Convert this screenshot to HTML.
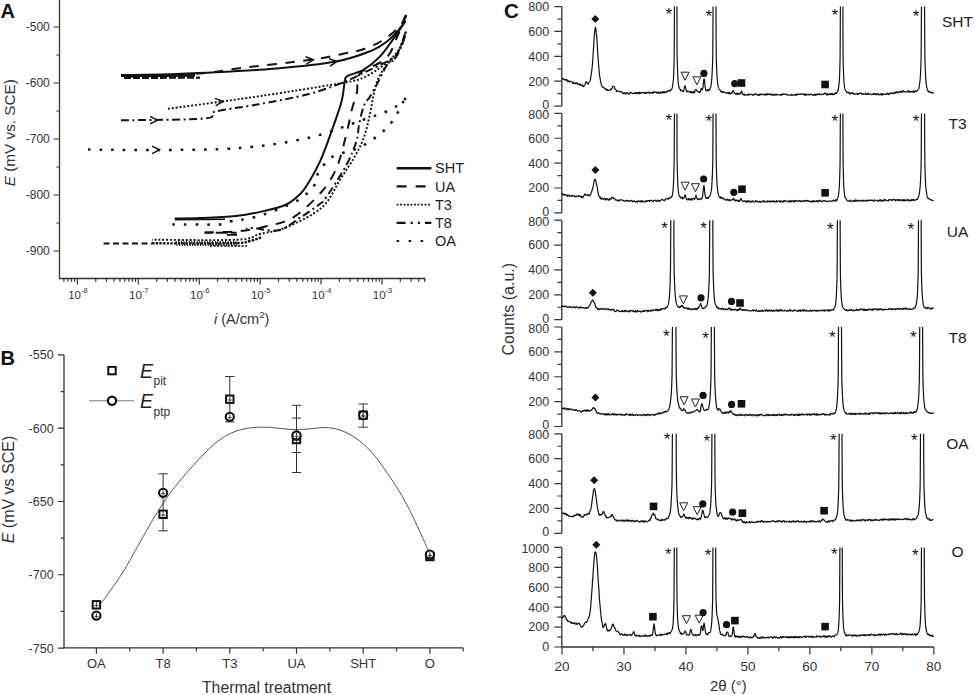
<!DOCTYPE html>
<html><head><meta charset="utf-8"><title>Figure</title>
<style>
html,body{margin:0;padding:0;background:#fff;width:975px;height:695px;overflow:hidden;}
svg{display:block;font-family:"Liberation Sans", sans-serif;}
</style></head><body>
<svg width="975" height="695" viewBox="0 0 975 695">
<rect width="975" height="695" fill="#fff"/>
<text x="0.5" y="18" font-size="20" text-anchor="start" font-weight="bold" font-style="normal" fill="#111" >A</text>
<path d="M59.5,0 V278.5 H425.5" fill="none" stroke="#333" stroke-width="1.3"/>
<text x="49.8" y="31.2" font-size="12" text-anchor="end" font-weight="normal" font-style="normal" fill="#333" >-500</text>
<text x="49.8" y="87.2" font-size="12" text-anchor="end" font-weight="normal" font-style="normal" fill="#333" >-600</text>
<text x="49.8" y="143.2" font-size="12" text-anchor="end" font-weight="normal" font-style="normal" fill="#333" >-700</text>
<text x="49.8" y="199.2" font-size="12" text-anchor="end" font-weight="normal" font-style="normal" fill="#333" >-800</text>
<text x="49.8" y="255.2" font-size="12" text-anchor="end" font-weight="normal" font-style="normal" fill="#333" >-900</text>
<text x="77.9" y="298.5" font-size="11.5" text-anchor="middle" fill="#333">10<tspan font-size="7.5" dy="-5.5">-8</tspan></text>
<text x="138.82" y="298.5" font-size="11.5" text-anchor="middle" fill="#333">10<tspan font-size="7.5" dy="-5.5">-7</tspan></text>
<text x="199.74" y="298.5" font-size="11.5" text-anchor="middle" fill="#333">10<tspan font-size="7.5" dy="-5.5">-6</tspan></text>
<text x="260.66" y="298.5" font-size="11.5" text-anchor="middle" fill="#333">10<tspan font-size="7.5" dy="-5.5">-5</tspan></text>
<text x="321.58" y="298.5" font-size="11.5" text-anchor="middle" fill="#333">10<tspan font-size="7.5" dy="-5.5">-4</tspan></text>
<text x="382.5" y="298.5" font-size="11.5" text-anchor="middle" fill="#333">10<tspan font-size="7.5" dy="-5.5">-3</tspan></text>
<path d="M53.5,27 H59.5 M56.3,55 H59.5 M53.5,83 H59.5 M56.3,111 H59.5 M53.5,139 H59.5 M56.3,167 H59.5 M53.5,195 H59.5 M56.3,223 H59.5 M53.5,251 H59.5 M63.88,278.5 V281.7 M67.96,278.5 V281.7 M71.5,278.5 V281.7 M74.61,278.5 V281.7 M77.4,278.5 V284.5 M95.74,278.5 V281.7 M106.47,278.5 V281.7 M114.08,278.5 V281.7 M119.98,278.5 V281.7 M124.8,278.5 V281.7 M128.88,278.5 V281.7 M132.42,278.5 V281.7 M135.53,278.5 V281.7 M138.32,278.5 V284.5 M156.66,278.5 V281.7 M167.39,278.5 V281.7 M175,278.5 V281.7 M180.9,278.5 V281.7 M185.72,278.5 V281.7 M189.8,278.5 V281.7 M193.34,278.5 V281.7 M196.45,278.5 V281.7 M199.24,278.5 V284.5 M217.58,278.5 V281.7 M228.31,278.5 V281.7 M235.92,278.5 V281.7 M241.82,278.5 V281.7 M246.64,278.5 V281.7 M250.72,278.5 V281.7 M254.26,278.5 V281.7 M257.37,278.5 V281.7 M260.16,278.5 V284.5 M278.5,278.5 V281.7 M289.23,278.5 V281.7 M296.84,278.5 V281.7 M302.74,278.5 V281.7 M307.56,278.5 V281.7 M311.64,278.5 V281.7 M315.18,278.5 V281.7 M318.29,278.5 V281.7 M321.08,278.5 V284.5 M339.42,278.5 V281.7 M350.15,278.5 V281.7 M357.76,278.5 V281.7 M363.66,278.5 V281.7 M368.48,278.5 V281.7 M372.56,278.5 V281.7 M376.1,278.5 V281.7 M379.21,278.5 V281.7 M382,278.5 V284.5 M400.34,278.5 V281.7 M411.07,278.5 V281.7 M418.68,278.5 V281.7 M424.58,278.5 V281.7" stroke="#333" stroke-width="1.2" fill="none"/>
<text x="214" y="323.5" font-size="14.5" fill="#333"><tspan font-style="italic">i</tspan> (A/cm<tspan font-size="9.5" dy="-5.5">2</tspan><tspan dy="5.5">)</tspan></text>
<text transform="translate(14.5,132.7) rotate(-90)" x="0" y="0" font-size="15.3" text-anchor="middle" fill="#333"><tspan font-style="italic">E</tspan> (mV vs. SCE)</text>
<path d="M396.6,168.2 H431.4" stroke="#111" stroke-width="2.6" fill="none" />
<text x="435" y="173.4" font-size="14.5" text-anchor="start" font-weight="normal" font-style="normal" fill="#222" >SHT</text>
<path d="M396.6,186.4 H431.4" stroke="#111" stroke-width="2.2" fill="none" stroke-dasharray="10 9"/>
<text x="435" y="191.6" font-size="14.5" text-anchor="start" font-weight="normal" font-style="normal" fill="#222" >UA</text>
<path d="M396.6,204.6 H431.4" stroke="#111" stroke-width="1.8" fill="none" stroke-dasharray="1.8 1.7"/>
<text x="435" y="209.8" font-size="14.5" text-anchor="start" font-weight="normal" font-style="normal" fill="#222" >T3</text>
<path d="M396.6,222.8 H431.4" stroke="#111" stroke-width="2.2" fill="none" stroke-dasharray="9 5 2.2 5 2.2 5"/>
<text x="435" y="228" font-size="14.5" text-anchor="start" font-weight="normal" font-style="normal" fill="#222" >T8</text>
<path d="M396.6,241 H431.4" stroke="#111" stroke-width="2.2" fill="none" stroke-dasharray="2.5 9.5"/>
<text x="435" y="246.2" font-size="14.5" text-anchor="start" font-weight="normal" font-style="normal" fill="#222" >OA</text>
<path d="M121,75.6 L160,75.8 L195,75.4" stroke="#111" stroke-width="2.6" fill="none"/>
<path d="M124,78 L200,77.6" stroke="#111" stroke-width="2.2" fill="none" stroke-dasharray="7 2"/>
<path d="M121,75 C127.5,74.93 146,74.97 160,74.6 C174,74.23 186,73.78 205,72.8 C224,71.82 252.17,70.58 274,68.7 C295.83,66.82 319.72,64.52 336,61.5 C352.28,58.48 363.12,54.02 371.7,50.6 C380.28,47.18 383.02,44.43 387.5,41 C391.98,37.57 395.6,33.33 398.6,30 C401.6,26.67 404.35,22.5 405.5,21" stroke="#111" stroke-width="2.0" fill="none" stroke-linecap="butt" />
<path d="M405.5,21 C403.42,24.07 397.32,33.42 393,39.4 C388.68,45.38 384.47,51.87 379.6,56.9 C374.73,61.93 369.08,66.43 363.8,69.6 C358.52,72.77 351.07,74.05 347.9,75.9 C344.73,77.75 345.85,76.47 344.8,80.7 C343.75,84.93 344,92.32 341.6,101.3 C339.2,110.28 333.95,124.68 330.4,134.6 C326.85,144.52 323.87,152.9 320.3,160.8 C316.73,168.7 312.3,176.52 309,182 C305.7,187.48 304.3,189.95 300.5,193.7 C296.7,197.45 292.18,201.63 286.2,204.5 C280.22,207.37 272.98,208.98 264.6,210.9 C256.22,212.82 246.67,214.8 235.9,216 C225.13,217.2 210.2,217.7 200,218.1 C189.8,218.5 178.92,218.35 174.7,218.4" stroke="#111" stroke-width="2.0" fill="none" stroke-linecap="butt" />
<path d="M175,219.6 L225,219.2" stroke="#111" stroke-width="1.6" fill="none"/>
<path d="M124,77 C136.67,76.42 180.75,74.97 200,73.5 C219.25,72.03 221.33,70.45 239.5,68.2 C257.67,65.95 291.72,62.4 309,60 C326.28,57.6 334.07,55.63 343.2,53.8 C352.33,51.97 357.2,51.25 363.8,49 C370.4,46.75 376.77,44.13 382.8,40.3 C388.83,36.47 396.07,30.53 400,26 C403.93,21.47 405.33,15.25 406.4,13.1" stroke="#111" stroke-width="2.0" fill="none" stroke-linecap="butt" stroke-dasharray="9.5 8.5"/>
<path d="M406.4,15 C405,18.33 401.4,27.75 398,35 C394.6,42.25 392.33,52.08 386,58.5 C379.67,64.92 364.83,67.92 360,73.5 C355.17,79.08 358.33,86.08 357,92 C355.67,97.92 353.5,103.17 352,109 C350.5,114.83 349.92,119.03 348,127 C346.08,134.97 342.92,148.92 340.5,156.8 C338.08,164.68 336.82,168.27 333.5,174.3 C330.18,180.33 327.3,185.82 320.6,193 C313.9,200.18 302.63,211.78 293.3,217.4 C283.97,223.02 274.03,224.38 264.6,226.7 C255.17,229.02 246.75,230.33 236.7,231.3 C226.65,232.27 209.7,232.3 204.3,232.5" stroke="#111" stroke-width="2.0" fill="none" stroke-linecap="butt" stroke-dasharray="9.5 8.5"/>
<path d="M227,234.9 H237" stroke="#111" stroke-width="1.8"/>
<path d="M103.5,243.4 L152,243.4" stroke="#111" stroke-width="2.0" fill="none" stroke-linecap="butt" stroke-dasharray="6 3.5"/>
<path d="M168,108.8 C177,107.58 204.33,103.97 222,101.5 C239.67,99.03 253.33,97.2 274,94 C294.67,90.8 331.03,85.05 346,82.3 C360.97,79.55 358.2,79.88 363.8,77.5 C369.4,75.12 374.85,71.3 379.6,68 C384.35,64.7 388.57,61.53 392.3,57.7 C396.03,53.87 399.72,49.62 402,45 C404.28,40.38 405.33,32.5 406,30" stroke="#111" stroke-width="1.9" fill="none" stroke-linecap="butt" stroke-dasharray="2 1.9"/>
<path d="M406,32 C404.23,36.28 398.48,52.37 395.4,57.7 C392.32,63.03 390.4,60.45 387.5,64 C384.6,67.55 380.37,73.58 378,79 C375.63,84.42 374.75,90.15 373.3,96.5 C371.85,102.85 370.88,110.23 369.3,117.1 C367.72,123.97 366.25,131.08 363.8,137.7 C361.35,144.32 358.48,149.92 354.6,156.8 C350.72,163.68 345.93,170.58 340.5,179 C335.07,187.42 331.05,199.23 322,207.3 C312.95,215.37 296.53,222.95 286.2,227.4 C275.87,231.85 268.2,231.95 260,234 C251.8,236.05 255,238.75 237,239.7 C219,240.65 166.17,239.7 152,239.7" stroke="#111" stroke-width="1.9" fill="none" stroke-linecap="butt" stroke-dasharray="2 1.9"/>
<path d="M121,120.3 C134.93,120 188.93,119.95 204.6,118.5 C220.27,117.05 206.27,113.92 215,111.6 C223.73,109.28 241.33,107.53 257,104.6 C272.67,101.67 294.5,97.77 309,94 C323.5,90.23 334.67,85.67 344,82 C353.33,78.33 359.33,74.67 365,72 C370.67,69.33 372.83,68.83 378,66 C383.17,63.17 391.5,60.33 396,55 C400.5,49.67 403.5,37.5 405,34" stroke="#111" stroke-width="2.0" fill="none" stroke-linecap="butt" stroke-dasharray="8 3.5 2 3.5"/>
<path d="M405,36.3 C404.2,38.42 401.8,45.43 400.2,49 C398.6,52.57 397.52,55.2 395.4,57.7 C393.28,60.2 390.4,59.9 387.5,64 C384.6,68.1 380.9,76.88 378,82.3 C375.1,87.72 372.47,92.55 370.1,96.5 C367.73,100.45 365.65,101.25 363.8,106 C361.95,110.75 360.2,119.23 359,125 C357.8,130.77 358.68,133.97 356.6,140.6 C354.52,147.23 351.53,155.4 346.5,164.8 C341.47,174.2 330.95,190.38 326.4,197 C321.85,203.62 323.52,201.1 319.2,204.5 C314.88,207.9 307.2,213.1 300.5,217.4 C293.8,221.7 286.97,228.53 279,230.3 C271.03,232.07 258.2,228.22 252.7,228 C247.2,227.78 247.12,228.83 246,229" stroke="#111" stroke-width="2.0" fill="none" stroke-linecap="butt" stroke-dasharray="8 3.5 2 3.5"/>
<path d="M204.7,232.8 H236.7" stroke="#111" stroke-width="2" stroke-dasharray="8 3 12 3"/>
<path d="M88,149.5 C99,149.58 128.75,150.25 154,150 C179.25,149.75 213.67,150.05 239.5,148 C265.33,145.95 288.67,142.32 309,137.7 C329.33,133.08 348.2,124.85 361.5,120.3 C374.8,115.75 381.83,113.62 388.8,110.4 C395.77,107.18 400.43,103.57 403.3,101 C406.17,98.43 405.55,96 406,95" stroke="#111" stroke-width="2.5" fill="none" stroke-linecap="butt" stroke-dasharray="2.6 9"/>
<path d="M172.4,224.4 C180.12,224.4 208.98,224.92 218.7,224.4 C228.42,223.88 227.15,222.03 230.7,221.3 C234.25,220.57 235.57,220.8 240,220 C244.43,219.2 250.8,218.37 257.3,216.5 C263.8,214.63 271.8,211.77 279,208.8 C286.2,205.83 294.52,202.77 300.5,198.7 C306.48,194.63 311.93,188.68 314.9,184.4 C317.87,180.12 315.38,177.6 318.3,173 C321.22,168.4 326.02,160.85 332.4,156.8 C338.78,152.75 349.2,152.07 356.6,148.7 C364,145.33 370.73,141.3 376.8,136.6 C382.87,131.9 388.13,127.27 393,120.5 C397.87,113.73 403.83,100.08 406,96" stroke="#111" stroke-width="2.5" fill="none" stroke-linecap="butt" stroke-dasharray="2.6 9"/>
<path d="M152,243.3 C165.17,243.3 214.67,243.68 231,243.3 C247.33,242.92 244.83,242.05 250,241 C255.17,239.95 260,237.67 262,237" stroke="#111" stroke-width="2.4" fill="none" stroke-linecap="butt" stroke-dasharray="2.5 1.2"/>
<path d="M176,240.8 L177.2,246 M178.6,240.8 L179.8,246 M181.2,240.8 L182.4,246 M183.8,240.8 L185,246 M186.4,240.8 L187.6,246 M189,240.8 L190.2,246 M191.6,240.8 L192.8,246 M194.2,240.8 L195.4,246 M196.8,240.8 L198,246 M199.4,240.8 L200.6,246 M202,240.8 L203.2,246 M204.6,240.8 L205.8,246 M207.2,240.8 L208.4,246 M209.8,240.8 L211,246 M212.4,240.8 L213.6,246 M215,240.8 L216.2,246 M217.6,240.8 L218.8,246 M220.2,240.8 L221.4,246 M222.8,240.8 L224,246 M225.4,240.8 L226.6,246 M228,240.8 L229.2,246 M230.6,240.8 L231.8,246 M233.2,240.8 L234.4,246 M235.8,240.8 L237,246" stroke="#111" stroke-width="1" fill="none"/>
<path d="M210,246 L247.3,246" stroke="#111" stroke-width="1.5" fill="none" stroke-linecap="butt" stroke-dasharray="2.2 1.3"/>
<path d="M329.05,58.73 L337,61.4 L330.09,66.16" stroke="#111" stroke-width="1.5" fill="none"/>
<path d="M305.7,56.72 L313.5,59.8 L306.36,64.19" stroke="#111" stroke-width="1.5" fill="none"/>
<path d="M214.95,98.35 L222.8,101.3 L215.73,105.81" stroke="#111" stroke-width="1.5" fill="none"/>
<path d="M150,116.45 L157.5,120.2 L150,123.95" stroke="#111" stroke-width="1.5" fill="none"/>
<path d="M152,146.05 L159.5,149.8 L152,153.55" stroke="#111" stroke-width="1.5" fill="none"/>
<text x="0.5" y="365" font-size="20" text-anchor="start" font-weight="bold" font-style="normal" fill="#111" >B</text>
<path d="M64,354.9 V647.8 H463" fill="none" stroke="#333" stroke-width="1.3"/>
<text x="53.6" y="359.4" font-size="12.5" text-anchor="end" font-weight="normal" font-style="normal" fill="#333" >-550</text>
<text x="53.6" y="432.69" font-size="12.5" text-anchor="end" font-weight="normal" font-style="normal" fill="#333" >-600</text>
<text x="53.6" y="505.98" font-size="12.5" text-anchor="end" font-weight="normal" font-style="normal" fill="#333" >-650</text>
<text x="53.6" y="579.27" font-size="12.5" text-anchor="end" font-weight="normal" font-style="normal" fill="#333" >-700</text>
<text x="53.6" y="652.56" font-size="12.5" text-anchor="end" font-weight="normal" font-style="normal" fill="#333" >-750</text>
<path d="M57.8,354.9 H64 M60.6,391.54 H64 M57.8,428.19 H64 M60.6,464.83 H64 M57.8,501.48 H64 M60.6,538.12 H64 M57.8,574.77 H64 M60.6,611.41 H64 M57.8,648.06 H64 M96.4,647.8 V653.8 M129.75,647.8 V651.2 M163.1,647.8 V653.8 M196.45,647.8 V651.2 M229.8,647.8 V653.8 M263.15,647.8 V651.2 M296.5,647.8 V653.8 M329.85,647.8 V651.2 M363.2,647.8 V653.8 M396.55,647.8 V651.2 M429.9,647.8 V653.8 M463.25,647.8 V651.2" stroke="#333" stroke-width="1.2" fill="none"/>
<text x="96.4" y="668" font-size="13" text-anchor="middle" font-weight="normal" font-style="normal" fill="#333" >OA</text>
<text x="163.1" y="668" font-size="13" text-anchor="middle" font-weight="normal" font-style="normal" fill="#333" >T8</text>
<text x="229.8" y="668" font-size="13" text-anchor="middle" font-weight="normal" font-style="normal" fill="#333" >T3</text>
<text x="296.5" y="668" font-size="13" text-anchor="middle" font-weight="normal" font-style="normal" fill="#333" >UA</text>
<text x="363.2" y="668" font-size="13" text-anchor="middle" font-weight="normal" font-style="normal" fill="#333" >SHT</text>
<text x="429.9" y="668" font-size="13" text-anchor="middle" font-weight="normal" font-style="normal" fill="#333" >O</text>
<text x="266.5" y="693.2" font-size="15.8" text-anchor="middle" font-weight="normal" font-style="normal" fill="#333" >Thermal treatment</text>
<text transform="translate(14.2,489.5) rotate(-90)" font-size="16" text-anchor="middle" fill="#333"><tspan font-style="italic">E</tspan> (mV vs SCE)</text>
<path d="M89.2,400.8 H134.2" stroke="#777" stroke-width="1"/>
<rect x="108.3" y="366.9" width="7.4" height="7.4" fill="#fff" stroke="#111" stroke-width="2"/>
<circle cx="112" cy="400.8" r="4.1" fill="#fff" stroke="#111" stroke-width="2.2"/>
<text x="140" y="377.5" font-size="19.5" font-style="italic" fill="#222">E</text>
<text x="153.5" y="384.5" font-size="12" fill="#333">pit</text>
<text x="140" y="408" font-size="19.5" font-style="italic" fill="#222">E</text>
<text x="153.5" y="415.5" font-size="12" fill="#333">ptp</text>
<path d="M97,609 C99.17,606 105.67,597.17 110,591 C114.33,584.83 118.17,579.83 123,572 C127.83,564.17 133.67,553.33 139,544 C144.33,534.67 149.67,524.67 155,516 C160.33,507.33 165.67,499.25 171,492 C176.33,484.75 181.83,478.5 187,472.5 C192.17,466.5 196.83,461.25 202,456 C207.17,450.75 212.5,445.08 218,441 C223.5,436.92 229.17,433.75 235,431.5 C240.83,429.25 246.83,428.17 253,427.5 C259.17,426.83 265.67,427.17 272,427.5 C278.33,427.83 285,429.25 291,429.5 C297,429.75 302.33,429.33 308,429 C313.67,428.67 320,427.42 325,427.5 C330,427.58 333.83,428.33 338,429.5 C342.17,430.67 346,432.25 350,434.5 C354,436.75 358,439.58 362,443 C366,446.42 369.17,449.08 374,455 C378.83,460.92 385.67,470.5 391,478.5 C396.33,486.5 401.17,494.08 406,503 C410.83,511.92 416.17,523.83 420,532 C423.83,540.17 427.5,548.67 429,552" stroke="#555" stroke-width="1" fill="none"/>
<path d="M163.1,473.8 V530.8 M158.4,473.8 H167.8 M158.4,530.8 H167.8" stroke="#333" stroke-width="1" fill="none"/>
<path d="M229.8,376.5 V421.9 M225.1,376.5 H234.5 M225.1,421.9 H234.5" stroke="#333" stroke-width="1" fill="none"/>
<path d="M296.5,405.3 V472.5 M291.8,405.3 H301.2 M291.8,472.5 H301.2" stroke="#333" stroke-width="1" fill="none"/>
<path d="M291.8,418.1 H301.2 M291.8,452.5 H301.2" stroke="#333" stroke-width="1"/>
<path d="M363.2,404 V427.2 M358.5,404 H367.9 M358.5,427.2 H367.9" stroke="#333" stroke-width="1" fill="none"/>
<rect x="92.7" y="601.1" width="7.4" height="7.4" fill="#fff" stroke="#111" stroke-width="2"/>
<rect x="159.4" y="510.6" width="7.4" height="7.4" fill="#fff" stroke="#111" stroke-width="2"/>
<rect x="226.1" y="395.5" width="7.4" height="7.4" fill="#fff" stroke="#111" stroke-width="2"/>
<rect x="292.8" y="435.8" width="7.4" height="7.4" fill="#fff" stroke="#111" stroke-width="2"/>
<rect x="359.5" y="411.5" width="7.4" height="7.4" fill="#fff" stroke="#111" stroke-width="2"/>
<rect x="426.2" y="552.8" width="7.4" height="7.4" fill="#fff" stroke="#111" stroke-width="2"/>
<circle cx="96.4" cy="615.6" r="4.1" fill="#fff" stroke="#111" stroke-width="2.1"/>
<circle cx="163.1" cy="492.8" r="4.1" fill="#fff" stroke="#111" stroke-width="2.1"/>
<circle cx="229.8" cy="416.8" r="4.1" fill="#fff" stroke="#111" stroke-width="2.1"/>
<circle cx="296.5" cy="435.5" r="4.1" fill="#fff" stroke="#111" stroke-width="2.1"/>
<circle cx="363.2" cy="415.2" r="4.1" fill="#fff" stroke="#111" stroke-width="2.1"/>
<circle cx="429.9" cy="554.6" r="4.1" fill="#fff" stroke="#111" stroke-width="2.1"/>
<path d="M96.4,602.2 V607.4 M94.4,605.6 H98.4 M163.1,511.7 V516.9 M161.1,515.1 H165.1 M229.8,396.6 V401.8 M227.8,400 H231.8 M296.5,436.9 V442.1 M294.5,440.3 H298.5 M363.2,412.6 V417.8 M361.2,416 H365.2 M429.9,553.9 V559.1 M427.9,557.3 H431.9 M96.4,613 V618.2 M94.4,616.4 H98.4 M163.1,490.2 V495.4 M161.1,493.6 H165.1 M229.8,414.2 V419.4 M227.8,417.6 H231.8 M296.5,432.9 V438.1 M294.5,436.3 H298.5 M363.2,412.6 V417.8 M361.2,416 H365.2 M429.9,552 V557.2 M427.9,555.4 H431.9" stroke="#333" stroke-width="0.9" fill="none"/>
<text x="504" y="17.5" font-size="20.5" text-anchor="start" font-weight="bold" font-style="normal" fill="#111" >C</text>
<path d="M561.8,6.6 V106.1" stroke="#333" stroke-width="1.3" fill="none"/>
<text x="549.2" y="108.9" font-size="12.5" text-anchor="end" font-weight="normal" font-style="normal" fill="#333" >0</text>
<text x="549.2" y="85.62" font-size="12.5" text-anchor="end" font-weight="normal" font-style="normal" fill="#333" >200</text>
<text x="549.2" y="60.75" font-size="12.5" text-anchor="end" font-weight="normal" font-style="normal" fill="#333" >400</text>
<text x="549.2" y="35.87" font-size="12.5" text-anchor="end" font-weight="normal" font-style="normal" fill="#333" >600</text>
<text x="549.2" y="11" font-size="12.5" text-anchor="end" font-weight="normal" font-style="normal" fill="#333" >800</text>
<path d="M561.8,113.4 V212.9" stroke="#333" stroke-width="1.3" fill="none"/>
<text x="549.2" y="215.7" font-size="12.5" text-anchor="end" font-weight="normal" font-style="normal" fill="#333" >0</text>
<text x="549.2" y="192.42" font-size="12.5" text-anchor="end" font-weight="normal" font-style="normal" fill="#333" >200</text>
<text x="549.2" y="167.55" font-size="12.5" text-anchor="end" font-weight="normal" font-style="normal" fill="#333" >400</text>
<text x="549.2" y="142.67" font-size="12.5" text-anchor="end" font-weight="normal" font-style="normal" fill="#333" >600</text>
<text x="549.2" y="119" font-size="12.5" text-anchor="end" font-weight="normal" font-style="normal" fill="#333" >800</text>
<path d="M561.8,220.2 V319.7" stroke="#333" stroke-width="1.3" fill="none"/>
<text x="549.2" y="322.5" font-size="12.5" text-anchor="end" font-weight="normal" font-style="normal" fill="#333" >0</text>
<text x="549.2" y="299.22" font-size="12.5" text-anchor="end" font-weight="normal" font-style="normal" fill="#333" >200</text>
<text x="549.2" y="274.35" font-size="12.5" text-anchor="end" font-weight="normal" font-style="normal" fill="#333" >400</text>
<text x="549.2" y="249.47" font-size="12.5" text-anchor="end" font-weight="normal" font-style="normal" fill="#333" >600</text>
<text x="549.2" y="225.8" font-size="12.5" text-anchor="end" font-weight="normal" font-style="normal" fill="#333" >800</text>
<path d="M561.8,327 V426.5" stroke="#333" stroke-width="1.3" fill="none"/>
<text x="549.2" y="429.3" font-size="12.5" text-anchor="end" font-weight="normal" font-style="normal" fill="#333" >0</text>
<text x="549.2" y="406.02" font-size="12.5" text-anchor="end" font-weight="normal" font-style="normal" fill="#333" >200</text>
<text x="549.2" y="381.15" font-size="12.5" text-anchor="end" font-weight="normal" font-style="normal" fill="#333" >400</text>
<text x="549.2" y="356.27" font-size="12.5" text-anchor="end" font-weight="normal" font-style="normal" fill="#333" >600</text>
<text x="549.2" y="332.6" font-size="12.5" text-anchor="end" font-weight="normal" font-style="normal" fill="#333" >800</text>
<path d="M561.8,433.8 V533.3" stroke="#333" stroke-width="1.3" fill="none"/>
<text x="549.2" y="536.1" font-size="12.5" text-anchor="end" font-weight="normal" font-style="normal" fill="#333" >0</text>
<text x="549.2" y="512.82" font-size="12.5" text-anchor="end" font-weight="normal" font-style="normal" fill="#333" >200</text>
<text x="549.2" y="487.95" font-size="12.5" text-anchor="end" font-weight="normal" font-style="normal" fill="#333" >400</text>
<text x="549.2" y="463.07" font-size="12.5" text-anchor="end" font-weight="normal" font-style="normal" fill="#333" >600</text>
<text x="549.2" y="439.4" font-size="12.5" text-anchor="end" font-weight="normal" font-style="normal" fill="#333" >800</text>
<path d="M561.8,547.4 V647" stroke="#333" stroke-width="1.3" fill="none"/>
<text x="549.2" y="651.4" font-size="12.5" text-anchor="end" font-weight="normal" font-style="normal" fill="#333" >0</text>
<text x="549.2" y="631.48" font-size="12.5" text-anchor="end" font-weight="normal" font-style="normal" fill="#333" >200</text>
<text x="549.2" y="611.56" font-size="12.5" text-anchor="end" font-weight="normal" font-style="normal" fill="#333" >400</text>
<text x="549.2" y="591.64" font-size="12.5" text-anchor="end" font-weight="normal" font-style="normal" fill="#333" >600</text>
<text x="549.2" y="571.72" font-size="12.5" text-anchor="end" font-weight="normal" font-style="normal" fill="#333" >800</text>
<text x="549.2" y="553" font-size="12.5" text-anchor="end" font-weight="normal" font-style="normal" fill="#333" >1000</text>
<path d="M561.8,647 H934" stroke="#333" stroke-width="1.3" fill="none"/>
<text x="562" y="670.8" font-size="13.5" text-anchor="middle" font-weight="normal" font-style="normal" fill="#333" >20</text>
<text x="623.97" y="670.8" font-size="13.5" text-anchor="middle" font-weight="normal" font-style="normal" fill="#333" >30</text>
<text x="685.94" y="670.8" font-size="13.5" text-anchor="middle" font-weight="normal" font-style="normal" fill="#333" >40</text>
<text x="747.91" y="670.8" font-size="13.5" text-anchor="middle" font-weight="normal" font-style="normal" fill="#333" >50</text>
<text x="809.88" y="670.8" font-size="13.5" text-anchor="middle" font-weight="normal" font-style="normal" fill="#333" >60</text>
<text x="871.85" y="670.8" font-size="13.5" text-anchor="middle" font-weight="normal" font-style="normal" fill="#333" >70</text>
<text x="933.82" y="670.8" font-size="13.5" text-anchor="middle" font-weight="normal" font-style="normal" fill="#333" >80</text>
<path d="M554.3,106.1 H561.8 M557.5,93.66 H561.8 M554.3,81.22 H561.8 M557.5,68.79 H561.8 M554.3,56.35 H561.8 M557.5,43.91 H561.8 M554.3,31.47 H561.8 M557.5,19.04 H561.8 M554.3,6.6 H561.8 M554.3,212.9 H561.8 M557.5,200.46 H561.8 M554.3,188.02 H561.8 M557.5,175.59 H561.8 M554.3,163.15 H561.8 M557.5,150.71 H561.8 M554.3,138.27 H561.8 M557.5,125.84 H561.8 M554.3,113.4 H561.8 M554.3,319.7 H561.8 M557.5,307.26 H561.8 M554.3,294.82 H561.8 M557.5,282.39 H561.8 M554.3,269.95 H561.8 M557.5,257.51 H561.8 M554.3,245.07 H561.8 M557.5,232.64 H561.8 M554.3,220.2 H561.8 M554.3,426.5 H561.8 M557.5,414.06 H561.8 M554.3,401.62 H561.8 M557.5,389.19 H561.8 M554.3,376.75 H561.8 M557.5,364.31 H561.8 M554.3,351.88 H561.8 M557.5,339.44 H561.8 M554.3,327 H561.8 M554.3,533.3 H561.8 M557.5,520.86 H561.8 M554.3,508.42 H561.8 M557.5,495.99 H561.8 M554.3,483.55 H561.8 M557.5,471.11 H561.8 M554.3,458.68 H561.8 M557.5,446.24 H561.8 M554.3,433.8 H561.8 M554.3,647 H561.8 M557.5,637.04 H561.8 M554.3,627.08 H561.8 M557.5,617.12 H561.8 M554.3,607.16 H561.8 M557.5,597.2 H561.8 M554.3,587.24 H561.8 M557.5,577.28 H561.8 M554.3,567.32 H561.8 M557.5,557.36 H561.8 M554.3,547.4 H561.8 M562,647 V654.5 M592.99,647 V651.3 M623.97,647 V654.5 M654.96,647 V651.3 M685.94,647 V654.5 M716.92,647 V651.3 M747.91,647 V654.5 M778.89,647 V651.3 M809.88,647 V654.5 M840.87,647 V651.3 M871.85,647 V654.5 M902.84,647 V651.3 M933.82,647 V654.5" stroke="#333" stroke-width="1.2" fill="none"/>
<text x="710" y="690.5" font-size="15" fill="#333">2θ (°)</text>
<text transform="translate(513.5,309.2) rotate(-90)" font-size="16" text-anchor="middle" fill="#333">Counts (a.u.)</text>
<text x="957.5" y="27.1" font-size="15.5" text-anchor="middle" font-weight="normal" font-style="normal" fill="#222" >SHT</text>
<text x="957.5" y="128.7" font-size="15.5" text-anchor="middle" font-weight="normal" font-style="normal" fill="#222" >T3</text>
<text x="957.5" y="236.7" font-size="15.5" text-anchor="middle" font-weight="normal" font-style="normal" fill="#222" >UA</text>
<text x="957.5" y="343" font-size="15.5" text-anchor="middle" font-weight="normal" font-style="normal" fill="#222" >T8</text>
<text x="957.5" y="449" font-size="15.5" text-anchor="middle" font-weight="normal" font-style="normal" fill="#222" >OA</text>
<text x="957.5" y="557.4" font-size="15.5" text-anchor="middle" font-weight="normal" font-style="normal" fill="#222" >O</text>
<path d="M562,77.7 L562.5,78.44 L563,79.19 L563.5,79.29 L564,79.54 L564.5,79.25 L565,80.09 L565.5,79.84 L566,79.29 L566.5,80.14 L567,79.66 L567.5,81.37 L568,81.61 L568.5,80.78 L569,80.95 L569.5,81.94 L570,81.2 L570.5,81.29 L571,81.45 L571.5,81.86 L572,82.47 L572.5,83.19 L573,82.05 L573.5,83.46 L574,82.91 L574.5,83.64 L575,83.64 L575.5,82.66 L576,83.63 L576.5,82.88 L577,82.82 L577.5,83.62 L578,84.4 L578.5,84.19 L579,83.7 L579.5,84.94 L580,85.2 L580.5,84.24 L581,84.79 L581.5,85.3 L582,85.93 L582.5,84.8 L583,85.72 L583.5,86.61 L584,86.19 L584.5,85.37 L585,84.47 L585.5,83.01 L586,81.64 L586.5,82.6 L587,82.94 L587.5,83.06 L588,84.34 L588.5,82.87 L589,82.33 L589.5,81.88 L590,80.71 L590.5,79.04 L591,76.02 L591.5,72.32 L592,68.97 L592.5,63.3 L593,55.94 L593.5,48.25 L594,40.15 L594.5,33.57 L595,29.35 L595.5,27.15 L596,29.79 L596.5,34.76 L597,40.39 L597.5,49.34 L598,57.31 L598.5,63.62 L599,69.56 L599.5,75.12 L600,77.78 L600.5,80.81 L601,83.41 L601.5,84.99 L602,86.35 L602.5,87.05 L603,87.55 L603.5,87.3 L604,87.73 L604.5,88.12 L605,88.94 L605.5,89.52 L606,88.91 L606.5,89.46 L607,90.64 L607.5,89.79 L608,90.39 L608.5,90.28 L609,90.39 L609.5,90.08 L610,90.11 L610.5,90.15 L611,88.8 L611.5,89.23 L612,88.57 L612.5,86.43 L613,86.24 L613.5,86.34 L614,86.57 L614.5,87.47 L615,89.24 L615.5,89.18 L616,89.69 L616.5,91.57 L617,90.88 L617.5,91.26 L618,91.24 L618.5,91.17 L619,91.51 L619.5,91.21 L620,92.01 L620.5,91.59 L621,91.55 L621.5,91.8 L622,92.29 L622.5,93.32 L623,92.89 L623.5,93.69 L624,92.85 L624.5,92.75 L625,93.66 L625.5,92.76 L626,94.13 L626.5,93.08 L627,92.87 L627.5,92.86 L628,92.91 L628.5,93.97 L629,94.06 L629.5,93.31 L630,92.74 L630.5,92.36 L631,92.47 L631.5,92.83 L632,93.4 L632.5,93.36 L633,93.74 L633.5,93.68 L634,92.87 L634.5,93.41 L635,93.01 L635.5,93.48 L636,92.54 L636.5,93.88 L637,92.25 L637.5,93.25 L638,92.79 L638.5,93.54 L639,92.41 L639.5,93.67 L640,92.16 L640.5,93.39 L641,93.33 L641.5,92.98 L642,92.41 L642.5,92.75 L643,92.85 L643.5,92.44 L644,92.34 L644.5,93.49 L645,92.98 L645.5,92.5 L646,93.09 L646.5,93.1 L647,92.24 L647.5,92.99 L648,92.98 L648.5,92.17 L649,92.48 L649.5,93.43 L650,92.93 L650.5,92.32 L651,92.6 L651.5,92.7 L652,93.11 L652.5,93.36 L653,92.04 L653.5,91.96 L654,92.62 L654.5,91.89 L655,92.11 L655.5,92.02 L656,91.98 L656.5,92.88 L657,91.97 L657.5,92.76 L658,93.43 L658.5,92.02 L659,93.06 L659.5,92.75 L660,92.04 L660.5,93.3 L661,92.86 L661.5,92.19 L662,92.99 L662.5,91.58 L663,92.75 L663.5,92.7 L664,91.4 L664.5,92.67 L665,92.38 L665.5,92.52 L665.65,92.17 L665.75,91.94 L665.85,91.71 L665.95,91.48 L666,91.36 L666.05,91.43 L666.15,91.57 L666.25,91.71 L666.35,91.85 L666.45,91.98 L666.5,92.05 L666.55,92.05 L666.65,92.05 L666.75,92.04 L666.85,92.04 L666.95,92.03 L667,92.03 L667.05,91.94 L667.15,91.78 L667.25,91.61 L667.35,91.44 L667.45,91.27 L667.5,91.19 L667.55,91.12 L667.65,90.99 L667.75,90.86 L667.85,90.73 L667.95,90.6 L668,90.53 L668.05,90.52 L668.15,90.5 L668.25,90.47 L668.35,90.45 L668.45,90.42 L668.5,90.41 L668.55,90.48 L668.65,90.63 L668.75,90.78 L668.85,90.92 L668.95,91.07 L669,91.14 L669.05,91.13 L669.15,91.12 L669.25,91.11 L669.35,91.09 L669.45,91.08 L669.5,91.07 L669.55,90.98 L669.65,90.8 L669.75,90.62 L669.85,90.44 L669.95,90.26 L670,90.16 L670.05,90.23 L670.15,90.36 L670.25,90.48 L670.35,90.6 L670.45,90.72 L670.5,90.78 L670.55,90.66 L670.65,90.4 L670.75,90.14 L670.85,89.88 L670.95,89.61 L671,89.47 L671.05,89.51 L671.15,89.55 L671.25,89.57 L671.35,89.58 L671.45,89.58 L671.5,89.57 L671.55,89.49 L671.65,89.32 L671.75,89.14 L671.85,88.94 L671.95,88.72 L672,88.6 L672.05,88.42 L672.15,88.04 L672.25,87.63 L672.35,87.19 L672.45,86.69 L672.5,86.39 L672.55,86.1 L672.65,85.47 L672.75,84.77 L672.85,83.99 L672.95,83.13 L673,82.66 L673.05,82.33 L673.15,81.6 L673.25,80.75 L673.35,79.75 L673.45,78.51 L673.5,77.73 L673.55,76.74 L673.65,74.56 L673.75,72.06 L673.85,69.22 L673.95,65.97 L674,64.17 L674.05,62.22 L674.15,57.91 L674.25,48.15 L674.35,29.28 L674.45,6.6 M676.95,6.6 L676.95,29.22 L677,39.43 L677.05,47.87 L677.15,57.31 L677.25,61.3 L677.35,64.77 L677.45,67.77 L677.5,69.12 L677.55,70.57 L677.65,73.22 L677.75,75.57 L677.85,77.64 L677.95,79.35 L678,80.1 L678.05,80.66 L678.15,81.68 L678.25,82.58 L678.35,83.37 L678.45,84.05 L678.5,84.36 L678.55,84.84 L678.65,85.73 L678.75,86.55 L678.85,87.32 L678.95,87.96 L679,88.26 L679.05,88.25 L679.15,88.21 L679.25,88.15 L679.35,88.06 L679.45,87.96 L679.5,87.89 L679.55,88.03 L679.65,88.29 L679.75,88.53 L679.85,88.76 L679.95,88.97 L680,89.07 L680.05,89.25 L680.15,89.61 L680.25,89.94 L680.35,90.24 L680.45,90.54 L680.5,90.69 L680.55,90.6 L680.65,90.41 L680.75,90.21 L680.85,90.02 L680.95,89.82 L681,89.71 L681.05,89.77 L681.15,89.89 L681.25,90 L681.35,90.11 L681.45,90.21 L681.5,90.27 L681.55,90.29 L681.65,90.33 L681.75,90.37 L681.85,90.41 L681.95,90.45 L682,90.47 L682.05,90.59 L682.15,90.81 L682.25,91.04 L682.35,91.27 L682.45,91.49 L682.5,91.6 L682.55,91.58 L682.65,91.54 L682.75,91.5 L682.85,91.45 L682.95,91.39 L683,91.36 L683.05,91.39 L683.15,91.46 L683.25,91.51 L683.35,91.54 L683.45,91.54 L683.5,91.53 L683.55,91.35 L683.65,90.94 L683.75,90.5 L683.85,90.01 L683.95,89.46 L684,89.17 L684.05,88.98 L684.15,88.55 L684.25,88.09 L684.35,87.61 L684.45,87.11 L684.5,86.87 L684.55,86.69 L684.65,86.36 L684.75,86.08 L684.85,85.87 L684.95,85.76 L685,85.74 L685.05,85.77 L685.15,85.93 L685.25,86.2 L685.35,86.57 L685.45,87.03 L685.5,87.3 L685.55,87.47 L685.65,87.87 L686,89.37 L686.5,91.63 L687,91.91 L687.5,91.02 L688,91.48 L688.5,91.35 L689,91.51 L689.5,92.23 L690,91.9 L690.5,92.5 L691,91.3 L691.5,92.87 L692,91.67 L692.5,92.71 L693,92.94 L693.5,91.63 L694,92.48 L694.5,92.94 L695,90.45 L695.5,89.99 L696,89.38 L696.5,90.14 L697,90.97 L697.5,91.54 L698,91.81 L698.5,91.7 L699,91.77 L699.5,92.73 L700,92.63 L700.5,90.78 L701,88.93 L701.5,88.36 L702,89.95 L702.5,89.06 L703,87.45 L703.5,81.7 L704,78.76 L704.5,79.9 L704.6,80.87 L704.7,81.93 L704.8,83.05 L704.9,84.19 L705,85.32 L705.1,86.16 L705.2,86.92 L705.3,87.61 L705.4,88.19 L705.5,88.68 L705.6,89.29 L705.7,89.81 L705.8,90.25 L705.9,90.61 L706,90.92 L706.1,90.96 L706.2,90.95 L706.3,90.92 L706.4,90.86 L706.5,90.78 L706.6,90.74 L706.7,90.68 L706.8,90.62 L706.9,90.56 L707,90.49 L707.1,90.33 L707.2,90.16 L707.3,89.99 L707.4,89.83 L707.5,89.66 L707.6,89.89 L707.7,90.13 L707.8,90.38 L707.9,90.63 L708,90.88 L708.1,90.57 L708.2,90.27 L708.3,89.96 L708.4,89.65 L708.5,89.34 L708.6,89.46 L708.7,89.57 L708.8,89.68 L708.9,89.79 L709,89.89 L709.1,89.97 L709.2,90.04 L709.3,90.1 L709.4,90.16 L709.5,90.21 L709.6,90.01 L709.7,89.8 L709.8,89.58 L709.9,89.35 L710,89.11 L710.1,88.77 L710.2,88.41 L710.3,88.04 L710.4,87.65 L710.5,87.24 L710.6,87.15 L710.7,86.95 L710.8,86.71 L710.9,86.43 L711,86.1 L711.1,85.29 L711.2,84.42 L711.3,83.49 L711.4,82.48 L711.5,81.4 L711.6,80.56 L711.7,79.64 L711.8,78.61 L711.9,77.25 L712,75.72 L712.1,73.89 L712.2,71.85 L712.3,69.56 L712.4,67.01 L712.5,64.15 L712.6,61.02 L712.7,57.51 L712.8,49.85 L712.9,35.4 L713,15.93 L713.1,6.6 M716,6.6 L716,15.49 L716.1,35.18 L716.2,49.83 L716.3,57.71 L716.4,61.43 L716.5,64.77 L716.6,67.58 L716.7,70.09 L716.8,72.34 L716.9,74.34 L717,76.13 L717.1,77.66 L717.2,79.01 L717.3,80.04 L717.4,80.97 L717.5,81.8 L717.6,82.75 L717.7,83.63 L717.8,84.43 L717.9,85.17 L718,85.86 L718.1,86.26 L718.2,86.62 L718.3,86.93 L718.4,87.2 L718.5,87.36 L718.6,87.68 L718.7,87.97 L718.8,88.25 L718.9,88.51 L719,88.75 L719.1,88.9 L719.2,89.03 L719.3,89.15 L719.4,89.26 L719.5,89.36 L719.6,89.49 L719.7,89.62 L719.8,89.74 L719.9,89.85 L720,89.95 L720.1,90.2 L720.2,90.44 L720.3,90.68 L720.4,90.92 L720.5,91.16 L720.6,91.29 L720.7,91.41 L720.8,91.53 L720.9,91.65 L721,91.77 L721.1,91.82 L721.2,91.86 L721.3,91.9 L721.4,91.94 L721.5,91.98 L721.6,91.8 L721.7,91.63 L721.8,91.45 L721.9,91.27 L722,91.09 L722.1,91.37 L722.2,91.65 L722.3,91.93 L722.4,92.21 L722.5,92.49 L722.6,92.31 L722.7,92.13 L722.8,91.95 L722.9,91.77 L723,91.59 L723.1,91.73 L723.2,91.88 L723.3,92.02 L723.4,92.17 L723.5,92.31 L723.6,92.3 L723.7,92.3 L723.8,92.29 L723.9,92.28 L724,92.26 L724.1,92.24 L724.2,92.22 L724.3,92.2 L724.4,92.18 L724.5,92.16 L725,92.62 L725.5,93.04 L726,92.79 L726.5,92.54 L727,93.21 L727.5,93.09 L728,92.52 L728.5,93.63 L729,92.71 L729.5,92.15 L730,93.79 L730.5,93.81 L731,93.16 L731.5,93.55 L732,93.26 L732.5,91.35 L733,91.18 L733.5,90.75 L734,92.7 L734.5,93.04 L735,93.1 L735.5,94.04 L736,93.73 L736.5,94.33 L737,92.97 L737.5,94.11 L738,94.55 L738.5,93.37 L739,93.26 L739.5,93.99 L740,94.2 L740.5,93.6 L741,92.1 L741.5,90.95 L742,92.52 L742.5,94.42 L743,94.27 L743.5,94.25 L744,95.29 L744.5,94 L745,94.71 L745.5,95.18 L746,95.09 L746.5,95.02 L747,94.91 L747.5,94.51 L748,95.39 L748.5,93.75 L749,94.47 L749.5,94.52 L750,94.97 L750.5,94.24 L751,94.09 L751.5,94.51 L752,94.83 L752.5,94.65 L753,95.24 L753.5,94.55 L754,94.1 L754.5,94.84 L755,94.41 L755.5,93.79 L756,94.43 L756.5,93.94 L757,94.84 L757.5,95.29 L758,95 L758.5,95.38 L759,93.99 L759.5,95.17 L760,95.05 L760.5,94.16 L761,94.55 L761.5,94.04 L762,94.27 L762.5,94.63 L763,94.4 L763.5,94.4 L764,94.95 L764.5,94.89 L765,93.93 L765.5,94.7 L766,95.05 L766.5,93.79 L767,95 L767.5,93.76 L768,94.45 L768.5,94.38 L769,93.76 L769.5,93.85 L770,94.86 L770.5,94.17 L771,94.6 L771.5,93.99 L772,94.76 L772.5,95.3 L773,94.99 L773.5,94.33 L774,95.34 L774.5,94.3 L775,94.18 L775.5,94.42 L776,95.38 L776.5,94.36 L777,94.2 L777.5,94.62 L778,94.78 L778.5,94.99 L779,94.9 L779.5,94.84 L780,94.39 L780.5,94.44 L781,95.36 L781.5,94.53 L782,94.98 L782.5,94.3 L783,93.7 L783.5,94.35 L784,94.57 L784.5,94.36 L785,94.04 L785.5,93.95 L786,93.76 L786.5,94.87 L787,94.57 L787.5,95.06 L788,95.14 L788.5,94.95 L789,95.02 L789.5,95.2 L790,95.22 L790.5,95.06 L791,95.18 L791.5,94.25 L792,95.35 L792.5,95.18 L793,95.04 L793.5,95.1 L794,94.92 L794.5,94.63 L795,94.53 L795.5,95.23 L796,94.13 L796.5,94.74 L797,95.23 L797.5,94.09 L798,93.91 L798.5,94.17 L799,94.39 L799.5,94.5 L800,94.03 L800.5,94.05 L801,93.88 L801.5,94.43 L802,93.87 L802.5,94.23 L803,93.92 L803.5,94.7 L804,94.68 L804.5,94.01 L805,95.32 L805.5,94.1 L806,95.16 L806.5,94.13 L807,94.57 L807.5,94.62 L808,94.6 L808.5,94.19 L809,94.95 L809.5,94.67 L810,94.56 L810.5,94.43 L811,94.09 L811.5,94.3 L812,94.85 L812.5,94.81 L813,95.29 L813.5,94.83 L814,95.28 L814.5,94.15 L815,94.06 L815.5,95.29 L816,94.31 L816.5,94.57 L817,95.06 L817.5,93.8 L818,93.79 L818.5,94.38 L819,93.92 L819.5,93.68 L820,94.79 L820.5,94.51 L821,94.35 L821.5,94.66 L822,94.09 L822.5,94.24 L823,94.13 L823.5,94.6 L824,93.97 L824.5,93.49 L825,93 L825.5,93.47 L826,93.26 L826.5,94.82 L827,95.1 L827.5,93.68 L828,94.82 L828.5,94.53 L829,94.81 L829.5,93.58 L830,93.6 L830.5,94.42 L831,94.39 L831.5,93.58 L831.6,93.8 L831.7,94.02 L831.8,94.23 L831.9,94.45 L832,94.67 L832.1,94.43 L832.2,94.18 L832.3,93.94 L832.4,93.7 L832.5,93.46 L832.6,93.71 L832.7,93.97 L832.8,94.23 L832.9,94.48 L833,94.74 L833.1,94.69 L833.2,94.64 L833.3,94.59 L833.4,94.54 L833.5,94.49 L833.6,94.45 L833.7,94.4 L833.8,94.36 L833.9,94.31 L834,94.27 L834.1,94.29 L834.2,94.32 L834.3,94.34 L834.4,94.36 L834.5,94.38 L834.6,94.17 L834.7,93.95 L834.8,93.73 L834.9,93.51 L835,93.29 L835.1,93.36 L835.2,93.44 L835.3,93.51 L835.4,93.58 L835.5,93.66 L835.6,93.42 L835.7,93.17 L835.8,92.93 L835.9,92.68 L836,92.43 L836.1,92.63 L836.2,92.82 L836.3,93.01 L836.4,93.2 L836.5,93.39 L836.6,93.13 L836.7,92.86 L836.8,92.6 L836.9,92.31 L837,92 L837.1,91.83 L837.2,91.64 L837.3,91.44 L837.4,91.23 L837.5,91 L837.6,91.05 L837.7,91.07 L837.8,91.08 L837.9,91.07 L838,91.03 L838.1,90.49 L838.2,89.92 L838.3,89.27 L838.4,88.53 L838.5,87.73 L838.6,87.29 L838.7,86.79 L838.8,86.2 L838.9,85.52 L839,84.73 L839.1,83.75 L839.2,82.63 L839.3,81.32 L839.4,79.65 L839.5,77.73 L839.6,75.28 L839.7,72.51 L839.8,69.39 L839.9,65.86 L840,61.87 L840.1,57.1 L840.2,41.93 L840.3,20.48 L840.4,6.6 M842.9,6.6 L842.9,20.72 L843,42.48 L843.1,57.55 L843.2,62.22 L843.3,65.97 L843.4,69.25 L843.5,72.13 L843.6,74.65 L843.7,76.85 L843.8,78.78 L843.9,80.47 L844,81.78 L844.1,83.06 L844.2,84.2 L844.3,85.23 L844.4,86.16 L844.5,87 L844.6,87.54 L844.7,88.02 L844.8,88.43 L844.9,88.78 L845,89.03 L845.1,89.35 L845.2,89.64 L845.3,89.91 L845.4,90.16 L845.5,90.38 L845.6,90.52 L845.7,90.65 L845.8,90.76 L845.9,90.86 L846,90.94 L846.1,91.2 L846.2,91.45 L846.3,91.69 L846.4,91.89 L846.5,92.08 L846.6,92.21 L846.7,92.32 L846.8,92.44 L846.9,92.55 L847,92.66 L847.1,92.55 L847.2,92.44 L847.3,92.33 L847.4,92.21 L847.5,92.1 L847.6,92.16 L847.7,92.22 L847.8,92.29 L847.9,92.35 L848,92.41 L848.1,92.5 L848.2,92.6 L848.3,92.69 L848.4,92.79 L848.5,92.88 L848.6,92.77 L848.7,92.66 L848.8,92.55 L848.9,92.43 L849,92.32 L849.1,92.61 L849.2,92.9 L849.3,93.19 L849.4,93.48 L849.5,93.77 L849.6,93.57 L849.7,93.36 L849.8,93.16 L849.9,92.95 L850,92.74 L850.1,93 L850.2,93.27 L850.3,93.53 L850.4,93.79 L850.5,94.06 L850.6,93.95 L850.7,93.85 L850.8,93.74 L850.9,93.63 L851,93.53 L851.1,93.44 L851.2,93.36 L851.3,93.28 L851.4,93.2 L851.5,93.12 L851.6,93.04 L852,92.74 L852.5,93.71 L853,92.76 L853.5,93.25 L854,94.4 L854.5,94.13 L855,93.94 L855.5,93.74 L856,93.81 L856.5,94.04 L857,94.28 L857.5,92.97 L858,94.34 L858.5,94.49 L859,93.84 L859.5,93.42 L860,92.96 L860.5,93.47 L861,92.96 L861.5,94.07 L862,93.94 L862.5,94.19 L863,94.44 L863.5,93.51 L864,94.26 L864.5,94.26 L865,93.96 L865.5,93.13 L866,94.51 L866.5,93.99 L867,93.86 L867.5,94.53 L868,93.3 L868.5,93.17 L869,94.26 L869.5,94.36 L870,94.06 L870.5,94.12 L871,94.5 L871.5,94.6 L872,94.31 L872.5,94.47 L873,94.1 L873.5,93.53 L874,94.63 L874.5,93.36 L875,93.58 L875.5,94.28 L876,93.95 L876.5,94.85 L877,93.86 L877.5,94.2 L878,93.7 L878.5,94.83 L879,94.02 L879.5,94.64 L880,94.69 L880.5,94.22 L881,93.66 L881.5,95.12 L882,93.56 L882.5,94.91 L883,93.79 L883.5,94.27 L884,94.3 L884.5,94.19 L885,94.4 L885.5,94.47 L886,94.39 L886.5,93.27 L887,93.72 L887.5,93.33 L888,94.58 L888.5,93.77 L889,94.46 L889.5,93.06 L890,93.78 L890.5,93.43 L891,93.03 L891.5,92.71 L892,93.34 L892.5,93.74 L893,92.99 L893.5,92.96 L894,93.61 L894.5,92.36 L895,92.44 L895.5,93.27 L896,91.83 L896.5,91.68 L897,92.66 L897.5,92.28 L898,92.92 L898.5,92.27 L899,91.7 L899.5,92.27 L900,91.83 L900.5,92.06 L901,91.25 L901.5,90.95 L902,92.31 L902.5,92.12 L903,90.86 L903.5,90.71 L904,91.86 L904.5,91.68 L905,91.27 L905.5,91.97 L906,91.95 L906.5,91.98 L907,92.17 L907.5,92.01 L908,90.67 L908.5,91.77 L909,90.86 L909.5,92.24 L910,92.14 L910.5,91.79 L911,91.52 L911.5,91.95 L912,91.29 L912.5,91.96 L913,92.41 L913.1,92.09 L913.2,91.77 L913.3,91.45 L913.4,91.13 L913.5,90.81 L913.6,90.93 L913.7,91.04 L913.8,91.16 L913.9,91.27 L914,91.38 L914.1,91.52 L914.2,91.65 L914.3,91.78 L914.4,91.91 L914.5,92.04 L914.6,91.82 L914.7,91.59 L914.8,91.37 L914.9,91.14 L915,90.91 L915.1,90.95 L915.2,91 L915.3,91.04 L915.4,91.07 L915.5,91.11 L915.6,91.25 L915.7,91.38 L915.8,91.52 L915.9,91.65 L916,91.78 L916.1,91.67 L916.2,91.55 L916.3,91.44 L916.4,91.32 L916.5,91.2 L916.6,91.06 L916.7,90.91 L916.8,90.76 L916.9,90.61 L917,90.46 L917.1,90.46 L917.2,90.43 L917.3,90.39 L917.4,90.35 L917.5,90.3 L917.6,90.18 L917.7,90.05 L917.8,89.91 L917.9,89.77 L918,89.61 L918.1,89.51 L918.2,89.39 L918.3,89.26 L918.4,89.11 L918.5,88.95 L918.6,88.89 L918.7,88.82 L918.8,88.72 L918.9,88.55 L919,88.32 L919.1,87.64 L919.2,86.92 L919.3,86.15 L919.4,85.34 L919.5,84.47 L919.6,83.82 L919.7,83.1 L919.8,82.32 L919.9,81.46 L920,80.52 L920.1,79.65 L920.2,78.52 L920.3,77.22 L920.4,75.75 L920.5,74.1 L920.6,71.93 L920.7,69.53 L920.8,66.88 L920.9,63.96 L921,60.73 L921.1,57.36 L921.2,48.36 L921.3,34.28 L921.4,15.65 L921.5,6.6 M924.6,6.6 L924.6,15.02 L924.7,33.77 L924.8,47.98 L924.9,57.11 L925,60.61 L925.1,63.95 L925.2,66.98 L925.3,69.74 L925.4,72.25 L925.5,74.54 L925.6,76.39 L925.7,78.05 L925.8,79.56 L925.9,80.9 L926,81.97 L926.1,82.88 L926.2,83.7 L926.3,84.45 L926.4,85.14 L926.5,85.75 L926.6,86.33 L926.7,86.85 L926.8,87.32 L926.9,87.75 L927,88.13 L927.1,88.62 L927.2,89.05 L927.3,89.4 L927.4,89.74 L927.5,90.05 L927.6,90.35 L927.7,90.63 L927.8,90.89 L927.9,91.15 L928,91.39 L928.1,91.32 L928.2,91.24 L928.3,91.15 L928.4,91.05 L928.5,90.95 L928.6,91.21 L928.7,91.47 L928.8,91.73 L928.9,91.97 L929,92.18 L929.1,92.04 L929.2,91.89 L929.3,91.74 L929.4,91.59 L929.5,91.44 L929.6,91.58 L929.7,91.71 L929.8,91.84 L929.9,91.97 L930,92.1 L930.1,92.19 L930.2,92.28 L930.3,92.37 L930.4,92.45 L930.5,92.53 L930.6,92.6 L930.7,92.67 L930.8,92.74 L930.9,92.8 L931,92.86 L931.1,92.75 L931.2,92.63 L931.3,92.52 L931.4,92.4 L931.5,92.28 L931.6,92.37 L931.7,92.47 L931.8,92.56 L931.9,92.65 L932,92.74 L932.1,92.68 L932.2,92.61 L932.3,92.55 L932.4,92.49 L932.5,92.42 L932.6,92.5 L932.7,92.59 L932.8,92.67 L932.9,92.76 L933,92.84 L933.5,93.67" stroke="#111" stroke-width="1.2" fill="none" stroke-linejoin="round"/>
<path d="M595.3,15 l4,4 l-4,4 l-4,-4z" fill="#111"/>
<text x="668.7" y="20.4" font-size="17" text-anchor="middle" fill="#111">*</text>
<text x="708.7" y="21.8" font-size="17" text-anchor="middle" fill="#111">*</text>
<text x="834.8" y="21.2" font-size="17" text-anchor="middle" fill="#111">*</text>
<text x="916" y="21.8" font-size="17" text-anchor="middle" fill="#111">*</text>
<path d="M681.1,72.2 h8 l-4,8z" fill="#fff" stroke="#222" stroke-width="1"/>
<path d="M692.9,76.8 h8 l-4,8z" fill="#fff" stroke="#222" stroke-width="1"/>
<circle cx="703.9" cy="73.4" r="3.6" fill="#111"/>
<circle cx="734.7" cy="83.6" r="3.6" fill="#111"/>
<rect x="737.7" y="79.2" width="7.6" height="7.6" fill="#111"/>
<rect x="821.3" y="80.7" width="7.6" height="7.6" fill="#111"/>
<path d="M562,193.94 L562.5,193.46 L563,194.94 L563.5,195.05 L564,194.44 L564.5,194.95 L565,194.36 L565.5,194.55 L566,194.84 L566.5,195.7 L567,195.06 L567.5,196.53 L568,195.17 L568.5,195.4 L569,195.24 L569.5,196.42 L570,195.76 L570.5,195.96 L571,195.73 L571.5,196.28 L572,195.9 L572.5,195.59 L573,195.99 L573.5,195.8 L574,195.49 L574.5,196.72 L575,196.5 L575.5,196.49 L576,196.88 L576.5,196.08 L577,196.07 L577.5,196.16 L578,196.15 L578.5,196.62 L579,195.52 L579.5,196.32 L580,196.46 L580.5,196.4 L581,196.12 L581.5,197.55 L582,196.63 L582.5,197.84 L583,197.41 L583.5,196.33 L584,195.71 L584.5,194.64 L585,193.91 L585.5,194.9 L586,195.07 L586.5,194.54 L587,195.12 L587.5,194.9 L588,195.02 L588.5,195.73 L589,194.8 L589.5,195.71 L590,195.25 L590.5,194.91 L591,193.11 L591.5,192.18 L592,190.5 L592.5,188.93 L593,187.44 L593.5,184.67 L594,182.22 L594.5,179.27 L595,179.57 L595.5,180.18 L596,181.84 L596.5,184.25 L597,185.99 L597.5,188.92 L598,192.52 L598.5,194.49 L599,196.28 L599.5,196.58 L600,198.03 L600.5,197.25 L601,198.97 L601.5,199.09 L602,198.37 L602.5,198.09 L603,199.08 L603.5,199.36 L604,198.83 L604.5,198.38 L605,198.8 L605.5,199.77 L606,198.57 L606.5,200.05 L607,198.93 L607.5,198.89 L608,198.77 L608.5,200.28 L609,200.15 L609.5,199.11 L610,198.59 L610.5,199.27 L611,199.27 L611.5,197.3 L612,197.9 L612.5,198 L613,197.34 L613.5,197.84 L614,198.76 L614.5,198.37 L615,198.95 L615.5,199.99 L616,200.05 L616.5,200.18 L617,199.93 L617.5,201.01 L618,199.96 L618.5,200.67 L619,201.08 L619.5,200.29 L620,199.74 L620.5,200.05 L621,199.81 L621.5,199.98 L622,199.95 L622.5,200.36 L623,200.43 L623.5,200.59 L624,200.98 L624.5,201.03 L625,201.07 L625.5,200.54 L626,201.08 L626.5,200.91 L627,200.22 L627.5,200.95 L628,200.59 L628.5,201.22 L629,201.35 L629.5,200.53 L630,200.89 L630.5,200.95 L631,200.7 L631.5,200.29 L632,200.33 L632.5,201.96 L633,201.56 L633.5,201.07 L634,201.48 L634.5,200.83 L635,201.61 L635.5,202.04 L636,201.76 L636.5,201.27 L637,202.17 L637.5,202.09 L638,200.65 L638.5,201.28 L639,201.37 L639.5,201.09 L640,201.7 L640.5,200.87 L641,201.87 L641.5,202.03 L642,200.65 L642.5,201.7 L643,200.95 L643.5,201.56 L644,201.63 L644.5,202.09 L645,201.76 L645.5,200.95 L646,201.59 L646.5,200.57 L647,201.51 L647.5,200.98 L648,200.7 L648.5,200.63 L649,200.57 L649.5,201.53 L650,200.31 L650.5,200.52 L651,200.43 L651.5,200.34 L652,201.29 L652.5,201.02 L653,201.13 L653.5,201.51 L654,200.71 L654.5,199.99 L655,200.22 L655.5,200.75 L656,201.07 L656.5,201.39 L657,200.67 L657.5,200.16 L658,200.76 L658.5,201.31 L659,200.27 L659.5,201.26 L660,201.19 L660.5,200.53 L661,200.27 L661.5,199.57 L662,199.44 L662.5,199.22 L663,200.09 L663.5,200.16 L664,200.53 L664.5,199.76 L665,200.32 L665.5,199.2 L665.65,199.03 L665.75,198.92 L665.85,198.8 L665.95,198.69 L666,198.63 L666.05,198.6 L666.15,198.56 L666.25,198.51 L666.35,198.46 L666.45,198.41 L666.5,198.38 L666.55,198.41 L666.65,198.46 L666.75,198.51 L666.85,198.56 L666.95,198.62 L667,198.64 L667.05,198.67 L667.15,198.72 L667.25,198.78 L667.35,198.83 L667.45,198.89 L667.5,198.91 L667.55,198.97 L667.65,199.1 L667.75,199.22 L667.85,199.34 L667.95,199.47 L668,199.53 L668.05,199.39 L668.15,199.13 L668.25,198.86 L668.35,198.59 L668.45,198.32 L668.5,198.19 L668.55,198.16 L668.65,198.1 L668.75,198.04 L668.85,197.98 L668.95,197.92 L669,197.88 L669.05,197.95 L669.15,198.07 L669.25,198.19 L669.35,198.31 L669.45,198.43 L669.5,198.49 L669.55,198.4 L669.65,198.24 L669.75,198.07 L669.85,197.9 L669.95,197.73 L670,197.64 L670.05,197.65 L670.15,197.67 L670.25,197.68 L670.35,197.69 L670.45,197.7 L670.5,197.7 L670.55,197.6 L670.65,197.41 L670.75,197.21 L670.85,197 L670.95,196.79 L671,196.68 L671.05,196.74 L671.15,196.86 L671.25,196.97 L671.35,197.07 L671.45,197.15 L671.5,197.19 L671.55,197.12 L671.65,196.95 L671.75,196.77 L671.85,196.58 L671.95,196.36 L672,196.24 L672.05,196.08 L672.15,195.73 L672.25,195.36 L672.35,194.95 L672.45,194.41 L672.5,194.12 L672.55,193.87 L672.65,193.32 L672.75,192.71 L672.85,192.01 L672.95,191.22 L673,190.79 L673.05,190.2 L673.15,188.93 L673.25,187.53 L673.35,185.99 L673.45,184.06 L673.5,183 L673.55,181.93 L673.65,179.57 L673.75,176.9 L673.85,173.88 L673.95,170.45 L674,168.56 L674.05,166.65 L674.15,162.42 L674.25,149.02 L674.35,128.57 L674.45,113.4 M676.95,113.4 L676.95,128.47 L677,139.64 L677.05,149.05 L677.15,162.65 L677.25,167.06 L677.35,170.95 L677.45,174.37 L677.5,175.93 L677.55,177.42 L677.65,180.15 L677.75,182.57 L677.85,184.72 L677.95,186.61 L678,187.38 L678.05,188.02 L678.15,189.2 L678.25,190.25 L678.35,191.18 L678.45,192.02 L678.5,192.4 L678.55,192.75 L678.65,193.39 L678.75,193.95 L678.85,194.45 L678.95,194.89 L679,195.06 L679.05,195.23 L679.15,195.54 L679.25,195.83 L679.35,196.09 L679.45,196.33 L679.5,196.44 L679.55,196.46 L679.65,196.47 L679.75,196.46 L679.85,196.44 L679.95,196.4 L680,196.37 L680.05,196.54 L680.15,196.87 L680.25,197.19 L680.35,197.49 L680.45,197.76 L680.5,197.89 L680.55,197.83 L680.65,197.7 L680.75,197.57 L680.85,197.44 L680.95,197.3 L681,197.23 L681.05,197.31 L681.15,197.45 L681.25,197.6 L681.35,197.74 L681.45,197.88 L681.5,197.95 L681.55,197.89 L681.65,197.75 L681.75,197.62 L681.85,197.48 L681.95,197.34 L682,197.27 L682.05,197.43 L682.15,197.76 L682.25,198.09 L682.35,198.42 L682.45,198.74 L682.5,198.9 L682.55,198.79 L682.65,198.55 L682.75,198.32 L682.85,198.08 L682.95,197.83 L683,197.71 L683.05,197.79 L683.15,197.95 L683.25,198.09 L683.35,198.22 L683.45,198.33 L683.5,198.38 L683.55,198.35 L683.65,198.27 L683.75,198.17 L683.85,198.02 L683.95,197.84 L684,197.74 L684.05,197.61 L684.15,197.33 L684.25,197.03 L684.35,196.7 L684.45,196.37 L684.5,196.2 L684.55,196.05 L684.65,195.77 L684.75,195.52 L684.85,195.33 L684.95,195.2 L685,195.17 L685.05,195.09 L685.15,195 L685.25,194.99 L685.35,195.06 L685.45,195.19 L685.5,195.28 L685.55,195.5 L685.65,195.97 L686,197.72 L686.5,199.25 L687,199.21 L687.5,199.98 L688,199.84 L688.5,198.56 L689,199.67 L689.5,198.74 L690,199.77 L690.5,199.25 L691,200.04 L691.5,198.63 L692,200.13 L692.5,198.57 L693,198.56 L693.5,198.43 L694,198.53 L694.5,199.57 L695,198.23 L695.5,196.89 L696,195.13 L696.5,196.99 L697,198.55 L697.5,199.16 L698,198.57 L698.5,199.77 L699,199.34 L699.5,199.24 L700,198.53 L700.5,198.7 L701,199.26 L701.5,198.75 L702,198.24 L702.5,197.26 L703,192.48 L703.5,188.42 L704,185.45 L704.5,189.53 L704.6,190.57 L704.7,191.63 L704.8,192.67 L704.9,193.67 L705,194.59 L705.1,195.12 L705.2,195.56 L705.3,195.9 L705.4,196.15 L705.5,196.3 L705.6,196.84 L705.7,197.31 L705.8,197.73 L705.9,198.09 L706,198.42 L706.1,198.34 L706.2,198.23 L706.3,198.11 L706.4,197.98 L706.5,197.83 L706.6,197.94 L706.7,198.04 L706.8,198.13 L706.9,198.23 L707,198.32 L707.1,198.29 L707.2,198.26 L707.3,198.23 L707.4,198.2 L707.5,198.16 L707.6,197.96 L707.7,197.76 L707.8,197.56 L707.9,197.36 L708,197.16 L708.1,197.4 L708.2,197.63 L708.3,197.87 L708.4,198.1 L708.5,198.33 L708.6,198.04 L708.7,197.75 L708.8,197.46 L708.9,197.16 L709,196.86 L709.1,196.73 L709.2,196.6 L709.3,196.45 L709.4,196.3 L709.5,196.13 L709.6,196.1 L709.7,196.06 L709.8,196 L709.9,195.94 L710,195.86 L710.1,195.53 L710.2,195.18 L710.3,194.82 L710.4,194.45 L710.5,194.05 L710.6,193.77 L710.7,193.38 L710.8,192.95 L710.9,192.48 L711,191.96 L711.1,191.59 L711.2,191.17 L711.3,190.68 L711.4,190.12 L711.5,189.49 L711.6,188.31 L711.7,187.04 L711.8,185.67 L711.9,183.97 L712,182.1 L712.1,180.41 L712.2,178.51 L712.3,176.37 L712.4,173.97 L712.5,171.26 L712.6,168.19 L712.7,164.74 L712.8,157.14 L712.9,142.75 L713,123.33 L713.1,113.4 M716,113.4 L716,123.16 L716.1,142.73 L716.2,157.26 L716.3,165 L716.4,168.59 L716.5,171.81 L716.6,174.67 L716.7,177.22 L716.8,179.51 L716.9,181.55 L717,183.38 L717.1,184.98 L717.2,186.41 L717.3,187.51 L717.4,188.5 L717.5,189.41 L717.6,190.2 L717.7,190.91 L717.8,191.56 L717.9,192.13 L718,192.65 L718.1,193.34 L718.2,193.98 L718.3,194.57 L718.4,195.13 L718.5,195.57 L718.6,195.76 L718.7,195.94 L718.8,196.1 L718.9,196.24 L719,196.36 L719.1,196.55 L719.2,196.73 L719.3,196.9 L719.4,197.05 L719.5,197.2 L719.6,197.38 L719.7,197.54 L719.8,197.7 L719.9,197.86 L720,198 L720.1,197.77 L720.2,197.53 L720.3,197.3 L720.4,197.06 L720.5,196.81 L720.6,197.09 L720.7,197.37 L720.8,197.65 L720.9,197.92 L721,198.19 L721.1,198.17 L721.2,198.15 L721.3,198.13 L721.4,198.11 L721.5,198.09 L721.6,197.92 L721.7,197.75 L721.8,197.58 L721.9,197.41 L722,197.24 L722.1,197.37 L722.2,197.5 L722.3,197.62 L722.4,197.75 L722.5,197.88 L722.6,198.07 L722.7,198.27 L722.8,198.47 L722.9,198.66 L723,198.86 L723.1,198.83 L723.2,198.81 L723.3,198.78 L723.4,198.75 L723.5,198.72 L723.6,198.77 L723.7,198.82 L723.8,198.87 L723.9,198.91 L724,198.96 L724.1,198.9 L724.2,198.84 L724.3,198.78 L724.4,198.72 L724.5,198.65 L725,199.28 L725.5,199.96 L726,200.27 L726.5,199.68 L727,200.12 L727.5,199.16 L728,199.38 L728.5,200.23 L729,200.81 L729.5,199.73 L730,199.9 L730.5,200.52 L731,200.22 L731.5,199.94 L732,199.83 L732.5,199.67 L733,199.38 L733.5,198.22 L734,200.21 L734.5,199.73 L735,200.29 L735.5,201.06 L736,199.96 L736.5,200.52 L737,200.26 L737.5,200.42 L738,201.56 L738.5,200.35 L739,201.31 L739.5,201.56 L740,199.94 L740.5,199.87 L741,198.24 L741.5,199.77 L742,200.61 L742.5,200.76 L743,201.8 L743.5,201.51 L744,200.89 L744.5,201.35 L745,200.9 L745.5,200.91 L746,202.05 L746.5,202.13 L747,200.77 L747.5,202.08 L748,201.76 L748.5,200.59 L749,200.78 L749.5,201.37 L750,202.16 L750.5,202.14 L751,201.08 L751.5,201.41 L752,202.22 L752.5,201.01 L753,200.83 L753.5,201.36 L754,201.81 L754.5,202.13 L755,202.14 L755.5,200.67 L756,200.95 L756.5,200.87 L757,201.66 L757.5,201.34 L758,202.22 L758.5,201.7 L759,201.7 L759.5,201.82 L760,201 L760.5,202.17 L761,202.11 L761.5,202.04 L762,201.97 L762.5,200.93 L763,200.72 L763.5,201.25 L764,201.84 L764.5,200.96 L765,202.09 L765.5,202.07 L766,201.79 L766.5,201.43 L767,200.86 L767.5,201.97 L768,200.89 L768.5,201.43 L769,201.88 L769.5,201.66 L770,200.98 L770.5,202.07 L771,201.12 L771.5,201.28 L772,201.31 L772.5,201.75 L773,200.62 L773.5,201.64 L774,201.38 L774.5,201.91 L775,201.16 L775.5,201.51 L776,202.18 L776.5,200.63 L777,201.88 L777.5,201.32 L778,201.03 L778.5,200.98 L779,200.88 L779.5,201.94 L780,200.85 L780.5,202.14 L781,201.38 L781.5,200.98 L782,201.82 L782.5,201.48 L783,201.99 L783.5,200.73 L784,201.65 L784.5,200.52 L785,200.78 L785.5,201.17 L786,201 L786.5,200.94 L787,201.42 L787.5,201.72 L788,201.16 L788.5,201.31 L789,201.77 L789.5,200.82 L790,202.13 L790.5,200.47 L791,201.06 L791.5,201.83 L792,200.82 L792.5,200.98 L793,200.7 L793.5,202.07 L794,201.9 L794.5,200.54 L795,201.32 L795.5,200.66 L796,200.42 L796.5,200.77 L797,201.58 L797.5,201.28 L798,200.87 L798.5,201.36 L799,200.51 L799.5,200.95 L800,200.53 L800.5,201.76 L801,201.01 L801.5,201.57 L802,200.92 L802.5,201.05 L803,201.32 L803.5,200.78 L804,201.27 L804.5,201.65 L805,200.45 L805.5,200.66 L806,200.36 L806.5,201.15 L807,200.5 L807.5,201.2 L808,200.58 L808.5,201.2 L809,200.78 L809.5,201.57 L810,201.68 L810.5,201.92 L811,201.07 L811.5,201.79 L812,201.74 L812.5,200.85 L813,201.94 L813.5,201.9 L814,200.53 L814.5,201.54 L815,201.43 L815.5,201.3 L816,201.46 L816.5,200.72 L817,201.66 L817.5,201.47 L818,200.55 L818.5,201.87 L819,201.48 L819.5,200.32 L820,200.28 L820.5,200.51 L821,201.34 L821.5,201.44 L822,201.79 L822.5,201.71 L823,200.55 L823.5,200.53 L824,200.34 L824.5,200.85 L825,200.91 L825.5,200.83 L826,201.57 L826.5,201.22 L827,201.54 L827.5,201.63 L828,201.47 L828.5,201.03 L829,200.85 L829.5,201.05 L830,200.92 L830.5,201.26 L831,201.57 L831.5,201.25 L831.6,201.11 L831.7,200.96 L831.8,200.81 L831.9,200.67 L832,200.52 L832.1,200.62 L832.2,200.72 L832.3,200.82 L832.4,200.92 L832.5,201.02 L832.6,200.98 L832.7,200.93 L832.8,200.89 L832.9,200.84 L833,200.8 L833.1,200.68 L833.2,200.55 L833.3,200.43 L833.4,200.31 L833.5,200.18 L833.6,200.16 L833.7,200.14 L833.8,200.13 L833.9,200.11 L834,200.09 L834.1,200.19 L834.2,200.29 L834.3,200.39 L834.4,200.5 L834.5,200.59 L834.6,200.74 L834.7,200.89 L834.8,201.03 L834.9,201.18 L835,201.32 L835.1,201.21 L835.2,201.1 L835.3,200.99 L835.4,200.88 L835.5,200.77 L835.6,200.51 L835.7,200.26 L835.8,200 L835.9,199.74 L836,199.47 L836.1,199.72 L836.2,199.96 L836.3,200.2 L836.4,200.44 L836.5,200.68 L836.6,200.55 L836.7,200.42 L836.8,200.27 L836.9,200.09 L837,199.91 L837.1,199.74 L837.2,199.55 L837.3,199.35 L837.4,199.14 L837.5,198.92 L837.6,198.51 L837.7,198.09 L837.8,197.65 L837.9,197.18 L838,196.7 L838.1,196.49 L838.2,196.23 L838.3,195.85 L838.4,195.43 L838.5,194.94 L838.6,194.29 L838.7,193.56 L838.8,192.75 L838.9,191.85 L839,190.84 L839.1,189.76 L839.2,188.54 L839.3,187.01 L839.4,185.2 L839.5,183.15 L839.6,180.64 L839.7,177.82 L839.8,174.63 L839.9,171.03 L840,166.97 L840.1,159.31 L840.2,142.87 L840.3,119.74 L840.4,113.4 M842.9,113.4 L842.9,119.36 L843,142.51 L843.1,159.36 L843.2,167.44 L843.3,171.62 L843.4,175.34 L843.5,178.65 L843.6,181.37 L843.7,183.76 L843.8,185.88 L843.9,187.75 L844,189.35 L844.1,190.61 L844.2,191.74 L844.3,192.75 L844.4,193.65 L844.5,194.47 L844.6,195.17 L844.7,195.8 L844.8,196.36 L844.9,196.87 L845,197.31 L845.1,197.5 L845.2,197.63 L845.3,197.73 L845.4,197.81 L845.5,197.87 L845.6,198.11 L845.7,198.32 L845.8,198.53 L845.9,198.71 L846,198.88 L846.1,198.94 L846.2,198.99 L846.3,199.03 L846.4,199.05 L846.5,199.05 L846.6,199.36 L846.7,199.67 L846.8,199.98 L846.9,200.28 L847,200.58 L847.1,200.65 L847.2,200.72 L847.3,200.79 L847.4,200.86 L847.5,200.92 L847.6,200.98 L847.7,201.04 L847.8,201.1 L847.9,201.15 L848,201.2 L848.1,201.11 L848.2,201.02 L848.3,200.93 L848.4,200.84 L848.5,200.75 L848.6,200.83 L848.7,200.92 L848.8,201 L848.9,201.08 L849,201.16 L849.1,201.19 L849.2,201.22 L849.3,201.25 L849.4,201.28 L849.5,201.3 L849.6,201.07 L849.7,200.83 L849.8,200.6 L849.9,200.36 L850,200.12 L850.1,200.11 L850.2,200.1 L850.3,200.09 L850.4,200.08 L850.5,200.06 L850.6,200.34 L850.7,200.62 L850.8,200.9 L850.9,201.18 L851,201.46 L851.1,201.49 L851.2,201.53 L851.3,201.56 L851.4,201.6 L851.5,201.63 L851.6,201.54 L852,201.2 L852.5,201.04 L853,200.66 L853.5,201.44 L854,200.47 L854.5,200.07 L855,201.33 L855.5,200.06 L856,201.17 L856.5,201.05 L857,200.12 L857.5,200.67 L858,200.38 L858.5,201.28 L859,201.22 L859.5,200.45 L860,200.14 L860.5,200.45 L861,200.61 L861.5,200.88 L862,201.45 L862.5,200.38 L863,200.07 L863.5,200.88 L864,200.53 L864.5,201.06 L865,200.91 L865.5,200.71 L866,201.16 L866.5,200.09 L867,201.08 L867.5,200.05 L868,200.55 L868.5,200.67 L869,200.64 L869.5,199.9 L870,200.48 L870.5,200.16 L871,200.15 L871.5,200.38 L872,200.36 L872.5,200 L873,200.81 L873.5,201.21 L874,201.23 L874.5,199.92 L875,200 L875.5,200.29 L876,200.6 L876.5,200.76 L877,200.57 L877.5,200.4 L878,201.25 L878.5,201.17 L879,200.9 L879.5,199.95 L880,200.82 L880.5,199.57 L881,201.11 L881.5,200.68 L882,201.05 L882.5,200.19 L883,200.67 L883.5,199.88 L884,201.01 L884.5,199.74 L885,199.44 L885.5,199.89 L886,200.53 L886.5,200.31 L887,200.76 L887.5,200.54 L888,200.7 L888.5,200.96 L889,199.46 L889.5,199.52 L890,199.82 L890.5,199.55 L891,200.25 L891.5,200.53 L892,199.6 L892.5,200.13 L893,199.7 L893.5,199.3 L894,199.71 L894.5,199.7 L895,200.41 L895.5,200.88 L896,199.34 L896.5,200.05 L897,199.99 L897.5,200.26 L898,199.44 L898.5,200.8 L899,199.64 L899.5,200.14 L900,199.84 L900.5,200.11 L901,200.66 L901.5,200.22 L902,199.75 L902.5,200.8 L903,199.48 L903.5,200.82 L904,200.34 L904.5,199.62 L905,200.89 L905.5,200.69 L906,200.09 L906.5,200.6 L907,199.39 L907.5,199.71 L908,200.06 L908.5,200.84 L909,199.87 L909.5,200.93 L910,200.22 L910.5,200.45 L911,200.56 L911.5,199.44 L912,200.76 L912.5,200.18 L913,199.35 L913.1,199.35 L913.2,199.35 L913.3,199.35 L913.4,199.35 L913.5,199.35 L913.6,199.56 L913.7,199.78 L913.8,199.99 L913.9,200.19 L914,200.4 L914.1,200.31 L914.2,200.22 L914.3,200.12 L914.4,200.03 L914.5,199.93 L914.6,200.04 L914.7,200.15 L914.8,200.26 L914.9,200.36 L915,200.47 L915.1,200.42 L915.2,200.38 L915.3,200.34 L915.4,200.29 L915.5,200.24 L915.6,200.11 L915.7,199.98 L915.8,199.84 L915.9,199.71 L916,199.57 L916.1,199.49 L916.2,199.41 L916.3,199.33 L916.4,199.25 L916.5,199.16 L916.6,199.24 L916.7,199.31 L916.8,199.38 L916.9,199.45 L917,199.51 L917.1,199.53 L917.2,199.52 L917.3,199.5 L917.4,199.48 L917.5,199.45 L917.6,199.1 L917.7,198.75 L917.8,198.4 L917.9,198.03 L918,197.65 L918.1,197.56 L918.2,197.46 L918.3,197.34 L918.4,197.22 L918.5,197.07 L918.6,196.71 L918.7,196.32 L918.8,195.92 L918.9,195.44 L919,194.91 L919.1,194.45 L919.2,193.95 L919.3,193.4 L919.4,192.81 L919.5,192.16 L919.6,191.48 L919.7,190.74 L919.8,189.93 L919.9,189.05 L920,188.08 L920.1,187.12 L920.2,185.89 L920.3,184.5 L920.4,182.94 L920.5,181.2 L920.6,179.23 L920.7,177.05 L920.8,174.61 L920.9,171.9 L921,168.89 L921.1,165.54 L921.2,156.56 L921.3,142.51 L921.4,123.9 L921.5,113.4 M924.6,113.4 L924.6,123.25 L924.7,142 L924.8,156.2 L924.9,165.32 L925,168.81 L925.1,172.06 L925.2,175.01 L925.3,177.69 L925.4,180.11 L925.5,182.32 L925.6,183.98 L925.7,185.47 L925.8,186.79 L925.9,187.95 L926,188.84 L926.1,189.68 L926.2,190.43 L926.3,191.11 L926.4,191.72 L926.5,192.26 L926.6,192.99 L926.7,193.67 L926.8,194.3 L926.9,194.88 L927,195.42 L927.1,195.89 L927.2,196.31 L927.3,196.64 L927.4,196.96 L927.5,197.26 L927.6,197.52 L927.7,197.76 L927.8,197.99 L927.9,198.2 L928,198.41 L928.1,198.38 L928.2,198.34 L928.3,198.3 L928.4,198.24 L928.5,198.18 L928.6,198.33 L928.7,198.47 L928.8,198.61 L928.9,198.74 L929,198.84 L929.1,198.86 L929.2,198.87 L929.3,198.88 L929.4,198.88 L929.5,198.89 L929.6,199.05 L929.7,199.21 L929.8,199.36 L929.9,199.52 L930,199.67 L930.1,199.67 L930.2,199.66 L930.3,199.65 L930.4,199.64 L930.5,199.63 L930.6,199.63 L930.7,199.63 L930.8,199.63 L930.9,199.63 L931,199.62 L931.1,199.71 L931.2,199.79 L931.3,199.88 L931.4,199.96 L931.5,200.04 L931.6,200.14 L931.7,200.24 L931.8,200.34 L931.9,200.44 L932,200.54 L932.1,200.51 L932.2,200.47 L932.3,200.44 L932.4,200.4 L932.5,200.37 L932.6,200.42 L932.7,200.47 L932.8,200.52 L932.9,200.57 L933,200.63 L933.5,200.11" stroke="#111" stroke-width="1.2" fill="none" stroke-linejoin="round"/>
<path d="M595.4,166 l4,4 l-4,4 l-4,-4z" fill="#111"/>
<text x="668.7" y="126.2" font-size="17" text-anchor="middle" fill="#111">*</text>
<text x="708.7" y="126.8" font-size="17" text-anchor="middle" fill="#111">*</text>
<text x="834.8" y="126.8" font-size="17" text-anchor="middle" fill="#111">*</text>
<text x="916" y="126.8" font-size="17" text-anchor="middle" fill="#111">*</text>
<path d="M681.1,182.2 h8 l-4,8z" fill="#fff" stroke="#222" stroke-width="1"/>
<path d="M691.4,183.7 h8 l-4,8z" fill="#fff" stroke="#222" stroke-width="1"/>
<circle cx="703.6" cy="179" r="3.6" fill="#111"/>
<circle cx="733.8" cy="192.3" r="3.6" fill="#111"/>
<rect x="738.2" y="185.4" width="7.6" height="7.6" fill="#111"/>
<rect x="821.3" y="189" width="7.6" height="7.6" fill="#111"/>
<path d="M562,305.6 L562.5,306.46 L563,305.76 L563.5,306.75 L564,306.63 L564.5,306.32 L565,306.77 L565.5,306.75 L566,305.92 L566.5,306.81 L567,307.03 L567.5,306.92 L568,307.6 L568.5,307.41 L569,306.87 L569.5,306.67 L570,306.57 L570.5,307.74 L571,307.55 L571.5,307.43 L572,307.16 L572.5,307.28 L573,306.82 L573.5,307.36 L574,306.72 L574.5,307.55 L575,307.58 L575.5,307.66 L576,306.96 L576.5,306.71 L577,307.13 L577.5,307.75 L578,307.47 L578.5,307.89 L579,307.36 L579.5,307.32 L580,308.21 L580.5,306.96 L581,307.05 L581.5,307.71 L582,307.8 L582.5,307.48 L583,307.7 L583.5,307.52 L584,307.92 L584.5,308.31 L585,308.22 L585.5,307.91 L586,307.61 L586.5,308.44 L587,307.57 L587.5,307.77 L588,307.97 L588.5,307.28 L589,306.21 L589.5,305.99 L590,304.72 L590.5,304.07 L591,302.36 L591.5,301.14 L592,301.13 L592.5,300.07 L593,300.07 L593.5,301.7 L594,302.8 L594.5,302.79 L595,303.96 L595.5,306.53 L596,307.6 L596.5,307.55 L597,307.9 L597.5,309.03 L598,309.73 L598.5,308.61 L599,309.08 L599.5,309.49 L600,308.76 L600.5,309.11 L601,308.66 L601.5,309.24 L602,308.83 L602.5,308.58 L603,309.12 L603.5,308.72 L604,308.68 L604.5,308.75 L605,309.21 L605.5,309.05 L606,309.76 L606.5,309.24 L607,308.96 L607.5,308.87 L608,309.07 L608.5,309.84 L609,308.93 L609.5,309.39 L610,309.98 L610.5,310.03 L611,309.41 L611.5,310.07 L612,309.74 L612.5,309.25 L613,309.24 L613.5,309.59 L614,310.86 L614.5,310.4 L615,311.37 L615.5,311.6 L616,311.53 L616.5,310.78 L617,310 L617.5,310.47 L618,310.38 L618.5,311.12 L619,311.22 L619.5,311.61 L620,311.25 L620.5,311.69 L621,311.15 L621.5,310.89 L622,311.51 L622.5,310.57 L623,311.43 L623.5,311.36 L624,311.6 L624.5,310.24 L625,310.47 L625.5,311.77 L626,310.41 L626.5,310.95 L627,311.21 L627.5,311.02 L628,311.7 L628.5,311.84 L629,310.81 L629.5,310.47 L630,311.8 L630.5,311.03 L631,310.69 L631.5,310.52 L632,310.31 L632.5,311.29 L633,310.79 L633.5,311.27 L634,311.9 L634.5,311.16 L635,311.97 L635.5,310.47 L636,311.66 L636.5,311.66 L637,312.02 L637.5,310.45 L638,311.27 L638.5,311.37 L639,311.45 L639.5,311.24 L640,310.91 L640.5,311.96 L641,311.89 L641.5,311.57 L642,311.98 L642.5,311.27 L643,310.44 L643.5,311.45 L644,310.43 L644.5,311.5 L645,311.3 L645.5,310.53 L646,310.41 L646.5,310.24 L647,310.4 L647.5,311.74 L648,310.44 L648.5,311.53 L649,310.23 L649.5,310.55 L650,310.75 L650.5,310.49 L651,311.46 L651.5,310.16 L652,310.51 L652.5,309.97 L653,309.75 L653.5,310.67 L654,310.01 L654.5,310.19 L655,310.48 L655.5,309.39 L656,309.26 L656.5,310.27 L657,310.73 L657.5,309.01 L658,309.67 L658.5,310.52 L659,310.17 L659.5,310.37 L660,309.51 L660.5,310.17 L661,308.52 L661.5,309.13 L662,309.66 L662.3,309.12 L662.4,308.94 L662.5,308.76 L662.6,308.75 L662.7,308.74 L662.8,308.73 L662.9,308.72 L663,308.72 L663.1,308.69 L663.2,308.67 L663.3,308.64 L663.4,308.62 L663.5,308.59 L663.6,308.54 L663.7,308.49 L663.8,308.43 L663.9,308.38 L664,308.32 L664.1,308.43 L664.2,308.55 L664.3,308.66 L664.4,308.77 L664.5,308.88 L664.6,308.9 L664.7,308.91 L664.8,308.93 L664.9,308.94 L665,308.95 L665.1,308.66 L665.2,308.36 L665.3,308.06 L665.4,307.76 L665.5,307.45 L665.6,307.43 L665.7,307.41 L665.8,307.39 L665.9,307.36 L666,307.33 L666.1,307.43 L666.2,307.53 L666.3,307.63 L666.4,307.72 L666.5,307.82 L666.6,307.7 L666.7,307.57 L666.8,307.43 L666.9,307.29 L667,307.13 L667.1,307.02 L667.2,306.89 L667.3,306.75 L667.4,306.61 L667.5,306.45 L667.6,306.21 L667.7,305.96 L667.8,305.69 L667.9,305.41 L668,305.11 L668.1,304.91 L668.2,304.7 L668.3,304.39 L668.4,304.04 L668.5,303.64 L668.6,303.11 L668.7,302.52 L668.8,301.88 L668.9,301.19 L669,300.43 L669.1,299.56 L669.2,298.61 L669.3,297.58 L669.4,296.45 L669.5,295.17 L669.6,293.58 L669.7,291.84 L669.8,289.91 L669.9,287.79 L670,285.44 L670.1,282.9 L670.2,280.09 L670.3,276.98 L670.4,273.53 L670.5,267.11 L670.6,254.22 L670.7,237.02 L670.8,220.2 M673.9,220.2 L673.9,236.45 L674,253.63 L674.1,266.69 L674.2,272.95 L674.3,276.24 L674.4,279.19 L674.5,281.84 L674.6,284.33 L674.7,286.58 L674.8,288.6 L674.9,290.43 L675,292.08 L675.1,293.53 L675.2,294.73 L675.3,295.76 L675.4,296.7 L675.5,297.56 L675.6,298.49 L675.7,299.35 L675.8,300.15 L675.9,300.89 L676,301.57 L676.1,302.14 L676.2,302.65 L676.3,303.13 L676.4,303.57 L676.5,303.91 L676.6,304.18 L676.7,304.43 L676.8,304.67 L676.9,304.89 L677,305.1 L677.1,305.25 L677.2,305.39 L677.3,305.51 L677.4,305.63 L677.5,305.73 L677.6,305.97 L677.7,306.2 L677.8,306.43 L677.9,306.64 L678,306.85 L678.1,306.94 L678.2,307.01 L678.3,307.08 L678.4,307.14 L678.5,307.2 L678.6,307.08 L678.7,306.96 L678.8,306.84 L678.9,306.71 L679,306.58 L679.1,306.8 L679.2,307.01 L679.3,307.22 L679.4,307.42 L679.5,307.63 L679.6,307.59 L679.7,307.56 L679.8,307.52 L679.9,307.47 L680,307.42 L680.1,307.26 L680.2,307.1 L680.3,306.92 L680.4,306.73 L680.5,306.53 L680.6,306.59 L680.7,306.64 L680.8,306.67 L680.9,306.68 L681,306.69 L681.1,306.43 L681.2,306.17 L681.3,305.9 L681.4,305.64 L681.5,305.39 L681.6,305.38 L681.7,305.38 L681.8,305.41 L681.9,305.47 L682,305.56 L682.1,305.74 L682.2,305.95 L682.3,306.19 L682.5,306.73 L683,306.2 L683.5,307.77 L684,307.95 L684.5,307.85 L685,307.58 L685.5,308.44 L686,308.2 L686.5,307.88 L687,308.48 L687.5,309.03 L688,308.09 L688.5,309.36 L689,308.24 L689.5,308.97 L690,308.87 L690.5,309.69 L691,309.73 L691.5,309.45 L692,308.68 L692.5,308.71 L693,309.55 L693.5,308.99 L694,309.19 L694.5,309.32 L695,308.4 L695.5,308.71 L696,309.66 L696.5,308.57 L697,309.42 L697.5,308.18 L698,307.76 L698.5,308.16 L699,306.9 L699.5,306.13 L700,305.15 L700.5,303.33 L701,304.59 L701.25,305.03 L701.35,305.24 L701.45,305.45 L701.5,305.56 L701.55,305.78 L701.65,306.21 L701.75,306.64 L701.85,307.06 L701.95,307.47 L702,307.66 L702.05,307.75 L702.15,307.91 L702.25,308.06 L702.35,308.18 L702.45,308.28 L702.5,308.33 L702.55,308.38 L702.65,308.48 L702.75,308.56 L702.85,308.63 L702.95,308.68 L703,308.7 L703.05,308.69 L703.15,308.66 L703.25,308.62 L703.35,308.57 L703.45,308.52 L703.5,308.49 L703.55,308.41 L703.65,308.26 L703.75,308.11 L703.85,307.95 L703.95,307.79 L704,307.71 L704.05,307.74 L704.15,307.8 L704.25,307.86 L704.35,307.92 L704.45,307.98 L704.5,308.01 L704.55,307.98 L704.65,307.91 L704.75,307.84 L704.85,307.78 L704.95,307.7 L705,307.67 L705.05,307.61 L705.15,307.5 L705.25,307.39 L705.35,307.27 L705.45,307.13 L705.5,307.06 L705.55,307 L705.65,306.87 L705.75,306.74 L705.85,306.59 L705.95,306.45 L706,306.37 L706.05,306.36 L706.15,306.34 L706.25,306.31 L706.35,306.27 L706.45,306.22 L706.5,306.19 L706.55,306.13 L706.65,306.02 L706.75,305.89 L706.85,305.74 L706.95,305.57 L707,305.48 L707.05,305.24 L707.15,304.67 L707.25,304.05 L707.35,303.39 L707.45,302.69 L707.5,302.32 L707.55,302.08 L707.65,301.54 L707.75,300.96 L707.85,300.32 L707.95,299.61 L708,299.23 L708.05,298.78 L708.15,297.82 L708.25,296.78 L708.35,295.64 L708.45,294.24 L708.5,293.47 L708.55,292.74 L708.65,291.14 L708.75,289.36 L708.85,287.39 L708.95,285.19 L709,283.99 L709.05,282.71 L709.15,279.92 L709.25,276.83 L709.35,273.41 L709.45,264.35 L709.5,257.78 L709.55,250.16 L709.65,231.38 L709.75,220.2 M712.85,220.2 L712.85,232.41 L712.95,251.18 L713,258.78 L713.05,265.22 L713.15,274.01 L713.25,277.17 L713.35,279.99 L713.45,282.51 L713.5,283.66 L713.55,284.92 L713.65,287.26 L713.75,289.38 L713.85,291.29 L713.95,293.03 L714,293.83 L714.05,294.67 L714.15,296.21 L714.25,297.48 L714.35,298.66 L714.45,299.76 L714.5,300.28 L714.55,300.58 L714.65,301.13 L714.75,301.62 L714.85,302.05 L714.95,302.43 L715,302.6 L715.05,302.84 L715.15,303.29 L715.25,303.7 L715.35,304.08 L715.45,304.4 L715.5,304.52 L715.55,304.62 L715.65,304.81 L715.75,304.98 L715.85,305.14 L715.95,305.28 L716,305.35 L716.05,305.55 L716.15,305.96 L716.25,306.35 L716.35,306.73 L716.45,307.1 L716.5,307.28 L716.55,307.26 L716.65,307.22 L716.75,307.16 L716.85,307.09 L716.95,307.02 L717,306.98 L717.05,307.12 L717.15,307.39 L717.25,307.64 L717.35,307.88 L717.45,308.12 L717.5,308.24 L717.55,308.21 L717.65,308.14 L717.75,308.08 L717.85,308.01 L717.95,307.94 L718,307.91 L718.05,307.86 L718.15,307.77 L718.25,307.67 L718.35,307.58 L718.45,307.48 L718.5,307.43 L718.55,307.58 L718.65,307.89 L718.75,308.19 L718.85,308.49 L718.95,308.8 L719,308.95 L719.05,308.94 L719.15,308.93 L719.25,308.92 L719.35,308.91 L719.45,308.9 L719.5,308.89 L719.55,308.88 L719.65,308.84 L719.75,308.81 L719.85,308.77 L719.95,308.74 L720,308.72 L720.05,308.71 L720.15,308.68 L720.25,308.65 L720.35,308.62 L720.45,308.6 L720.5,308.58 L720.55,308.62 L720.65,308.69 L720.75,308.76 L720.85,308.84 L720.95,308.91 L721,308.94 L721.05,308.99 L721.15,309.07 L721.25,309.16 L721.5,309.37 L722,308.18 L722.5,308.33 L723,309.28 L723.5,308.76 L724,309.79 L724.5,309.59 L725,309.12 L725.5,308.56 L726,309.38 L726.5,309.42 L727,309.41 L727.5,309.67 L728,308.82 L728.5,308.96 L729,308.16 L729.5,307.81 L730,309.6 L730.5,308.9 L731,310.3 L731.5,310.37 L732,309.15 L732.5,309.18 L733,310.04 L733.5,309.64 L734,309.52 L734.5,310.18 L735,309.49 L735.5,309.16 L736,309.89 L736.5,310.46 L737,310.61 L737.5,309.18 L738,310.26 L738.5,309.46 L739,310.27 L739.5,308.8 L740,308.06 L740.5,308.73 L741,309.56 L741.5,309.31 L742,310.44 L742.5,309.72 L743,310.44 L743.5,309.6 L744,310.05 L744.5,310.35 L745,309.6 L745.5,309.76 L746,310.71 L746.5,309.97 L747,309.91 L747.5,310.38 L748,310.53 L748.5,310.84 L749,310.34 L749.5,310.85 L750,310.93 L750.5,311.01 L751,311.01 L751.5,310.65 L752,310.67 L752.5,310.16 L753,309.7 L753.5,311.1 L754,310.25 L754.5,310.14 L755,310.52 L755.5,310.89 L756,311.03 L756.5,309.83 L757,310.98 L757.5,311.27 L758,311.35 L758.5,311.3 L759,310.69 L759.5,311.24 L760,310.75 L760.5,311.19 L761,311.43 L761.5,310.39 L762,309.96 L762.5,311.02 L763,311.34 L763.5,311.28 L764,310.53 L764.5,310.51 L765,309.95 L765.5,311.19 L766,310.2 L766.5,309.95 L767,309.91 L767.5,311.32 L768,310.45 L768.5,311.09 L769,309.86 L769.5,310.55 L770,311 L770.5,311.05 L771,310.06 L771.5,310.55 L772,311.11 L772.5,311.29 L773,309.89 L773.5,310.73 L774,311.24 L774.5,310.78 L775,311.06 L775.5,310.23 L776,310.56 L776.5,309.75 L777,311.08 L777.5,310.68 L778,310.03 L778.5,311.32 L779,310.08 L779.5,309.78 L780,310.95 L780.5,309.86 L781,310.84 L781.5,309.95 L782,309.76 L782.5,310.97 L783,310.76 L783.5,310.84 L784,310.92 L784.5,310.93 L785,310.01 L785.5,310.43 L786,310.72 L786.5,311.18 L787,310.81 L787.5,310.54 L788,311.1 L788.5,311.14 L789,310.13 L789.5,310.02 L790,309.72 L790.5,311.19 L791,310.07 L791.5,310.69 L792,310.6 L792.5,310.82 L793,311.3 L793.5,310.82 L794,309.99 L794.5,310.43 L795,310.01 L795.5,310.35 L796,310.96 L796.5,310.81 L797,310.77 L797.5,311.16 L798,311.39 L798.5,310.12 L799,310.89 L799.5,310.79 L800,309.74 L800.5,311.38 L801,310.37 L801.5,310.83 L802,310.08 L802.5,310.41 L803,309.89 L803.5,311.33 L804,309.76 L804.5,309.81 L805,310.92 L805.5,310.66 L806,310.23 L806.5,311.28 L807,310.87 L807.5,310.45 L808,310.89 L808.5,311.27 L809,311.16 L809.5,310.3 L810,311 L810.5,310.05 L811,310.33 L811.5,311.36 L812,310.93 L812.5,310.36 L813,310.6 L813.5,310.42 L814,310.88 L814.5,310.56 L815,310.44 L815.5,310.38 L816,311.17 L816.5,311.05 L817,310.08 L817.5,310.34 L818,311.2 L818.5,310.91 L819,310.69 L819.5,310.73 L820,310.01 L820.5,310.63 L821,310.93 L821.5,310.41 L822,310.36 L822.5,310.39 L823,310.68 L823.5,310.03 L824,311.06 L824.5,309.77 L825,310.97 L825.5,310.54 L826,310.07 L826.5,310.06 L827,310.09 L827.5,309.89 L828,311.29 L828.5,310.06 L828.75,309.88 L828.85,309.81 L828.95,309.74 L829,309.7 L829.05,309.8 L829.15,309.98 L829.25,310.17 L829.35,310.36 L829.45,310.55 L829.5,310.64 L829.55,310.69 L829.65,310.79 L829.75,310.89 L829.85,310.99 L829.95,311.08 L830,311.13 L830.05,311.01 L830.15,310.76 L830.25,310.51 L830.35,310.27 L830.45,310.02 L830.5,309.89 L830.55,309.88 L830.65,309.84 L830.75,309.81 L830.85,309.77 L830.95,309.73 L831,309.71 L831.05,309.76 L831.15,309.87 L831.25,309.96 L831.35,310.06 L831.45,310.16 L831.5,310.21 L831.55,310.15 L831.65,310.04 L831.75,309.93 L831.85,309.81 L831.95,309.69 L832,309.63 L832.05,309.64 L832.15,309.65 L832.25,309.67 L832.35,309.68 L832.45,309.68 L832.5,309.69 L832.55,309.69 L832.65,309.68 L832.75,309.68 L832.85,309.67 L832.95,309.66 L833,309.65 L833.05,309.7 L833.15,309.79 L833.25,309.88 L833.35,309.97 L833.45,310.05 L833.5,310.09 L833.55,309.94 L833.65,309.63 L833.75,309.3 L833.85,308.97 L833.95,308.63 L834,308.46 L834.05,308.38 L834.15,308.23 L834.25,308.06 L834.35,307.87 L834.45,307.68 L834.5,307.57 L834.55,307.53 L834.65,307.42 L834.75,307.29 L834.85,307.15 L834.95,306.98 L835,306.89 L835.05,306.7 L835.15,306.23 L835.25,305.71 L835.35,305.14 L835.45,304.51 L835.5,304.18 L835.55,303.9 L835.65,303.3 L835.75,302.62 L835.85,301.87 L835.95,301.01 L836,300.55 L836.05,299.94 L836.15,298.62 L836.25,297.04 L836.35,295.21 L836.45,293.18 L836.5,292.07 L836.55,291.02 L836.65,288.71 L836.75,286.1 L836.85,283.17 L836.95,279.87 L837,278.06 L837.05,276.09 L837.15,266.72 L837.25,250.54 L837.35,228.42 L837.45,220.2 M840.15,220.2 L840.15,228.41 L840.25,250.69 L840.35,267.02 L840.45,276.56 L840.5,278.61 L840.55,280.36 L840.65,283.56 L840.75,286.39 L840.85,288.89 L840.95,291.1 L841,292.1 L841.05,293.13 L841.15,295.01 L841.25,296.68 L841.35,298.1 L841.45,299.26 L841.5,299.79 L841.55,300.3 L841.65,301.23 L841.75,302.07 L841.85,302.83 L841.95,303.51 L842,303.83 L842.05,304.2 L842.15,304.88 L842.25,305.51 L842.35,306.09 L842.45,306.63 L842.5,306.84 L842.55,306.92 L842.65,307.06 L842.75,307.17 L842.85,307.27 L842.95,307.34 L843,307.38 L843.05,307.48 L843.15,307.68 L843.25,307.87 L843.35,308.04 L843.45,308.2 L843.5,308.28 L843.55,308.33 L843.65,308.44 L843.75,308.54 L843.85,308.63 L843.95,308.71 L844,308.74 L844.05,308.81 L844.15,308.95 L844.25,309.08 L844.35,309.21 L844.45,309.34 L844.5,309.41 L844.55,309.41 L844.65,309.43 L844.75,309.44 L844.85,309.45 L844.95,309.45 L845,309.45 L845.05,309.49 L845.15,309.57 L845.25,309.64 L845.35,309.71 L845.45,309.78 L845.5,309.82 L845.55,309.88 L845.65,310.02 L845.75,310.16 L845.85,310.29 L845.95,310.43 L846,310.5 L846.05,310.4 L846.15,310.22 L846.25,310.04 L846.35,309.85 L846.45,309.66 L846.5,309.57 L846.55,309.63 L846.65,309.74 L846.75,309.84 L846.85,309.95 L846.95,310.06 L847,310.11 L847.05,310.18 L847.15,310.32 L847.25,310.45 L847.35,310.58 L847.45,310.72 L847.5,310.79 L847.55,310.75 L847.65,310.67 L847.75,310.59 L847.85,310.52 L847.95,310.44 L848,310.4 L848.05,310.42 L848.15,310.46 L848.25,310.5 L848.35,310.54 L848.45,310.57 L848.5,310.59 L848.55,310.59 L848.65,310.58 L848.75,310.58 L849,310.56 L849.5,309.52 L850,310.26 L850.5,309.77 L851,309.78 L851.5,309.39 L852,310.5 L852.5,310.74 L853,310.62 L853.5,309.89 L854,310.7 L854.5,310.49 L855,310.16 L855.5,310.47 L856,310.41 L856.5,309.1 L857,310.13 L857.5,310.17 L858,309.66 L858.5,310.41 L859,310.28 L859.5,309.17 L860,309.67 L860.5,309.01 L861,309.62 L861.5,309.16 L862,308.97 L862.5,309.46 L863,310.16 L863.5,309.23 L864,310.57 L864.5,309.23 L865,310.31 L865.5,309.35 L866,310.37 L866.5,309.73 L867,310.29 L867.5,309.6 L868,309.31 L868.5,310.33 L869,308.85 L869.5,309.02 L870,309.03 L870.5,309.73 L871,310.06 L871.5,309.18 L872,309.74 L872.5,310.19 L873,308.74 L873.5,310.02 L874,308.94 L874.5,308.74 L875,309.52 L875.5,309.33 L876,309.34 L876.5,309.74 L877,308.67 L877.5,309.66 L878,308.87 L878.5,310.21 L879,309.4 L879.5,308.95 L880,309.47 L880.5,309.27 L881,308.68 L881.5,309.84 L882,309.27 L882.5,309.96 L883,309.8 L883.5,309.91 L884,310.11 L884.5,308.98 L885,309.43 L885.5,309.43 L886,309.5 L886.5,309.71 L887,309.73 L887.5,309.52 L888,309.43 L888.5,309.32 L889,308.63 L889.5,308.84 L890,308.57 L890.5,309.37 L891,309.37 L891.5,308.71 L892,308.96 L892.5,309.78 L893,308.57 L893.5,309.2 L894,309.15 L894.5,309.07 L895,308.74 L895.5,309.87 L896,309.19 L896.5,309.08 L897,308.35 L897.5,308.27 L898,308.99 L898.5,308.63 L899,309.33 L899.5,309.37 L900,308.25 L900.5,308.78 L901,308.66 L901.5,309.23 L902,309.08 L902.5,309.57 L903,308.16 L903.5,308.9 L904,309.32 L904.5,308.35 L905,308.13 L905.5,308.81 L906,308.44 L906.5,308.11 L907,309.46 L907.5,309.26 L908,309.13 L908.5,309.45 L909,309.2 L909.5,308.68 L909.8,308.99 L909.9,309.09 L910,309.2 L910.1,309.25 L910.2,309.3 L910.3,309.35 L910.4,309.39 L910.5,309.44 L910.6,309.44 L910.7,309.43 L910.8,309.43 L910.9,309.42 L911,309.42 L911.1,309.38 L911.2,309.35 L911.3,309.31 L911.4,309.27 L911.5,309.23 L911.6,309.19 L911.7,309.15 L911.8,309.11 L911.9,309.06 L912,309.02 L912.1,309.06 L912.2,309.11 L912.3,309.15 L912.4,309.19 L912.5,309.23 L912.6,309.2 L912.7,309.17 L912.8,309.14 L912.9,309.1 L913,309.07 L913.1,308.93 L913.2,308.8 L913.3,308.66 L913.4,308.52 L913.5,308.38 L913.6,308.27 L913.7,308.16 L913.8,308.05 L913.9,307.94 L914,307.82 L914.1,307.87 L914.2,307.91 L914.3,307.95 L914.4,307.99 L914.5,308.02 L914.6,308.05 L914.7,308.08 L914.8,308.09 L914.9,308.08 L915,308.06 L915.1,307.63 L915.2,307.19 L915.3,306.74 L915.4,306.28 L915.5,305.8 L915.6,305.72 L915.7,305.63 L915.8,305.52 L915.9,305.39 L916,305.24 L916.1,304.85 L916.2,304.44 L916.3,303.91 L916.4,303.33 L916.5,302.7 L916.6,302.09 L916.7,301.42 L916.8,300.68 L916.9,299.86 L917,298.95 L917.1,298.12 L917.2,297.17 L917.3,296.11 L917.4,294.72 L917.5,293.09 L917.6,290.96 L917.7,288.56 L917.8,285.88 L917.9,282.87 L918,279.49 L918.1,275.81 L918.2,270.9 L918.3,256.65 L918.4,236.96 L918.5,220.2 M921.2,220.2 L921.2,237.21 L921.3,257.01 L921.4,271.36 L921.5,276.37 L921.6,279.87 L921.7,282.95 L921.8,285.66 L921.9,288.05 L922,290.15 L922.1,292.16 L922.2,293.96 L922.3,295.52 L922.4,296.75 L922.5,297.87 L922.6,298.94 L922.7,299.91 L922.8,300.8 L922.9,301.6 L923,302.34 L923.1,303.13 L923.2,303.87 L923.3,304.55 L923.4,305.18 L923.5,305.69 L923.6,305.91 L923.7,306.11 L923.8,306.3 L923.9,306.46 L924,306.6 L924.1,306.83 L924.2,307.05 L924.3,307.25 L924.4,307.44 L924.5,307.61 L924.6,307.7 L924.7,307.78 L924.8,307.85 L924.9,307.9 L925,307.93 L925.1,307.75 L925.2,307.58 L925.3,307.4 L925.4,307.22 L925.5,307.03 L925.6,307.29 L925.7,307.54 L925.8,307.79 L925.9,308.04 L926,308.28 L926.1,308.3 L926.2,308.31 L926.3,308.32 L926.4,308.33 L926.5,308.34 L926.6,308.45 L926.7,308.56 L926.8,308.66 L926.9,308.77 L927,308.88 L927.1,308.6 L927.2,308.32 L927.3,308.05 L927.4,307.77 L927.5,307.49 L927.6,307.54 L927.7,307.59 L927.8,307.64 L927.9,307.69 L928,307.74 L928.1,307.73 L928.2,307.73 L928.3,307.72 L928.4,307.72 L928.5,307.71 L928.6,307.82 L928.7,307.93 L928.8,308.03 L928.9,308.14 L929,308.25 L929.1,308.22 L929.2,308.2 L929.3,308.17 L929.4,308.15 L929.5,308.12 L929.6,308.1 L929.7,308.08 L929.8,308.06 L930,308.02 L930.5,308.88 L931,309.16 L931.5,309.16 L932,307.7 L932.5,307.84 L933,308.32 L933.5,308.87" stroke="#111" stroke-width="1.2" fill="none" stroke-linejoin="round"/>
<path d="M592.8,288.8 l4,4 l-4,4 l-4,-4z" fill="#111"/>
<text x="664.6" y="233.8" font-size="17" text-anchor="middle" fill="#111">*</text>
<text x="703.6" y="233.8" font-size="17" text-anchor="middle" fill="#111">*</text>
<text x="830.3" y="234.5" font-size="17" text-anchor="middle" fill="#111">*</text>
<text x="910.9" y="234.5" font-size="17" text-anchor="middle" fill="#111">*</text>
<path d="M679.4,295.9 h8 l-4,8z" fill="#fff" stroke="#222" stroke-width="1"/>
<circle cx="701" cy="297.8" r="3.6" fill="#111"/>
<circle cx="731.5" cy="301.4" r="3.6" fill="#111"/>
<rect x="736.2" y="299.2" width="7.6" height="7.6" fill="#111"/>
<path d="M562,409.01 L562.5,408.22 L563,408.76 L563.5,408.88 L564,408.09 L564.5,407.95 L565,408.94 L565.5,408.21 L566,408.75 L566.5,409.71 L567,409.77 L567.5,408.58 L568,408.61 L568.5,408.95 L569,410.07 L569.5,408.8 L570,409.23 L570.5,409.03 L571,409.07 L571.5,409.74 L572,409.16 L572.5,409.55 L573,410.1 L573.5,410.08 L574,409.56 L574.5,410.19 L575,409.82 L575.5,410.42 L576,409.59 L576.5,409.96 L577,410.48 L577.5,411.26 L578,410.86 L578.5,410.78 L579,410.56 L579.5,410.77 L580,410.82 L580.5,412.08 L581,411.86 L581.5,411.82 L582,411.15 L582.5,411.4 L583,410.65 L583.5,410.92 L584,410.3 L584.5,410.71 L585,410.38 L585.5,410.07 L586,411.41 L586.5,409.96 L587,411.13 L587.5,410.89 L588,409.8 L588.5,410.42 L589,411.24 L589.5,411.16 L590,410.35 L590.5,410.77 L591,410.59 L591.5,409.61 L592,409.52 L592.5,408.87 L593,407.81 L593.5,408.11 L594,407.59 L594.5,408.76 L595,408.61 L595.5,410.34 L596,410.57 L596.5,412.27 L597,413.12 L597.5,412.87 L598,413.14 L598.5,413.44 L599,412.96 L599.5,413.42 L600,413.93 L600.5,414.08 L601,413.66 L601.5,413.85 L602,413.63 L602.5,414.04 L603,414.28 L603.5,413.72 L604,414.35 L604.5,414.66 L605,414.16 L605.5,414.95 L606,413.84 L606.5,414.9 L607,413.68 L607.5,414.02 L608,414.82 L608.5,413.52 L609,414.53 L609.5,415 L610,415.15 L610.5,414.72 L611,414.15 L611.5,414.14 L612,414.66 L612.5,413.71 L613,413.65 L613.5,415.11 L614,414.68 L614.5,413.9 L615,414.36 L615.5,414.13 L616,415.13 L616.5,414.14 L617,414.9 L617.5,414.94 L618,414.23 L618.5,414.12 L619,414.59 L619.5,414.39 L620,414.73 L620.5,414.28 L621,415.08 L621.5,414.46 L622,413.98 L622.5,415.08 L623,415.29 L623.5,414.93 L624,414.71 L624.5,415.27 L625,415.39 L625.5,413.82 L626,414.65 L626.5,413.86 L627,414.4 L627.5,414.25 L628,414.63 L628.5,415.01 L629,415.33 L629.5,414.32 L630,413.9 L630.5,415.59 L631,415.23 L631.5,414.84 L632,414.11 L632.5,414.01 L633,415.52 L633.5,414.84 L634,415.41 L634.5,415.29 L635,415.24 L635.5,415.34 L636,414.41 L636.5,414.41 L637,414.74 L637.5,415.31 L638,415.37 L638.5,415.31 L639,415.02 L639.5,414.85 L640,414.38 L640.5,415.18 L641,415.16 L641.5,414.92 L642,415.29 L642.5,415.71 L643,415.65 L643.5,414.23 L644,414.54 L644.5,415.09 L645,415.22 L645.5,414.53 L646,415.63 L646.5,414.83 L647,415.35 L647.5,414.14 L648,414.52 L648.5,414.09 L649,415.39 L649.5,414.94 L650,415.67 L650.5,415.08 L651,414.6 L651.5,414.66 L652,414.69 L652.5,414.39 L653,414.23 L653.5,415.15 L654,414.58 L654.5,414.82 L655,415.26 L655.5,414.36 L656,414.48 L656.5,414.12 L657,413.96 L657.5,414.37 L658,413.24 L658.5,413.59 L659,412.93 L659.5,413.72 L660,412.92 L660.5,413.93 L661,412.98 L661.5,413.16 L662,412.79 L662.5,413.15 L663,412.8 L663.5,412.54 L664,411.34 L664.15,411.35 L664.25,411.35 L664.35,411.35 L664.45,411.35 L664.5,411.35 L664.55,411.44 L664.65,411.61 L664.75,411.78 L664.85,411.95 L664.95,412.11 L665,412.2 L665.05,412.12 L665.15,411.96 L665.25,411.81 L665.35,411.65 L665.45,411.49 L665.5,411.41 L665.55,411.49 L665.65,411.63 L665.75,411.78 L665.85,411.92 L665.95,412.07 L666,412.14 L666.05,412.06 L666.15,411.89 L666.25,411.72 L666.35,411.56 L666.45,411.39 L666.5,411.3 L666.55,411.31 L666.65,411.31 L666.75,411.32 L666.85,411.32 L666.95,411.32 L667,411.33 L667.05,411.28 L667.15,411.19 L667.25,411.1 L667.35,411 L667.45,410.9 L667.5,410.85 L667.55,410.86 L667.65,410.83 L667.75,410.8 L667.85,410.76 L667.95,410.72 L668,410.7 L668.05,410.58 L668.15,410.35 L668.25,410.12 L668.35,409.87 L668.45,409.62 L668.5,409.49 L668.55,409.46 L668.65,409.39 L668.75,409.31 L668.85,409.22 L668.95,409.12 L669,409.07 L669.05,408.87 L669.15,408.48 L669.25,408.07 L669.35,407.65 L669.45,407.22 L669.5,406.98 L669.55,406.77 L669.65,406.35 L669.75,405.89 L669.85,405.4 L669.95,404.88 L670,404.6 L670.05,404.32 L670.15,403.72 L670.25,403.07 L670.35,402.38 L670.45,401.64 L670.5,401.25 L670.55,400.89 L670.65,400.14 L670.75,399.32 L670.85,398.42 L670.95,397.39 L671,396.79 L671.05,396.24 L671.15,395.06 L671.25,393.74 L671.35,392.28 L671.45,390.65 L671.5,389.78 L671.55,388.7 L671.65,386.41 L671.75,383.91 L671.85,381.17 L671.95,378.19 L672,376.59 L672.05,374.85 L672.15,364.48 L672.25,351.25 L672.35,334.35 L672.45,327 M675.95,327 L675.95,334.63 L676,343.57 L676.05,351.35 L676.15,364.29 L676.25,374.36 L676.35,377.46 L676.45,380.27 L676.5,381.59 L676.55,382.88 L676.65,385.29 L676.75,387.5 L676.85,389.51 L676.95,391.34 L677,392.2 L677.05,392.91 L677.15,394.21 L677.25,395.39 L677.35,396.45 L677.45,397.3 L677.5,397.67 L677.55,398.17 L677.65,399.14 L677.75,400.04 L677.85,400.88 L677.95,401.66 L678,402.04 L678.05,402.28 L678.15,402.72 L678.25,403.12 L678.35,403.48 L678.45,403.81 L678.5,403.96 L678.55,404.2 L678.65,404.65 L678.75,405.07 L678.85,405.46 L678.95,405.77 L679,405.92 L679.05,406.16 L679.15,406.63 L679.25,407.08 L679.35,407.53 L679.45,407.96 L679.5,408.17 L679.55,408.15 L679.65,408.08 L679.75,408.01 L679.85,407.93 L679.95,407.84 L680,407.79 L680.05,407.88 L680.15,408.06 L680.25,408.23 L680.35,408.39 L680.45,408.54 L680.5,408.62 L680.55,408.67 L680.65,408.76 L680.75,408.85 L680.85,408.91 L680.95,408.96 L681,408.99 L681.05,409.14 L681.15,409.44 L681.25,409.74 L681.35,410.04 L681.45,410.33 L681.5,410.48 L681.55,410.48 L681.65,410.49 L681.75,410.49 L681.85,410.49 L681.95,410.49 L682,410.48 L682.05,410.49 L682.15,410.5 L682.25,410.5 L682.35,410.49 L682.45,410.46 L682.5,410.44 L682.55,410.48 L682.65,410.53 L682.75,410.56 L682.85,410.56 L682.95,410.54 L683,410.51 L683.05,410.37 L683.15,410.08 L683.25,409.76 L683.35,409.42 L683.45,409.08 L683.5,408.91 L683.55,408.89 L683.65,408.86 L683.75,408.85 L683.85,408.89 L683.95,408.97 L684,409.04 L684.05,409.02 L684.15,409.02 L684.5,409.46 L685,410.1 L685.5,411.12 L686,412.17 L686.5,412.28 L687,413.07 L687.5,413.03 L688,413.37 L688.5,413.03 L689,412.36 L689.5,413.07 L690,413.37 L690.5,412.69 L691,412.72 L691.5,411.8 L692,411.49 L692.5,411.95 L693,412.09 L693.5,412.21 L694,411.67 L694.5,411.68 L695,410.78 L695.5,410.56 L696,410.27 L696.5,409.95 L697,409.46 L697.5,409.61 L698,410.53 L698.5,410.88 L699,411.8 L699.5,411.93 L700,411.71 L700.5,410.21 L701,406.66 L701.5,404.08 L702,403.91 L702.5,404.76 L702.85,406.94 L702.95,407.58 L703,407.89 L703.05,408.05 L703.15,408.34 L703.25,408.59 L703.35,408.79 L703.45,408.93 L703.5,408.98 L703.55,409.13 L703.65,409.4 L703.75,409.62 L703.85,409.79 L703.95,409.93 L704,409.99 L704.05,410.01 L704.15,410.02 L704.25,410.02 L704.35,410 L704.45,409.96 L704.5,409.94 L704.55,410.01 L704.65,410.15 L704.75,410.28 L704.85,410.41 L704.95,410.54 L705,410.6 L705.05,410.57 L705.15,410.5 L705.25,410.44 L705.35,410.37 L705.45,410.3 L705.5,410.27 L705.55,410.28 L705.65,410.3 L705.75,410.32 L705.85,410.33 L705.95,410.34 L706,410.35 L706.05,410.28 L706.15,410.14 L706.25,410 L706.35,409.86 L706.45,409.72 L706.5,409.65 L706.55,409.61 L706.65,409.54 L706.75,409.46 L706.85,409.38 L706.95,409.3 L707,409.26 L707.05,409.3 L707.15,409.35 L707.25,409.39 L707.35,409.42 L707.45,409.45 L707.5,409.46 L707.55,409.5 L707.65,409.56 L707.75,409.62 L707.85,409.68 L707.95,409.71 L708,409.73 L708.05,409.6 L708.15,409.34 L708.25,409.07 L708.35,408.78 L708.45,408.47 L708.5,408.32 L708.55,408.19 L708.65,407.91 L708.75,407.62 L708.85,407.23 L708.95,406.8 L709,406.57 L709.05,406.25 L709.15,405.59 L709.25,404.88 L709.35,404.12 L709.45,403.31 L709.5,402.87 L709.55,402.58 L709.65,401.93 L709.75,401.2 L709.85,400.39 L709.95,399.5 L710,399.01 L710.05,398.36 L710.15,396.9 L710.25,395.28 L710.35,393.48 L710.45,391.48 L710.5,390.4 L710.55,389.31 L710.65,386.96 L710.75,384.33 L710.85,381.4 L710.95,378.13 L711,376.36 L711.05,371.81 L711.15,358.61 L711.25,341.09 L711.35,327 M714.45,327 L714.45,341.82 L714.5,351.27 L714.55,359.4 L714.65,372.56 L714.75,378.93 L714.85,382.33 L714.95,385.39 L715,386.8 L715.05,388.04 L715.15,390.32 L715.25,392.36 L715.35,394.17 L715.45,395.78 L715.5,396.52 L715.55,397.3 L715.65,398.72 L715.75,399.89 L715.85,400.9 L715.95,401.82 L716,402.25 L716.05,402.8 L716.15,403.85 L716.25,404.84 L716.35,405.76 L716.45,406.62 L716.5,407.03 L716.55,407.23 L716.65,407.61 L716.75,407.93 L716.85,408.21 L716.95,408.45 L717,408.51 L717.05,408.55 L717.15,408.61 L717.25,408.64 L717.35,408.64 L717.45,408.62 L717.5,408.6 L717.55,408.81 L717.65,409.21 L717.75,409.59 L717.85,409.94 L717.95,410.27 L718,410.42 L718.05,410.35 L718.15,410.18 L718.25,410 L718.35,409.8 L718.45,409.59 L718.5,409.48 L718.55,409.4 L718.65,409.22 L718.75,409.02 L718.85,408.83 L718.95,408.65 L719,408.57 L719.05,408.57 L719.15,408.59 L719.25,408.63 L719.35,408.69 L719.45,408.78 L719.5,408.84 L719.55,408.84 L719.65,408.87 L719.75,408.93 L719.85,409.02 L719.95,409.12 L720,409.18 L720.05,409.31 L720.15,409.57 L720.25,409.84 L720.35,410.12 L720.45,410.41 L720.5,410.55 L720.55,410.63 L720.65,410.79 L720.75,410.94 L720.85,411.09 L720.95,411.22 L721,411.28 L721.05,411.36 L721.15,411.51 L721.25,411.64 L721.35,411.77 L721.45,411.87 L721.5,411.92 L721.55,412.03 L721.65,412.25 L721.75,412.45 L721.85,412.65 L721.95,412.83 L722,412.92 L722.05,412.87 L722.15,412.78 L722.25,412.68 L722.35,412.57 L722.45,412.46 L722.5,412.4 L722.55,412.51 L722.65,412.71 L722.75,412.92 L722.85,413.12 L723,413.42 L723.5,413.25 L724,413.54 L724.5,412.14 L725,413.29 L725.5,412.97 L726,412.01 L726.5,413.18 L727,412.42 L727.5,411.8 L728,411.79 L728.5,413.06 L729,412.66 L729.5,411.6 L730,412.48 L730.5,410.65 L731,411.09 L731.5,411.11 L732,412.65 L732.5,413.71 L733,413.91 L733.5,414.39 L734,414 L734.5,415.06 L735,414.46 L735.5,415.23 L736,415.53 L736.5,414.94 L737,415.64 L737.5,415.47 L738,414.52 L738.5,415.25 L739,415.08 L739.5,415.26 L740,414.3 L740.5,415.44 L741,414.92 L741.5,415.5 L742,414.66 L742.5,414.28 L743,415.04 L743.5,415.34 L744,415.57 L744.5,415.17 L745,415.75 L745.5,414.53 L746,414.46 L746.5,414.94 L747,415.37 L747.5,415.55 L748,414.36 L748.5,415.27 L749,414.84 L749.5,415.15 L750,414.42 L750.5,414.52 L751,415.33 L751.5,414.83 L752,415.91 L752.5,415.11 L753,414.84 L753.5,414.57 L754,415.14 L754.5,415.12 L755,414.69 L755.5,415.9 L756,415.11 L756.5,415.56 L757,415.41 L757.5,415.66 L758,414.43 L758.5,415.89 L759,415.27 L759.5,414.53 L760,415.26 L760.5,414.34 L761,414.96 L761.5,414.4 L762,414.31 L762.5,414.99 L763,415.65 L763.5,415.5 L764,415.8 L764.5,415.53 L765,415.25 L765.5,415.22 L766,415.82 L766.5,414.41 L767,415.06 L767.5,415.1 L768,414.19 L768.5,415.65 L769,415.32 L769.5,414.73 L770,415.5 L770.5,414.96 L771,415.38 L771.5,415.07 L772,415.59 L772.5,414.98 L773,414.27 L773.5,415.41 L774,414.5 L774.5,415.08 L775,415.69 L775.5,415.33 L776,414.21 L776.5,415.51 L777,415.72 L777.5,414.86 L778,414.5 L778.5,414.85 L779,414.96 L779.5,414.13 L780,415.49 L780.5,415.14 L781,414.72 L781.5,415.42 L782,414.32 L782.5,415.54 L783,415.48 L783.5,414.82 L784,414.2 L784.5,414.77 L785,414.18 L785.5,414.93 L786,414.23 L786.5,414.87 L787,414.68 L787.5,414.52 L788,414.96 L788.5,414.87 L789,415.46 L789.5,414.71 L790,414.93 L790.5,415.18 L791,414.22 L791.5,414.85 L792,414.24 L792.5,414.77 L793,414.78 L793.5,415.46 L794,415.55 L794.5,414.42 L795,415.35 L795.5,414.53 L796,414.32 L796.5,414.9 L797,414.39 L797.5,415.48 L798,415.4 L798.5,413.92 L799,415.53 L799.5,415.37 L800,414.08 L800.5,414.97 L801,414.79 L801.5,414.1 L802,415.03 L802.5,413.84 L803,414.41 L803.5,414.68 L804,415.17 L804.5,414.5 L805,414.29 L805.5,414.59 L806,414.71 L806.5,414.47 L807,413.94 L807.5,415.2 L808,414.12 L808.5,414.08 L809,414.13 L809.5,415.39 L810,413.88 L810.5,414.8 L811,414.71 L811.5,414.12 L812,415.06 L812.5,414.03 L813,413.91 L813.5,413.76 L814,414.83 L814.5,413.79 L815,414.75 L815.5,414.81 L816,413.86 L816.5,415.33 L817,413.91 L817.5,414.23 L818,415.03 L818.5,414.12 L819,414.98 L819.5,414.84 L820,414.94 L820.5,414.28 L821,414.11 L821.5,414.43 L822,414.69 L822.5,413.66 L823,413.78 L823.5,414.08 L824,413.7 L824.5,414.89 L825,415.25 L825.5,414.47 L826,414.14 L826.5,414.29 L827,415.05 L827.5,414.77 L828,414.48 L828.5,414.59 L829,415.04 L829.5,414.51 L830,413.78 L830.1,414 L830.2,414.22 L830.3,414.44 L830.4,414.66 L830.5,414.88 L830.6,414.58 L830.7,414.28 L830.8,413.98 L830.9,413.68 L831,413.38 L831.1,413.39 L831.2,413.41 L831.3,413.43 L831.4,413.45 L831.5,413.46 L831.6,413.47 L831.7,413.47 L831.8,413.47 L831.9,413.47 L832,413.46 L832.1,413.51 L832.2,413.55 L832.3,413.59 L832.4,413.63 L832.5,413.67 L832.6,413.71 L832.7,413.75 L832.8,413.78 L832.9,413.82 L833,413.85 L833.1,413.9 L833.2,413.95 L833.3,414 L833.4,414.05 L833.5,414.09 L833.6,413.86 L833.7,413.62 L833.8,413.38 L833.9,413.13 L834,412.89 L834.1,413.04 L834.2,413.2 L834.3,413.35 L834.4,413.48 L834.5,413.6 L834.6,413.53 L834.7,413.46 L834.8,413.38 L834.9,413.29 L835,413.19 L835.1,413 L835.2,412.8 L835.3,412.58 L835.4,412.36 L835.5,412.11 L835.6,411.88 L835.7,411.63 L835.8,411.36 L835.9,411.07 L836,410.75 L836.1,410.27 L836.2,409.75 L836.3,409.19 L836.4,408.58 L836.5,407.92 L836.6,407.25 L836.7,406.52 L836.8,405.72 L836.9,404.85 L837,403.9 L837.1,402.79 L837.2,401.59 L837.3,400.13 L837.4,398.47 L837.5,396.63 L837.6,394.78 L837.7,392.71 L837.8,390.39 L837.9,387.8 L838,384.92 L838.1,381.56 L838.2,377.67 L838.3,365.45 L838.4,349.15 L838.5,327.4 L838.6,327 M841.5,327 L841.5,327.17 L841.6,348.97 L841.7,365.32 L841.8,377.6 L841.9,381.54 L842,384.95 L842.1,387.78 L842.2,390.31 L842.3,392.58 L842.4,394.6 L842.5,396.4 L842.6,398.33 L842.7,400.09 L842.8,401.65 L842.9,402.95 L843,404.15 L843.1,404.94 L843.2,405.64 L843.3,406.27 L843.4,406.84 L843.5,407.34 L843.6,408.02 L843.7,408.66 L843.8,409.24 L843.9,409.79 L844,410.3 L844.1,410.49 L844.2,410.65 L844.3,410.79 L844.4,410.92 L844.5,411.03 L844.6,411.24 L844.7,411.44 L844.8,411.62 L844.9,411.8 L845,411.96 L845.1,412.26 L845.2,412.56 L845.3,412.84 L845.4,413.12 L845.5,413.39 L845.6,413.33 L845.7,413.27 L845.8,413.18 L845.9,413.09 L846,412.99 L846.1,413.19 L846.2,413.39 L846.3,413.59 L846.4,413.79 L846.5,413.98 L846.6,413.94 L846.7,413.89 L846.8,413.84 L846.9,413.79 L847,413.74 L847.1,413.79 L847.2,413.84 L847.3,413.89 L847.4,413.94 L847.5,413.99 L847.6,414.01 L847.7,414.02 L847.8,414.04 L847.9,414.05 L848,414.06 L848.1,414.02 L848.2,413.97 L848.3,413.93 L848.4,413.89 L848.5,413.84 L848.6,413.77 L848.7,413.7 L848.8,413.62 L848.9,413.55 L849,413.47 L849.1,413.61 L849.2,413.74 L849.3,413.88 L849.4,414.01 L849.5,414.14 L849.6,413.93 L849.7,413.72 L849.8,413.51 L849.9,413.29 L850,413.08 L850.5,413.46 L851,414.43 L851.5,414.5 L852,413.11 L852.5,414.4 L853,413.83 L853.5,413.42 L854,414.62 L854.5,414.04 L855,413.47 L855.5,414.6 L856,413.14 L856.5,414.22 L857,414.25 L857.5,414.25 L858,413.79 L858.5,413.49 L859,413.34 L859.5,414.25 L860,413.8 L860.5,412.99 L861,414.11 L861.5,414.16 L862,414.25 L862.5,413.71 L863,414.05 L863.5,413.91 L864,414.22 L864.5,413.32 L865,413.22 L865.5,414.27 L866,413.27 L866.5,412.85 L867,413.97 L867.5,414.13 L868,414.26 L868.5,414.45 L869,412.9 L869.5,414.37 L870,413.23 L870.5,412.97 L871,413.21 L871.5,412.87 L872,412.72 L872.5,412.95 L873,413.64 L873.5,412.79 L874,413.96 L874.5,412.66 L875,413.02 L875.5,412.92 L876,412.83 L876.5,412.62 L877,413.48 L877.5,412.72 L878,412.79 L878.5,412.58 L879,413.99 L879.5,412.83 L880,413.25 L880.5,413.86 L881,412.78 L881.5,413.14 L882,413.93 L882.5,413.58 L883,412.72 L883.5,413.36 L884,413.89 L884.5,413.38 L885,412.91 L885.5,412.8 L886,413.97 L886.5,413.09 L887,412.74 L887.5,412.87 L888,413.4 L888.5,413.84 L889,413.49 L889.5,413.39 L890,412.95 L890.5,412.74 L891,413.48 L891.5,412.93 L892,412.82 L892.5,413.56 L893,413.85 L893.5,413.72 L894,412.48 L894.5,413.56 L895,413.17 L895.5,412.35 L896,413.6 L896.5,413.14 L897,413.03 L897.5,412.31 L898,413.14 L898.5,413 L899,413.57 L899.5,413.7 L900,412.37 L900.5,413.69 L901,412.82 L901.5,412.17 L902,413.42 L902.5,413.51 L903,413.48 L903.5,412.39 L904,413.38 L904.5,413.7 L905,413.74 L905.5,412.73 L906,413.55 L906.5,412.3 L907,413.62 L907.5,413.09 L908,413.21 L908.5,413.37 L909,412.51 L909.5,412.44 L910,412.14 L910.5,413.22 L911,412.04 L911.15,412.02 L911.25,412.01 L911.35,412 L911.45,411.99 L911.5,411.98 L911.55,412.09 L911.65,412.29 L911.75,412.5 L911.85,412.7 L911.95,412.9 L912,413.01 L912.05,412.97 L912.15,412.91 L912.25,412.84 L912.35,412.78 L912.45,412.72 L912.5,412.68 L912.55,412.76 L912.65,412.92 L912.75,413.07 L912.85,413.22 L912.95,413.38 L913,413.45 L913.05,413.3 L913.15,412.99 L913.25,412.68 L913.35,412.37 L913.45,412.06 L913.5,411.9 L913.55,411.96 L913.65,412.07 L913.75,412.18 L913.85,412.29 L913.95,412.4 L914,412.46 L914.05,412.39 L914.15,412.24 L914.25,412.1 L914.35,411.95 L914.45,411.8 L914.5,411.73 L914.55,411.81 L914.65,411.98 L914.75,412.15 L914.85,412.32 L914.95,412.48 L915,412.57 L915.05,412.57 L915.15,412.57 L915.25,412.58 L915.35,412.57 L915.45,412.57 L915.5,412.57 L915.55,412.54 L915.65,412.48 L915.75,412.39 L915.85,412.3 L915.95,412.19 L916,412.13 L916.05,411.93 L916.15,411.51 L916.25,411.09 L916.35,410.65 L916.45,410.2 L916.5,409.97 L916.55,409.99 L916.65,410.01 L916.75,410.02 L916.85,410.02 L916.95,410 L917,409.98 L917.05,409.82 L917.15,409.49 L917.25,409.14 L917.35,408.67 L917.45,408.17 L917.5,407.9 L917.55,407.57 L917.65,406.89 L917.75,406.15 L917.85,405.34 L917.95,404.48 L918,404.02 L918.05,403.68 L918.15,402.93 L918.25,402.09 L918.35,401.16 L918.45,400.13 L918.5,399.47 L918.55,398.76 L918.65,397.21 L918.75,395.48 L918.85,393.52 L918.95,391.33 L919,390.13 L919.05,388.82 L919.15,385.96 L919.25,382.76 L919.35,379.2 L919.45,371.48 L919.5,364.76 L919.55,356.93 L919.65,337.3 L919.75,327 M922.65,327 L922.65,337.64 L922.75,357.06 L922.85,371.45 L922.95,379.05 L923,380.83 L923.05,382.56 L923.15,385.76 L923.25,388.62 L923.35,391.18 L923.45,393.48 L923.5,394.53 L923.55,395.42 L923.65,397.05 L923.75,398.48 L923.85,399.73 L923.95,400.67 L924,401.1 L924.05,401.66 L924.15,402.73 L924.25,403.7 L924.35,404.6 L924.45,405.43 L924.5,405.82 L924.55,406.21 L924.65,406.94 L924.75,407.62 L924.85,408.25 L924.95,408.84 L925,409.12 L925.05,409.21 L925.15,409.29 L925.25,409.35 L925.35,409.38 L925.45,409.41 L925.5,409.41 L925.55,409.49 L925.65,409.64 L925.75,409.78 L925.85,409.91 L925.95,410.02 L926,410.07 L926.05,410.19 L926.15,410.42 L926.25,410.64 L926.35,410.84 L926.45,411.04 L926.5,411.14 L926.55,411.17 L926.65,411.21 L926.75,411.22 L926.85,411.22 L926.95,411.22 L927,411.22 L927.05,411.32 L927.15,411.52 L927.25,411.71 L927.35,411.91 L927.45,412.1 L927.5,412.19 L927.55,412.17 L927.65,412.12 L927.75,412.07 L927.85,412.02 L927.95,411.96 L928,411.94 L928.05,412.03 L928.15,412.23 L928.25,412.43 L928.35,412.62 L928.45,412.82 L928.5,412.91 L928.55,412.92 L928.65,412.93 L928.75,412.93 L928.85,412.94 L928.95,412.94 L929,412.95 L929.05,412.89 L929.15,412.77 L929.25,412.64 L929.35,412.52 L929.45,412.4 L929.5,412.34 L929.55,412.44 L929.65,412.63 L929.75,412.83 L929.85,413.02 L929.95,413.22 L930,413.31 L930.05,413.31 L930.15,413.31 L930.25,413.3 L930.35,413.3 L930.45,413.29 L930.5,413.29 L930.55,413.31 L930.65,413.34 L930.75,413.37 L930.85,413.4 L930.95,413.43 L931,413.44 L931.05,413.45 L931.15,413.46 L931.5,413.51 L932,413.42 L932.5,413.51 L933,412.7 L933.5,413.61" stroke="#111" stroke-width="1.2" fill="none" stroke-linejoin="round"/>
<path d="M595.4,393.6 l4,4 l-4,4 l-4,-4z" fill="#111"/>
<text x="666.3" y="341.9" font-size="17" text-anchor="middle" fill="#111">*</text>
<text x="705.6" y="343.9" font-size="17" text-anchor="middle" fill="#111">*</text>
<text x="832.3" y="342.9" font-size="17" text-anchor="middle" fill="#111">*</text>
<text x="913.3" y="342.9" font-size="17" text-anchor="middle" fill="#111">*</text>
<path d="M680.1,396.8 h8 l-4,8z" fill="#fff" stroke="#222" stroke-width="1"/>
<path d="M691.4,399 h8 l-4,8z" fill="#fff" stroke="#222" stroke-width="1"/>
<circle cx="703.1" cy="395.4" r="3.6" fill="#111"/>
<circle cx="731.6" cy="404.4" r="3.6" fill="#111"/>
<rect x="737.7" y="400" width="7.6" height="7.6" fill="#111"/>
<path d="M562,513.38 L562.5,513.46 L563,513.44 L563.5,512.81 L564,513.21 L564.5,514.09 L565,514.47 L565.5,513.35 L566,513.83 L566.5,515.3 L567,514.2 L567.5,515.34 L568,515.01 L568.5,515.77 L569,516.37 L569.5,516.11 L570,516.01 L570.5,515.98 L571,516.57 L571.5,516.67 L572,516.38 L572.5,516.56 L573,516.76 L573.5,515.98 L574,515.54 L574.5,515.9 L575,514.79 L575.5,515.33 L576,515.37 L576.5,515.11 L577,513.82 L577.5,513.9 L578,514.97 L578.5,514.21 L579,515.51 L579.5,514.38 L580,515.68 L580.5,514.84 L581,516.43 L581.5,517.19 L582,517.28 L582.5,517.08 L583,517.2 L583.5,516.99 L584,515.25 L584.5,515.49 L585,514.32 L585.5,514.81 L586,514.33 L586.5,514.26 L587,514.95 L587.5,513.91 L588,513.86 L588.5,513.31 L589,514.21 L589.5,512.52 L590,511.12 L590.5,510.4 L591,508.28 L591.5,505.15 L592,501.45 L592.5,497.54 L593,494.07 L593.5,490.22 L594,489.08 L594.5,488.68 L595,490.35 L595.5,493.13 L596,496.7 L596.5,500.23 L597,504.22 L597.5,508.12 L598,510.75 L598.5,512.02 L599,515.13 L599.5,514.45 L600,515.13 L600.5,515.05 L601,514.26 L601.5,514.74 L602,514.19 L602.5,513.67 L603,512.19 L603.5,511.43 L604,512.18 L604.5,513.85 L605,514.69 L605.5,516.38 L606,515.99 L606.5,517.9 L607,517.68 L607.5,517.55 L608,517.77 L608.5,517.43 L609,517.16 L609.5,517.19 L610,516.92 L610.5,516.47 L611,516.76 L611.5,514.86 L612,514.57 L612.5,514.74 L613,516.34 L613.5,516.92 L614,518.5 L614.5,518.92 L615,519.59 L615.5,520.23 L616,519.59 L616.5,521.01 L617,520.49 L617.5,520.22 L618,520.5 L618.5,521.2 L619,520.45 L619.5,520.3 L620,520.02 L620.5,520.32 L621,521.01 L621.5,520.75 L622,520.2 L622.5,521.28 L623,520 L623.5,520.39 L624,521.13 L624.5,521.39 L625,520.63 L625.5,519.89 L626,520.84 L626.5,520.64 L627,519.98 L627.5,520.54 L628,521.47 L628.5,520.05 L629,520.31 L629.5,520.31 L630,521.41 L630.5,520.59 L631,521.25 L631.5,521.26 L632,520.15 L632.5,520.89 L633,520.37 L633.5,521.55 L634,521.04 L634.5,520.86 L635,521.63 L635.5,521.67 L636,520.41 L636.5,520.47 L637,520.88 L637.5,520.88 L638,521.12 L638.5,521.12 L639,522.06 L639.5,521.57 L640,522.08 L640.5,521.51 L641,520.87 L641.5,521.45 L642,520.77 L642.5,521.51 L643,520.77 L643.5,522.12 L644,521.07 L644.5,522.08 L645,520.95 L645.5,520.94 L646,521.02 L646.5,522.01 L647,522.02 L647.5,521.87 L648,521.54 L648.5,520.63 L649,520.52 L649.5,519.75 L650,520.66 L650.5,518.45 L651,518.37 L651.5,515.94 L652,515.21 L652.5,514.73 L653,513.39 L653.5,513.08 L654,514.88 L654.5,514.67 L655,515.25 L655.5,517.53 L656,518.99 L656.5,518.99 L657,518.65 L657.5,519.62 L658,520.1 L658.5,519.53 L659,519.81 L659.5,520.31 L660,520.11 L660.5,520.39 L661,520.58 L661.5,519.82 L662,520.58 L662.5,519.07 L663,519.71 L663.5,519.93 L664,520.3 L664.25,519.87 L664.35,519.7 L664.45,519.53 L664.5,519.44 L664.55,519.43 L664.65,519.4 L664.75,519.37 L664.85,519.34 L664.95,519.31 L665,519.3 L665.05,519.36 L665.15,519.5 L665.25,519.63 L665.35,519.76 L665.45,519.89 L665.5,519.96 L665.55,519.88 L665.65,519.71 L665.75,519.54 L665.85,519.37 L665.95,519.2 L666,519.11 L666.05,519.02 L666.15,518.85 L666.25,518.68 L666.35,518.51 L666.45,518.33 L666.5,518.24 L666.55,518.29 L666.65,518.39 L666.75,518.48 L666.85,518.58 L666.95,518.67 L667,518.71 L667.05,518.66 L667.15,518.55 L667.25,518.43 L667.35,518.3 L667.45,518.16 L667.5,518.09 L667.55,518.11 L667.65,518.15 L667.75,518.19 L667.85,518.22 L667.95,518.25 L668,518.26 L668.05,518.22 L668.15,518.14 L668.25,518.06 L668.35,517.97 L668.45,517.87 L668.5,517.82 L668.55,517.6 L668.65,517.17 L668.75,516.73 L668.85,516.27 L668.95,515.81 L669,515.57 L669.05,515.51 L669.15,515.38 L669.25,515.23 L669.35,515 L669.45,514.75 L669.5,514.62 L669.55,514.53 L669.65,514.33 L669.75,514.1 L669.85,513.84 L669.95,513.54 L670,513.38 L670.05,513.09 L670.15,512.49 L670.25,511.84 L670.35,511.15 L670.45,510.4 L670.5,510.01 L670.55,509.61 L670.65,508.78 L670.75,507.88 L670.85,506.83 L670.95,505.62 L671,504.97 L671.05,504.23 L671.15,502.67 L671.25,500.98 L671.35,499.15 L671.45,497.17 L671.5,496.11 L671.55,495.18 L671.65,493.18 L671.75,490.98 L671.85,488.57 L671.95,485.92 L672,484.5 L672.05,480.66 L672.15,470.25 L672.25,457.13 L672.35,440.59 L672.45,433.8 M676.15,433.8 L676.15,438.96 L676.25,455.6 L676.35,468.81 L676.45,479.31 L676.5,483.21 L676.55,484.78 L676.65,487.75 L676.75,490.47 L676.85,492.99 L676.95,495.31 L677,496.4 L677.05,497.31 L677.15,499.01 L677.25,500.55 L677.35,501.96 L677.45,503.24 L677.5,503.84 L677.55,504.5 L677.65,505.75 L677.75,506.85 L677.85,507.78 L677.95,508.66 L678,509.07 L678.05,509.43 L678.15,510.11 L678.25,510.74 L678.35,511.32 L678.45,511.86 L678.5,512.11 L678.55,512.39 L678.65,512.93 L678.75,513.43 L678.85,513.9 L678.95,514.33 L679,514.54 L679.05,514.6 L679.15,514.69 L679.25,514.76 L679.35,514.74 L679.45,514.72 L679.5,514.7 L679.55,514.83 L679.65,515.09 L679.75,515.33 L679.85,515.56 L679.95,515.79 L680,515.89 L680.05,516.03 L680.15,516.31 L680.25,516.58 L680.35,516.84 L680.45,517.09 L680.5,517.21 L680.55,517.16 L680.65,517.05 L680.75,516.94 L680.85,516.82 L680.95,516.69 L681,516.63 L681.05,516.73 L681.15,516.92 L681.25,517.1 L681.35,517.27 L681.45,517.43 L681.5,517.51 L681.55,517.47 L681.65,517.4 L681.75,517.33 L681.85,517.25 L681.95,517.16 L682,517.12 L682.05,517.07 L682.15,516.98 L682.25,516.87 L682.35,516.75 L682.45,516.61 L682.5,516.53 L682.55,516.5 L682.65,516.41 L682.75,516.3 L682.85,516.17 L682.95,516 L683,515.91 L683.05,515.83 L683.15,515.67 L683.25,515.49 L683.35,515.31 L683.45,515.13 L683.5,515.04 L683.55,514.88 L683.65,514.58 L683.75,514.32 L683.85,514.1 L683.95,513.95 L684,513.89 L684.05,514.05 L684.15,514.42 L684.25,514.84 L684.5,516.09 L685,516.5 L685.5,517.13 L686,518.38 L686.5,517.11 L687,518.43 L687.5,517.93 L688,517.33 L688.5,517.87 L689,518.88 L689.5,517.28 L690,517.71 L690.5,517.62 L691,518.41 L691.5,517.83 L692,519.02 L692.5,518.3 L693,519.38 L693.5,518.06 L694,518.33 L694.5,518.07 L695,518.18 L695.5,518.5 L696,519.28 L696.5,519.3 L697,519.68 L697.5,518.75 L698,519.28 L698.5,519.84 L699,518.62 L699.5,518.37 L700,518.13 L700.5,519.12 L701,517.74 L701.5,515.76 L702,513.25 L702.5,510.39 L703,510.3 L703.35,511.87 L703.45,512.46 L703.5,512.76 L703.55,512.91 L703.65,513.23 L703.75,513.56 L703.85,513.88 L703.95,514.18 L704,514.32 L704.05,514.58 L704.15,515.06 L704.25,515.51 L704.35,515.92 L704.45,516.28 L704.5,516.45 L704.55,516.62 L704.65,516.95 L704.75,517.25 L704.85,517.5 L704.95,517.73 L705,517.84 L705.05,517.75 L705.15,517.55 L705.25,517.34 L705.35,517.1 L705.45,516.86 L705.5,516.74 L705.55,516.78 L705.65,516.86 L705.75,516.94 L705.85,517.01 L705.95,517.07 L706,517.1 L706.05,517.13 L706.15,517.19 L706.25,517.25 L706.35,517.31 L706.45,517.36 L706.5,517.38 L706.55,517.37 L706.65,517.34 L706.75,517.3 L706.85,517.27 L706.95,517.23 L707,517.21 L707.05,517.2 L707.15,517.2 L707.25,517.19 L707.35,517.17 L707.45,517.16 L707.5,517.15 L707.55,517.14 L707.65,517.12 L707.75,517.1 L707.85,517.07 L707.95,517.05 L708,517.02 L708.05,516.92 L708.15,516.7 L708.25,516.48 L708.35,516.25 L708.45,516.02 L708.5,515.89 L708.55,515.76 L708.65,515.5 L708.75,515.22 L708.85,514.93 L708.95,514.62 L709,514.46 L709.05,514.41 L709.15,514.29 L709.25,514.15 L709.35,513.99 L709.45,513.81 L709.5,513.72 L709.55,513.62 L709.65,513.35 L709.75,513.03 L709.85,512.67 L709.95,512.25 L710,512.02 L710.05,511.58 L710.15,510.66 L710.25,509.66 L710.35,508.59 L710.45,507.43 L710.5,506.82 L710.55,506.32 L710.65,505.24 L710.75,503.96 L710.85,502.41 L710.95,500.68 L711,499.73 L711.05,498.7 L711.15,496.45 L711.25,493.93 L711.35,491.12 L711.45,487.97 L711.5,486.26 L711.55,484.59 L711.65,479.85 L711.75,466.7 L711.85,448.79 L711.95,433.8 M714.85,433.8 L714.85,448.87 L714.95,467.13 L715,474.39 L715.05,480.57 L715.15,485.53 L715.25,489 L715.35,492.11 L715.45,494.88 L715.5,496.16 L715.55,497.31 L715.65,499.43 L715.75,501.31 L715.85,502.98 L715.95,504.46 L716,505.13 L716.05,505.68 L716.15,506.68 L716.25,507.59 L716.35,508.4 L716.45,509.12 L716.5,509.45 L716.55,509.93 L716.65,510.82 L716.75,511.65 L716.85,512.43 L716.95,513.15 L717,513.49 L717.05,513.7 L717.15,514.1 L717.25,514.39 L717.35,514.64 L717.45,514.86 L717.5,514.96 L717.55,515.13 L717.65,515.45 L717.75,515.75 L717.85,516.02 L717.95,516.27 L718,516.39 L718.05,516.4 L718.15,516.4 L718.25,516.37 L718.35,516.32 L718.45,516.24 L718.5,516.19 L718.55,516.06 L718.65,515.8 L718.75,515.5 L718.85,515.15 L718.95,514.77 L719,514.57 L719.05,514.5 L719.15,514.34 L719.25,514.15 L719.35,513.96 L719.45,513.75 L719.5,513.65 L719.55,513.54 L719.65,513.32 L719.75,513.11 L719.85,512.91 L719.95,512.74 L720,512.66 L720.05,512.64 L720.15,512.64 L720.25,512.67 L720.35,512.75 L720.45,512.87 L720.5,512.95 L720.55,512.9 L720.65,512.83 L720.75,512.82 L720.85,512.84 L720.95,512.91 L721,512.96 L721.05,513.07 L721.15,513.32 L721.25,513.59 L721.35,513.87 L721.45,514.16 L721.5,514.31 L721.55,514.47 L721.65,514.77 L721.75,515.06 L721.85,515.34 L721.95,515.6 L722,515.73 L722.05,515.87 L722.15,516.14 L722.25,516.39 L722.35,516.62 L722.45,516.83 L722.5,516.93 L722.55,517.04 L722.65,517.25 L722.75,517.45 L722.85,517.62 L722.95,517.79 L723,517.86 L723.05,517.94 L723.15,518.07 L723.25,518.19 L723.35,518.31 L723.5,518.47 L724,518.83 L724.5,517.64 L725,518.48 L725.5,519.26 L726,518.34 L726.5,517.94 L727,518.9 L727.5,519.25 L728,517.97 L728.5,518.1 L729,518.53 L729.5,518.69 L730,518.32 L730.5,518.32 L731,518.95 L731.5,519.91 L732,519.3 L732.5,518.87 L733,520.08 L733.5,519.06 L734,518.95 L734.5,519.05 L735,519.01 L735.5,520.65 L736,520.13 L736.5,521.02 L737,520.4 L737.5,519.73 L738,520.37 L738.5,520.44 L739,520.14 L739.5,519.69 L740,519.91 L740.5,519.47 L741,519.82 L741.5,519.75 L742,521.38 L742.5,521.24 L743,522.46 L743.5,522.71 L744,521.31 L744.5,521.74 L745,523.03 L745.5,523.19 L746,522.93 L746.5,521.57 L747,522.45 L747.5,522.71 L748,522.34 L748.5,522.26 L749,522.63 L749.5,521.38 L750,522.22 L750.5,522.87 L751,522.12 L751.5,521.77 L752,521.36 L752.5,522.61 L753,522.21 L753.5,522.66 L754,522.65 L754.5,522.16 L755,522.4 L755.5,522.31 L756,522.15 L756.5,521.57 L757,521.98 L757.5,522.13 L758,521.22 L758.5,522.08 L759,521.73 L759.5,521.33 L760,521.39 L760.5,522.21 L761,520.76 L761.5,520.72 L762,521.49 L762.5,520.83 L763,522.1 L763.5,522.21 L764,521.25 L764.5,521.24 L765,521.77 L765.5,522.14 L766,521.73 L766.5,522.16 L767,521.22 L767.5,521.43 L768,521.81 L768.5,521.9 L769,521.29 L769.5,521.24 L770,522.07 L770.5,521.77 L771,521.54 L771.5,521.06 L772,521.25 L772.5,520.78 L773,521.05 L773.5,520.78 L774,521.01 L774.5,521.69 L775,521.58 L775.5,522.07 L776,521.59 L776.5,521.21 L777,521.22 L777.5,522.04 L778,520.66 L778.5,520.9 L779,521.38 L779.5,520.87 L780,521.3 L780.5,520.89 L781,521.67 L781.5,522.09 L782,521.28 L782.5,521.93 L783,520.62 L783.5,520.8 L784,520.86 L784.5,521.95 L785,521.08 L785.5,521.59 L786,522.08 L786.5,521.57 L787,521.3 L787.5,521.54 L788,521.73 L788.5,521.62 L789,521.53 L789.5,520.84 L790,522.26 L790.5,521.84 L791,522.1 L791.5,521.95 L792,520.98 L792.5,521.36 L793,521.62 L793.5,520.9 L794,521.99 L794.5,521.43 L795,521.59 L795.5,522.16 L796,521.14 L796.5,521.17 L797,521.61 L797.5,520.77 L798,521.03 L798.5,520.95 L799,522.25 L799.5,521.68 L800,521.95 L800.5,521.67 L801,521.13 L801.5,521.22 L802,522.21 L802.5,521.63 L803,521.62 L803.5,521.32 L804,522.12 L804.5,520.97 L805,522.08 L805.5,521.77 L806,521.83 L806.5,522.27 L807,521.41 L807.5,521.49 L808,521.29 L808.5,521.72 L809,522.03 L809.5,521.88 L810,520.97 L810.5,521.95 L811,520.63 L811.5,521.67 L812,520.87 L812.5,521.12 L813,521.54 L813.5,520.82 L814,521.8 L814.5,521.7 L815,521.89 L815.5,521.39 L816,522 L816.5,521.83 L817,521.5 L817.5,521.69 L818,521 L818.5,521.58 L819,521.05 L819.5,520.8 L820,521.59 L820.5,522.12 L821,521.25 L821.5,520.41 L822,520.51 L822.5,518.84 L823,519.16 L823.5,519.76 L824,519.77 L824.5,520.63 L825,521.2 L825.5,521.66 L826,521.73 L826.5,522.18 L827,521.56 L827.5,522.12 L828,520.89 L828.5,520.95 L829,522.16 L829.5,521.83 L830,521.14 L830.5,520.53 L830.55,520.56 L830.65,520.62 L830.75,520.67 L830.85,520.72 L830.95,520.78 L831,520.8 L831.05,520.82 L831.15,520.86 L831.25,520.9 L831.35,520.94 L831.45,520.98 L831.5,521 L831.55,520.92 L831.65,520.78 L831.75,520.63 L831.85,520.49 L831.95,520.34 L832,520.27 L832.05,520.36 L832.15,520.54 L832.25,520.72 L832.35,520.9 L832.45,521.08 L832.5,521.17 L832.55,521.21 L832.65,521.29 L832.75,521.38 L832.85,521.46 L832.95,521.54 L833,521.58 L833.05,521.47 L833.15,521.25 L833.25,521.03 L833.35,520.8 L833.45,520.58 L833.5,520.46 L833.55,520.45 L833.65,520.42 L833.75,520.39 L833.85,520.35 L833.95,520.32 L834,520.3 L834.05,520.27 L834.15,520.21 L834.25,520.14 L834.35,520.07 L834.45,520 L834.5,519.97 L834.55,519.96 L834.65,519.95 L834.75,519.94 L834.85,519.92 L834.95,519.9 L835,519.89 L835.05,519.89 L835.15,519.86 L835.25,519.83 L835.35,519.79 L835.45,519.74 L835.5,519.71 L835.55,519.59 L835.65,519.34 L835.75,519.09 L835.85,518.82 L835.95,518.54 L836,518.39 L836.05,518.25 L836.15,517.97 L836.25,517.67 L836.35,517.35 L836.45,517.01 L836.5,516.83 L836.55,516.7 L836.65,516.41 L836.75,516.01 L836.85,515.57 L836.95,515.09 L837,514.83 L837.05,514.7 L837.15,514.4 L837.25,514.04 L837.35,513.62 L837.45,513.12 L837.5,512.85 L837.55,512.36 L837.65,511.31 L837.75,510.18 L837.85,508.93 L837.95,507.37 L838,506.52 L838.05,505.59 L838.15,503.57 L838.25,501.33 L838.35,498.86 L838.45,496.12 L838.5,494.64 L838.55,493.21 L838.65,490.12 L838.75,486.65 L838.85,479.02 L838.95,464.62 L839,455.62 L839.05,445.18 L839.15,433.8 M842.05,433.8 L842.05,445.03 L842.15,464.46 L842.25,478.86 L842.35,486.47 L842.45,489.93 L842.5,491.51 L842.55,493.16 L842.65,496.2 L842.75,498.94 L842.85,501.42 L842.95,503.65 L843,504.69 L843.05,505.54 L843.15,507.1 L843.25,508.5 L843.35,509.57 L843.45,510.53 L843.5,510.98 L843.55,511.45 L843.65,512.33 L843.75,513.13 L843.85,513.86 L843.95,514.52 L844,514.83 L844.05,515.08 L844.15,515.53 L844.25,515.94 L844.35,516.3 L844.45,516.62 L844.5,516.73 L844.55,516.92 L844.65,517.29 L844.75,517.64 L844.85,517.98 L844.95,518.3 L845,518.45 L845.05,518.54 L845.15,518.72 L845.25,518.88 L845.35,519.02 L845.45,519.16 L845.5,519.22 L845.55,519.34 L845.65,519.57 L845.75,519.79 L845.85,520.01 L845.95,520.21 L846,520.31 L846.05,520.33 L846.15,520.34 L846.25,520.34 L846.35,520.34 L846.45,520.34 L846.5,520.34 L846.55,520.24 L846.65,520.05 L846.75,519.86 L846.85,519.66 L846.95,519.47 L847,519.37 L847.05,519.39 L847.15,519.44 L847.25,519.48 L847.35,519.53 L847.45,519.57 L847.5,519.59 L847.55,519.65 L847.65,519.76 L847.75,519.87 L847.85,519.98 L847.95,520.09 L848,520.15 L848.05,520.12 L848.15,520.07 L848.25,520.03 L848.35,519.98 L848.45,519.93 L848.5,519.9 L848.55,519.9 L848.65,519.91 L848.75,519.92 L848.85,519.93 L848.95,519.94 L849,519.94 L849.05,519.94 L849.15,519.95 L849.25,519.96 L849.35,519.97 L849.45,519.98 L849.5,519.98 L849.55,520.1 L849.65,520.33 L849.75,520.56 L849.85,520.8 L849.95,521.03 L850,521.14 L850.05,521.02 L850.15,520.77 L850.25,520.53 L850.35,520.28 L850.45,520.03 L850.5,519.91 L850.55,520.03 L851,521.09 L851.5,520.55 L852,521 L852.5,520.53 L853,520.12 L853.5,520.4 L854,521.26 L854.5,521.01 L855,520.8 L855.5,520.37 L856,520.92 L856.5,519.9 L857,520.41 L857.5,520.22 L858,520.3 L858.5,520.96 L859,519.83 L859.5,520.02 L860,520.48 L860.5,520.01 L861,521.02 L861.5,520.22 L862,519.46 L862.5,519.91 L863,519.89 L863.5,520.1 L864,519.38 L864.5,520.95 L865,520.07 L865.5,520.53 L866,520.1 L866.5,520.08 L867,519.8 L867.5,520.8 L868,519.5 L868.5,520.11 L869,519.68 L869.5,519.72 L870,519.35 L870.5,520.78 L871,519.67 L871.5,520.32 L872,520.38 L872.5,520.65 L873,519.83 L873.5,519.89 L874,520.45 L874.5,519.96 L875,519.4 L875.5,519.6 L876,520.51 L876.5,519.49 L877,519.96 L877.5,520.23 L878,520.27 L878.5,519.94 L879,520.19 L879.5,520.52 L880,519.66 L880.5,519.4 L881,519.48 L881.5,520.05 L882,519.1 L882.5,520.19 L883,519.18 L883.5,518.98 L884,519.94 L884.5,519.23 L885,519.95 L885.5,518.99 L886,519.09 L886.5,519.41 L887,519.81 L887.5,519.5 L888,520.19 L888.5,520.13 L889,518.74 L889.5,519.94 L890,520.19 L890.5,518.97 L891,519.16 L891.5,519.39 L892,520.1 L892.5,518.84 L893,518.9 L893.5,519.85 L894,518.85 L894.5,519.92 L895,519.1 L895.5,520 L896,518.82 L896.5,518.87 L897,519.55 L897.5,519.6 L898,519.42 L898.5,518.65 L899,519.08 L899.5,519.42 L900,519.41 L900.5,519.81 L901,519.49 L901.5,519.35 L902,519.44 L902.5,519.37 L903,519.69 L903.5,519.04 L904,519.44 L904.5,519.26 L905,518.46 L905.5,519.09 L906,518.9 L906.5,519.02 L907,518.48 L907.5,519.88 L908,519.01 L908.5,519.38 L909,518.82 L909.5,519.32 L910,519.8 L910.5,519.6 L911,519.8 L911.5,519.62 L912,520.14 L912.05,520.07 L912.15,519.93 L912.25,519.8 L912.35,519.66 L912.45,519.52 L912.5,519.46 L912.55,519.38 L912.65,519.22 L912.75,519.07 L912.85,518.91 L912.95,518.75 L913,518.67 L913.05,518.66 L913.15,518.63 L913.25,518.6 L913.35,518.57 L913.45,518.54 L913.5,518.52 L913.55,518.66 L913.65,518.94 L913.75,519.22 L913.85,519.5 L913.95,519.77 L914,519.91 L914.05,519.84 L914.15,519.7 L914.25,519.56 L914.35,519.41 L914.45,519.27 L914.5,519.2 L914.55,519.19 L914.65,519.19 L914.75,519.18 L914.85,519.17 L914.95,519.15 L915,519.15 L915.05,519.15 L915.15,519.15 L915.25,519.15 L915.35,519.15 L915.45,519.15 L915.5,519.15 L915.55,519.13 L915.65,519.1 L915.75,519.06 L915.85,519.03 L915.95,518.99 L916,518.97 L916.05,518.88 L916.15,518.69 L916.25,518.48 L916.35,518.25 L916.45,518.02 L916.5,517.9 L916.55,517.83 L916.65,517.68 L916.75,517.53 L916.85,517.36 L916.95,517.19 L917,517.1 L917.05,517.07 L917.15,517.02 L917.25,516.95 L917.35,516.87 L917.45,516.78 L917.5,516.73 L917.55,516.59 L917.65,516.29 L917.75,515.98 L917.85,515.65 L917.95,515.24 L918,515.01 L918.05,514.84 L918.15,514.47 L918.25,514.06 L918.35,513.61 L918.45,513.11 L918.5,512.84 L918.55,512.49 L918.65,511.77 L918.75,510.98 L918.85,510.12 L918.95,509.19 L919,508.69 L919.05,508.29 L919.15,507.43 L919.25,506.29 L919.35,504.99 L919.45,503.53 L919.5,502.73 L919.55,501.78 L919.65,499.73 L919.75,497.45 L919.85,494.92 L919.95,492.12 L920,490.61 L920.05,488.98 L920.15,485.46 L920.25,476.32 L920.35,462.09 L920.45,443.32 L920.5,433.8 M923.65,433.8 L923.65,442.95 L923.75,461.47 L923.85,475.44 L923.95,484.34 L924,486.02 L924.05,487.69 L924.15,490.8 L924.25,493.6 L924.35,496.13 L924.45,498.41 L924.5,499.47 L924.55,500.62 L924.65,502.78 L924.75,504.76 L924.85,506.58 L924.95,508.23 L925,508.93 L925.05,509.31 L925.15,510.02 L925.25,510.63 L925.35,511.18 L925.45,511.65 L925.5,511.86 L925.55,512.2 L925.65,512.84 L925.75,513.43 L925.85,513.96 L925.95,514.45 L926,514.68 L926.05,514.98 L926.15,515.55 L926.25,516.06 L926.35,516.5 L926.45,516.91 L926.5,517.11 L926.55,517.2 L926.65,517.35 L926.75,517.49 L926.85,517.61 L926.95,517.72 L927,517.77 L927.05,517.9 L927.15,518.14 L927.25,518.38 L927.35,518.6 L927.45,518.81 L927.5,518.92 L927.55,518.85 L927.65,518.72 L927.75,518.58 L927.85,518.43 L927.95,518.28 L928,518.19 L928.05,518.22 L928.15,518.27 L928.25,518.32 L928.35,518.37 L928.45,518.42 L928.5,518.45 L928.55,518.53 L928.65,518.69 L928.75,518.85 L928.85,519.01 L928.95,519.17 L929,519.25 L929.05,519.34 L929.15,519.52 L929.25,519.7 L929.35,519.88 L929.45,520.06 L929.5,520.14 L929.55,520.06 L929.65,519.9 L929.75,519.74 L929.85,519.57 L929.95,519.41 L930,519.32 L930.05,519.37 L930.15,519.48 L930.25,519.58 L930.35,519.68 L930.45,519.78 L930.5,519.83 L930.55,519.9 L930.65,520.04 L930.75,520.17 L930.85,520.31 L930.95,520.44 L931,520.51 L931.05,520.51 L931.15,520.5 L931.25,520.5 L931.35,520.5 L931.45,520.49 L931.5,520.49 L931.55,520.45 L931.65,520.38 L931.75,520.31 L931.85,520.24 L931.95,520.16 L932,520.13 L932.05,520.07 L932.5,519.56 L933,519.68 L933.5,519.76" stroke="#111" stroke-width="1.2" fill="none" stroke-linejoin="round"/>
<path d="M594.1,476.3 l4,4 l-4,4 l-4,-4z" fill="#111"/>
<text x="667.1" y="444.8" font-size="17" text-anchor="middle" fill="#111">*</text>
<text x="706.7" y="446.8" font-size="17" text-anchor="middle" fill="#111">*</text>
<text x="833.3" y="446.2" font-size="17" text-anchor="middle" fill="#111">*</text>
<text x="914.4" y="446.2" font-size="17" text-anchor="middle" fill="#111">*</text>
<rect x="649.7" y="502.6" width="7.6" height="7.6" fill="#111"/>
<path d="M679.7,502.8 h8 l-4,8z" fill="#fff" stroke="#222" stroke-width="1"/>
<path d="M693.2,506.7 h8 l-4,8z" fill="#fff" stroke="#222" stroke-width="1"/>
<circle cx="702.8" cy="503.9" r="3.6" fill="#111"/>
<circle cx="732.6" cy="512.2" r="3.6" fill="#111"/>
<rect x="738.6" y="509.4" width="7.6" height="7.6" fill="#111"/>
<rect x="820.3" y="506.9" width="7.6" height="7.6" fill="#111"/>
<path d="M562,618.38 L562.5,617.14 L563,617.41 L563.5,617.06 L564,615.36 L564.5,615.76 L565,615.88 L565.5,616.69 L566,618.11 L566.5,619.77 L567,619.56 L567.5,621.17 L568,621.34 L568.5,621.14 L569,621.7 L569.5,621.73 L570,621.96 L570.5,622.78 L571,622.96 L571.5,621.89 L572,623.29 L572.5,622.75 L573,623.45 L573.5,623.32 L574,622.93 L574.5,622.57 L575,623.83 L575.5,624.22 L576,623.85 L576.5,623.23 L577,624.56 L577.5,624.26 L578,623.78 L578.5,623.16 L579,623.1 L579.5,623.68 L580,624.47 L580.5,625.73 L581,626.27 L581.5,627.06 L582,627.11 L582.5,627.1 L583,626.11 L583.5,625.45 L584,624.82 L584.5,623.14 L585,622.71 L585.5,622.41 L586,621.87 L586.5,622.41 L587,621.67 L587.5,620.7 L588,619.22 L588.5,618.09 L589,617.11 L589.5,615.36 L590,612.44 L590.5,608.61 L591,602.95 L591.5,595.98 L592,589.41 L592.5,581.69 L593,575.35 L593.5,566.99 L594,561.08 L594.5,555.41 L595,552.28 L595.5,551.9 L596,553.01 L596.5,555.62 L597,562.04 L597.5,568.42 L598,577.17 L598.5,583.93 L599,591.64 L599.5,599.93 L600,605.32 L600.5,610.02 L601,615.49 L601.5,619.85 L602,622.46 L602.5,624.55 L603,627.75 L603.5,627.12 L604,626.24 L604.5,624.39 L605,624.48 L605.5,623.45 L606,624.87 L606.5,627.43 L607,629.62 L607.5,630.99 L608,630.03 L608.5,630.77 L609,630.14 L609.5,631.02 L610,630.08 L610.5,629.82 L611,629.11 L611.5,627.3 L612,625.83 L612.5,624.04 L613,624.05 L613.5,625.53 L614,626.85 L614.5,627.92 L615,628.21 L615.5,630.21 L616,630.84 L616.5,631.08 L617,630.98 L617.5,631.5 L618,631.61 L618.5,632.27 L619,632.61 L619.5,634.01 L620,634.13 L620.5,634.96 L621,634.01 L621.5,634.1 L622,633.83 L622.5,634.19 L623,635.07 L623.5,635.19 L624,635.38 L624.5,633.91 L625,635.05 L625.5,634.87 L626,634.54 L626.5,635.58 L627,635.18 L627.5,634.58 L628,635.5 L628.5,634.87 L629,634.95 L629.5,634.99 L630,635.02 L630.5,634.29 L631,635.67 L631.5,634.8 L632,634.89 L632.5,633.83 L633,633.34 L633.5,631.65 L634,632.05 L634.5,633.65 L635,635.74 L635.5,635.79 L636,635.97 L636.5,634.96 L637,635.62 L637.5,636.15 L638,636.22 L638.5,635.76 L639,635.18 L639.5,635.75 L640,636.76 L640.5,636.64 L641,636.15 L641.5,635.68 L642,636.08 L642.5,636.02 L643,635.8 L643.5,636.44 L644,635.93 L644.5,635.11 L645,636.17 L645.5,636.09 L646,635.05 L646.5,635.75 L647,636.5 L647.5,635.91 L648,635.94 L648.5,635.58 L649,635.47 L649.5,636.4 L650,635.18 L650.5,635.47 L651,634.81 L651.5,635.49 L652,635.55 L652.5,634.66 L653,632.26 L653.5,626.47 L654,623.87 L654.5,626.58 L655,631.08 L655.5,634.9 L656,634.6 L656.5,635.19 L657,636.08 L657.5,635.06 L658,635.12 L658.5,635.03 L659,634.84 L659.5,634.82 L660,635.67 L660.5,634.2 L661,634.21 L661.5,635.4 L662,635.18 L662.5,634.6 L663,634.62 L663.5,634.53 L664,634.07 L664.5,634.29 L665,634.08 L665.5,634.39 L665.6,634.29 L665.7,634.18 L665.8,634.08 L665.9,633.97 L666,633.87 L666.1,633.93 L666.2,634 L666.3,634.07 L666.4,634.13 L666.5,634.2 L666.6,633.99 L666.7,633.78 L666.8,633.58 L666.9,633.37 L667,633.16 L667.1,633.46 L667.2,633.76 L667.3,634.06 L667.4,634.35 L667.5,634.65 L667.6,634.29 L667.7,633.93 L667.8,633.57 L667.9,633.21 L668,632.85 L668.1,632.98 L668.2,633.11 L668.3,633.23 L668.4,633.36 L668.5,633.48 L668.6,633.42 L668.7,633.35 L668.8,633.28 L668.9,633.21 L669,633.14 L669.1,633.02 L669.2,632.89 L669.3,632.76 L669.4,632.64 L669.5,632.51 L669.6,632.74 L669.7,632.98 L669.8,633.21 L669.9,633.45 L670,633.67 L670.1,633.45 L670.2,633.23 L670.3,633.01 L670.4,632.78 L670.5,632.55 L670.6,632.4 L670.7,632.25 L670.8,632.09 L670.9,631.91 L671,631.7 L671.1,631.63 L671.2,631.54 L671.3,631.44 L671.4,631.32 L671.5,631.19 L671.6,630.94 L671.7,630.68 L671.8,630.39 L671.9,630.09 L672,629.76 L672.1,629.57 L672.2,629.33 L672.3,628.97 L672.4,628.56 L672.5,628.08 L672.6,627.56 L672.7,626.95 L672.8,626.26 L672.9,625.47 L673,624.56 L673.1,623.36 L673.2,622.02 L673.3,620.29 L673.4,618.3 L673.5,616.04 L673.6,613.23 L673.7,610.06 L673.8,606.48 L673.9,602.45 L674,597.88 L674.1,584.55 L674.2,564.18 L674.3,547.4 M676.8,547.4 L676.8,563.72 L676.9,584.28 L677,597.82 L677.1,602.41 L677.2,606.47 L677.3,610.07 L677.4,613.26 L677.5,616.1 L677.6,618.07 L677.7,619.76 L677.8,621.2 L677.9,622.25 L678,623.16 L678.1,624.22 L678.2,625.17 L678.3,626.02 L678.4,626.78 L678.5,627.46 L678.6,628.21 L678.7,628.9 L678.8,629.53 L678.9,630.04 L679,630.5 L679.1,630.66 L679.2,630.79 L679.3,630.89 L679.4,630.98 L679.5,631.05 L679.6,631.28 L679.7,631.49 L679.8,631.69 L679.9,631.87 L680,632.05 L680.1,632.44 L680.2,632.81 L680.3,633.16 L680.4,633.5 L680.5,633.83 L680.6,633.64 L680.7,633.44 L680.8,633.23 L680.9,633.03 L681,632.82 L681.1,633.07 L681.2,633.32 L681.3,633.56 L681.4,633.8 L681.5,634.04 L681.6,634.11 L681.7,634.18 L681.8,634.25 L681.9,634.31 L682,634.37 L682.1,634.27 L682.2,634.17 L682.3,634.07 L682.4,633.96 L682.5,633.86 L682.6,633.88 L682.7,633.9 L682.8,633.91 L682.9,633.92 L683,633.93 L683.1,633.85 L683.2,633.76 L683.3,633.67 L683.4,633.55 L683.5,633.42 L683.6,633.39 L683.7,633.32 L683.8,633.23 L683.9,633.11 L684,632.95 L684.1,632.8 L684.2,632.61 L684.3,632.41 L684.4,632.19 L684.5,631.98 L684.6,631.72 L684.7,631.48 L684.8,631.29 L684.9,631.15 L685,631.07 L685.1,631.03 L685.2,631.07 L685.3,631.17 L685.4,631.34 L685.5,631.56 L686,632.77 L686.5,634.77 L687,634.48 L687.5,634.49 L688,634.7 L688.5,635.35 L689,634.8 L689.5,634.23 L690,632.36 L690.5,629.26 L691,629.64 L691.5,630.75 L692,633.71 L692.5,634.79 L693,634.98 L693.5,634.69 L694,635.82 L694.5,635.09 L695,635.22 L695.5,634.7 L696,635.92 L696.5,635.87 L697,634.66 L697.5,634.96 L698,634.73 L698.5,634.52 L699,635.55 L699.5,634.99 L700,634.64 L700.5,631.75 L701,627.14 L701.5,625.71 L702,626.53 L702.5,630.54 L703,630.43 L703.5,626.01 L704,623.17 L704.3,623.7 L704.4,624.29 L704.5,625.05 L704.6,625.72 L704.7,626.47 L704.8,627.27 L704.9,628.06 L705,628.82 L705.1,629.64 L705.2,630.37 L705.3,631.01 L705.4,631.54 L705.5,631.98 L705.6,632.52 L705.7,632.98 L705.8,633.37 L705.9,633.7 L706,633.99 L706.1,634.18 L706.2,634.34 L706.3,634.49 L706.4,634.61 L706.5,634.73 L706.6,634.58 L706.7,634.43 L706.8,634.27 L706.9,634.11 L707,633.95 L707.1,634.08 L707.2,634.2 L707.3,634.32 L707.4,634.44 L707.5,634.56 L707.6,634.37 L707.7,634.17 L707.8,633.97 L707.9,633.77 L708,633.57 L708.1,633.4 L708.2,633.24 L708.3,633.08 L708.4,632.91 L708.5,632.74 L708.6,632.72 L708.7,632.69 L708.8,632.67 L708.9,632.64 L709,632.6 L709.1,632.64 L709.2,632.64 L709.3,632.64 L709.4,632.62 L709.5,632.6 L709.6,632.61 L709.7,632.61 L709.8,632.59 L709.9,632.57 L710,632.52 L710.1,632.3 L710.2,632.07 L710.3,631.81 L710.4,631.54 L710.5,631.24 L710.6,630.99 L710.7,630.63 L710.8,630.22 L710.9,629.76 L711,629.24 L711.1,628.48 L711.2,627.65 L711.3,626.75 L711.4,625.76 L711.5,624.69 L711.6,623.7 L711.7,622.59 L711.8,621.23 L711.9,619.62 L712,617.79 L712.1,615.62 L712.2,613.18 L712.3,610.44 L712.4,607.38 L712.5,603.95 L712.6,600.04 L712.7,590.58 L712.8,574.32 L712.9,552.12 L713,547.4 M715.7,547.4 L715.7,550.85 L715.8,572.63 L715.9,588.42 L716,597.37 L716.1,600.81 L716.2,603.8 L716.3,606.37 L716.4,608.56 L716.5,610.43 L716.6,611.86 L716.7,613.03 L716.8,613.97 L716.9,614.65 L717,615.07 L717.1,615.54 L717.2,615.93 L717.3,616.27 L717.4,616.57 L717.5,616.86 L717.6,617.35 L717.7,617.86 L717.8,618.41 L717.9,619 L718,619.64 L718.1,619.99 L718.2,620.42 L718.3,620.92 L718.4,621.48 L718.5,622.11 L718.6,622.64 L718.7,623.21 L718.8,623.81 L718.9,624.44 L719,625.08 L719.1,626.03 L719.2,626.98 L719.3,627.91 L719.4,628.81 L719.5,629.67 L719.6,630.08 L719.7,630.44 L719.8,630.76 L719.9,631.03 L720,631.25 L720.1,631.94 L720.2,632.59 L720.3,633.19 L720.4,633.75 L720.5,634.27 L720.6,634.34 L720.7,634.38 L720.8,634.39 L720.9,634.39 L721,634.36 L721.1,634.47 L721.2,634.57 L721.3,634.66 L721.4,634.73 L721.5,634.8 L721.6,634.74 L721.7,634.67 L721.8,634.59 L721.9,634.52 L722,634.43 L722.1,634.37 L722.2,634.31 L722.3,634.24 L722.4,634.17 L722.5,634.1 L722.6,634.31 L722.7,634.51 L722.8,634.71 L722.9,634.91 L723,635.12 L723.1,635.17 L723.2,635.22 L723.3,635.26 L723.4,635.31 L723.5,635.36 L723.6,635.4 L723.7,635.44 L723.8,635.48 L723.9,635.53 L724,635.57 L724.1,635.6 L724.2,635.64 L724.3,635.68 L724.5,635.76 L725,636.05 L725.5,634.39 L726,634.85 L726.5,632.39 L727,632.31 L727.5,632.01 L728,632.74 L728.5,634.82 L729,636.18 L729.5,636.43 L730,636.55 L730.5,635.9 L731,636.23 L731.5,636.17 L732,635.14 L732.5,632.81 L733,627.58 L733.5,627.17 L734,631.82 L734.5,635.42 L735,636.92 L735.5,635.56 L736,637.2 L736.5,636.07 L737,636.21 L737.5,636.83 L738,637.36 L738.5,636.07 L739,636.43 L739.5,637.34 L740,637.29 L740.5,636.58 L741,636.35 L741.5,637.29 L742,636.29 L742.5,636.6 L743,636.02 L743.5,636.4 L744,636.81 L744.5,636.93 L745,637.41 L745.5,637.17 L746,636.54 L746.5,636.85 L747,636.61 L747.5,636.45 L748,636.53 L748.5,637.9 L749,637.66 L749.5,637.77 L750,637.57 L750.5,636.83 L751,637.66 L751.5,637.34 L752,637.79 L752.5,637.45 L753,637.49 L753.5,636.2 L754,636.27 L754.5,634.38 L755,633.6 L755.5,634.29 L756,636.61 L756.5,637.08 L757,637.03 L757.5,638.03 L758,637.94 L758.5,638.14 L759,638.49 L759.5,637.5 L760,637.87 L760.5,636.97 L761,637.95 L761.5,638.22 L762,637.53 L762.5,636.84 L763,638.01 L763.5,637.45 L764,637.1 L764.5,638.04 L765,637.45 L765.5,637.61 L766,637.76 L766.5,637.5 L767,637.87 L767.5,637.2 L768,637.09 L768.5,637.48 L769,638.06 L769.5,637.23 L770,636.99 L770.5,637.1 L771,637.24 L771.5,636.88 L772,637.42 L772.5,637.6 L773,638.3 L773.5,636.75 L774,637.04 L774.5,636.85 L775,637.21 L775.5,638.02 L776,636.83 L776.5,637.42 L777,637.26 L777.5,637.96 L778,637.46 L778.5,638.21 L779,637.96 L779.5,638.05 L780,637.81 L780.5,636.66 L781,636.65 L781.5,638.1 L782,636.76 L782.5,636.54 L783,637.47 L783.5,637.42 L784,636.69 L784.5,637.13 L785,637.08 L785.5,637.16 L786,636.98 L786.5,636.58 L787,637.46 L787.5,636.91 L788,637.79 L788.5,637.99 L789,636.37 L789.5,637.61 L790,637.55 L790.5,636.79 L791,637.26 L791.5,636.76 L792,637.72 L792.5,636.82 L793,637.33 L793.5,636.66 L794,637.68 L794.5,636.59 L795,637.81 L795.5,636.47 L796,636.88 L796.5,637.36 L797,636.84 L797.5,637.49 L798,636.44 L798.5,637.82 L799,637 L799.5,637.63 L800,636.4 L800.5,636.79 L801,636.94 L801.5,637.68 L802,637.76 L802.5,636.74 L803,636.72 L803.5,636.63 L804,636.16 L804.5,636.26 L805,637.31 L805.5,636.19 L806,637.4 L806.5,636.71 L807,636.3 L807.5,636.49 L808,636.17 L808.5,637.03 L809,636.38 L809.5,636.97 L810,636.69 L810.5,636.97 L811,636.05 L811.5,637.15 L812,636.22 L812.5,636.6 L813,637.48 L813.5,637.53 L814,636.77 L814.5,636.63 L815,636.72 L815.5,636.93 L816,637.45 L816.5,636.29 L817,635.8 L817.5,636.74 L818,636.35 L818.5,636.61 L819,636.59 L819.5,635.96 L820,636.33 L820.5,637.24 L821,636.68 L821.5,636.88 L822,636.72 L822.5,636.17 L823,635.88 L823.5,636.62 L824,635.95 L824.5,636.63 L825,637.19 L825.5,635.7 L826,637.07 L826.5,636.63 L827,637.27 L827.5,636.22 L828,636.22 L828.5,635.91 L829,636.86 L829.5,635.68 L830,635.81 L830.5,635.98 L831,637.12 L831.05,637.11 L831.15,637.1 L831.25,637.08 L831.35,637.06 L831.45,637.05 L831.5,637.04 L831.55,636.99 L831.65,636.88 L831.75,636.77 L831.85,636.66 L831.95,636.55 L832,636.49 L832.05,636.49 L832.15,636.48 L832.25,636.48 L832.35,636.47 L832.45,636.46 L832.5,636.46 L832.55,636.4 L832.65,636.27 L832.75,636.15 L832.85,636.03 L832.95,635.91 L833,635.85 L833.05,635.9 L833.15,636.01 L833.25,636.13 L833.35,636.24 L833.45,636.35 L833.5,636.4 L833.55,636.44 L833.65,636.51 L833.75,636.58 L833.85,636.65 L833.95,636.72 L834,636.76 L834.05,636.65 L834.15,636.43 L834.25,636.22 L834.35,636 L834.45,635.78 L834.5,635.67 L834.55,635.62 L834.65,635.52 L834.75,635.42 L834.85,635.32 L834.95,635.21 L835,635.16 L835.05,635.16 L835.15,635.15 L835.25,635.14 L835.35,635.12 L835.45,635.11 L835.5,635.1 L835.55,635.11 L835.65,635.14 L835.75,635.15 L835.85,635.17 L835.95,635.19 L836,635.19 L836.05,635.15 L836.15,635.06 L836.25,634.97 L836.35,634.87 L836.45,634.77 L836.5,634.72 L836.55,634.68 L836.65,634.55 L836.75,634.42 L836.85,634.27 L836.95,634.11 L837,634.02 L837.05,633.97 L837.15,633.86 L837.25,633.73 L837.35,633.58 L837.45,633.41 L837.5,633.32 L837.55,633.25 L837.65,633.08 L837.75,632.89 L837.85,632.67 L837.95,632.3 L838,632.1 L838.05,631.76 L838.15,631.04 L838.25,630.24 L838.35,629.35 L838.45,628.36 L838.5,627.83 L838.55,627.26 L838.65,626.04 L838.75,624.68 L838.85,623.13 L838.95,621.17 L839,620.09 L839.05,619.02 L839.15,616.64 L839.25,613.91 L839.35,610.79 L839.45,607.2 L839.5,605.21 L839.55,603.01 L839.65,594.99 L839.75,576.97 L839.85,551.09 L839.95,547.4 M842.25,547.4 L842.25,551.81 L842.35,577.53 L842.45,595.4 L842.5,600.99 L842.55,603.17 L842.65,607.11 L842.75,610.51 L842.85,613.46 L842.95,616.01 L843,617.15 L843.05,618.45 L843.15,620.82 L843.25,622.93 L843.35,624.62 L843.45,626.13 L843.5,626.83 L843.55,627.31 L843.65,628.19 L843.75,628.96 L843.85,629.63 L843.95,630.21 L844,630.47 L844.05,630.83 L844.15,631.51 L844.25,632.12 L844.35,632.58 L844.45,633.02 L844.5,633.23 L844.55,633.25 L844.65,633.27 L844.75,633.27 L844.85,633.25 L844.95,633.2 L845,633.18 L845.05,633.33 L845.15,633.64 L845.25,633.92 L845.35,634.2 L845.45,634.46 L845.5,634.59 L845.55,634.72 L845.65,634.95 L845.75,635.17 L845.85,635.38 L845.95,635.59 L846,635.7 L846.05,635.58 L846.15,635.36 L846.25,635.13 L846.35,634.89 L846.45,634.66 L846.5,634.54 L846.55,634.69 L846.65,634.98 L846.75,635.27 L846.85,635.55 L846.95,635.84 L847,635.98 L847.05,635.93 L847.15,635.83 L847.25,635.73 L847.35,635.62 L847.45,635.51 L847.5,635.46 L847.55,635.46 L847.65,635.45 L847.75,635.44 L847.85,635.42 L847.95,635.41 L848,635.4 L848.05,635.37 L848.15,635.29 L848.25,635.21 L848.35,635.13 L848.45,635.05 L848.5,635.01 L848.55,635.07 L848.65,635.19 L848.75,635.31 L848.85,635.43 L848.95,635.55 L849,635.61 L849.05,635.55 L849.15,635.42 L849.25,635.29 L849.35,635.16 L849.45,635.03 L849.5,634.97 L849.55,634.97 L849.65,634.98 L849.75,634.98 L849.85,634.99 L849.95,635 L850,635 L850.05,634.99 L850.15,634.97 L850.25,634.94 L850.35,634.92 L850.45,634.9 L850.5,634.89 L850.55,634.9 L850.65,634.94 L850.75,634.97 L850.85,635 L850.95,635.03 L851,635.04 L851.05,635.12 L851.5,635.8 L852,635.41 L852.5,636.23 L853,635.11 L853.5,635.17 L854,635.99 L854.5,635.64 L855,634.84 L855.5,635.59 L856,635.09 L856.5,636.23 L857,635.77 L857.5,635.72 L858,635.07 L858.5,635.96 L859,635.88 L859.5,635.63 L860,635.22 L860.5,635.83 L861,635.12 L861.5,634.66 L862,635.08 L862.5,635 L863,635.47 L863.5,634.64 L864,635.7 L864.5,634.61 L865,635.25 L865.5,634.93 L866,636.01 L866.5,635.25 L867,634.71 L867.5,634.7 L868,634.77 L868.5,635.3 L869,634.75 L869.5,635.86 L870,635.49 L870.5,634.47 L871,634.17 L871.5,634.24 L872,634.86 L872.5,634.53 L873,634.75 L873.5,634.74 L874,635.6 L874.5,634.36 L875,635.68 L875.5,635.4 L876,635.55 L876.5,634.74 L877,634.72 L877.5,634.77 L878,635.34 L878.5,634.71 L879,633.97 L879.5,634.25 L880,635.49 L880.5,633.82 L881,634.83 L881.5,635.23 L882,634.42 L882.5,634.55 L883,634.59 L883.5,633.82 L884,634.43 L884.5,635.21 L885,634.36 L885.5,634.01 L886,635.1 L886.5,634.99 L887,634.62 L887.5,634.69 L888,634.01 L888.5,634.56 L889,634.78 L889.5,633.66 L890,634.13 L890.5,633.98 L891,633.86 L891.5,634.44 L892,633.54 L892.5,633.63 L893,634.22 L893.5,634.03 L894,634.29 L894.5,633.69 L895,633.9 L895.5,634.77 L896,634.04 L896.5,633.4 L897,634.9 L897.5,634.45 L898,634.36 L898.5,634.44 L899,634.41 L899.5,634.28 L900,633.3 L900.5,633.21 L901,633.27 L901.5,634.71 L902,633.39 L902.5,633.71 L903,634.83 L903.5,633.76 L904,634.47 L904.5,633.6 L905,633.51 L905.5,634.3 L906,634.68 L906.5,633.67 L907,634.98 L907.5,634.59 L908,634.6 L908.5,634.2 L909,633.82 L909.5,634.55 L910,635.03 L910.5,634.4 L911,634.38 L911.5,634.84 L912,633.93 L912.5,633.92 L912.85,634.39 L912.95,634.53 L913,634.59 L913.05,634.62 L913.15,634.67 L913.25,634.72 L913.35,634.77 L913.45,634.82 L913.5,634.84 L913.55,634.83 L913.65,634.81 L913.75,634.79 L913.85,634.77 L913.95,634.75 L914,634.74 L914.05,634.66 L914.15,634.5 L914.25,634.34 L914.35,634.17 L914.45,634.01 L914.5,633.93 L914.55,633.99 L914.65,634.12 L914.75,634.24 L914.85,634.37 L914.95,634.49 L915,634.55 L915.05,634.62 L915.15,634.75 L915.25,634.89 L915.35,635.02 L915.45,635.15 L915.5,635.21 L915.55,635.07 L915.65,634.79 L915.75,634.51 L915.85,634.23 L915.95,633.94 L916,633.8 L916.05,633.92 L916.15,634.18 L916.25,634.43 L916.35,634.68 L916.45,634.93 L916.5,635.06 L916.55,634.98 L916.65,634.83 L916.75,634.67 L916.85,634.51 L916.95,634.35 L917,634.26 L917.05,634.31 L917.15,634.4 L917.25,634.49 L917.35,634.57 L917.45,634.65 L917.5,634.69 L917.55,634.53 L917.65,634.19 L917.75,633.83 L917.85,633.46 L917.95,633.07 L918,632.88 L918.05,632.86 L918.15,632.81 L918.25,632.75 L918.35,632.68 L918.45,632.59 L918.5,632.54 L918.55,632.42 L918.65,632.16 L918.75,631.88 L918.85,631.58 L918.95,631.27 L919,631.1 L919.05,631.01 L919.15,630.8 L919.25,630.48 L919.35,630.11 L919.45,629.69 L919.5,629.46 L919.55,629.22 L919.65,628.69 L919.75,628.09 L919.85,627.42 L919.95,626.66 L920,626.25 L920.05,625.68 L920.15,624.46 L920.25,623.13 L920.35,621.54 L920.45,619.7 L920.5,618.7 L920.55,617.78 L920.65,615.76 L920.75,613.49 L920.85,610.92 L920.95,608.02 L921,606.44 L921.05,604.76 L921.15,601.1 L921.25,591.88 L921.35,575.87 L921.45,553.91 L921.5,547.4 M924.25,547.4 L924.25,553.6 L924.35,575.44 L924.45,591.33 L924.5,597.57 L924.55,600.56 L924.65,604.36 L924.75,607.75 L924.85,610.78 L924.95,613.47 L925,614.7 L925.05,615.96 L925.15,618.3 L925.25,620.4 L925.35,622.3 L925.45,623.94 L925.5,624.65 L925.55,625.12 L925.65,625.98 L925.75,626.75 L925.85,627.42 L925.95,628.01 L926,628.27 L926.05,628.62 L926.15,629.25 L926.25,629.82 L926.35,630.33 L926.45,630.8 L926.5,631.02 L926.55,631.28 L926.65,631.69 L926.75,632.07 L926.85,632.44 L926.95,632.78 L927,632.95 L927.05,633.1 L927.15,633.4 L927.25,633.68 L927.35,633.94 L927.45,634.19 L927.5,634.31 L927.55,634.27 L927.65,634.16 L927.75,634.04 L927.85,633.91 L927.95,633.78 L928,633.7 L928.05,633.84 L928.15,634.07 L928.25,634.3 L928.35,634.53 L928.45,634.75 L928.5,634.86 L928.55,634.8 L928.65,634.7 L928.75,634.59 L928.85,634.47 L928.95,634.36 L929,634.3 L929.05,634.43 L929.15,634.7 L929.25,634.97 L929.35,635.23 L929.45,635.49 L929.5,635.63 L929.55,635.54 L929.65,635.37 L929.75,635.2 L929.85,635.03 L929.95,634.86 L930,634.77 L930.05,634.86 L930.15,635.04 L930.25,635.21 L930.35,635.39 L930.45,635.57 L930.5,635.65 L930.55,635.63 L930.65,635.59 L930.75,635.55 L930.85,635.51 L930.95,635.46 L931,635.44 L931.05,635.47 L931.15,635.52 L931.25,635.58 L931.35,635.63 L931.45,635.68 L931.5,635.71 L931.55,635.78 L931.65,635.91 L931.75,636.05 L931.85,636.18 L931.95,636.31 L932,636.38 L932.05,636.24 L932.15,635.96 L932.25,635.68 L932.35,635.4 L932.45,635.12 L932.5,634.97 L932.55,635.12 L932.65,635.41 L932.75,635.69 L932.85,635.98 L933,636.41 L933.5,635.57" stroke="#111" stroke-width="1.2" fill="none" stroke-linejoin="round"/>
<path d="M596.3,540.8 l4,4 l-4,4 l-4,-4z" fill="#111"/>
<text x="668.3" y="559.8" font-size="17" text-anchor="middle" fill="#111">*</text>
<text x="708.1" y="560.8" font-size="17" text-anchor="middle" fill="#111">*</text>
<text x="834.4" y="560.4" font-size="17" text-anchor="middle" fill="#111">*</text>
<text x="915.4" y="560.5" font-size="17" text-anchor="middle" fill="#111">*</text>
<rect x="649.1" y="612.9" width="7.6" height="7.6" fill="#111"/>
<path d="M682.5,615.7 h8 l-4,8z" fill="#fff" stroke="#222" stroke-width="1"/>
<path d="M695.2,615.2 h8 l-4,8z" fill="#fff" stroke="#222" stroke-width="1"/>
<circle cx="703.1" cy="612.6" r="3.6" fill="#111"/>
<circle cx="726.5" cy="624.7" r="3.6" fill="#111"/>
<rect x="731.1" y="616.8" width="7.6" height="7.6" fill="#111"/>
<rect x="821.3" y="622.8" width="7.6" height="7.6" fill="#111"/>
</svg></body></html>
